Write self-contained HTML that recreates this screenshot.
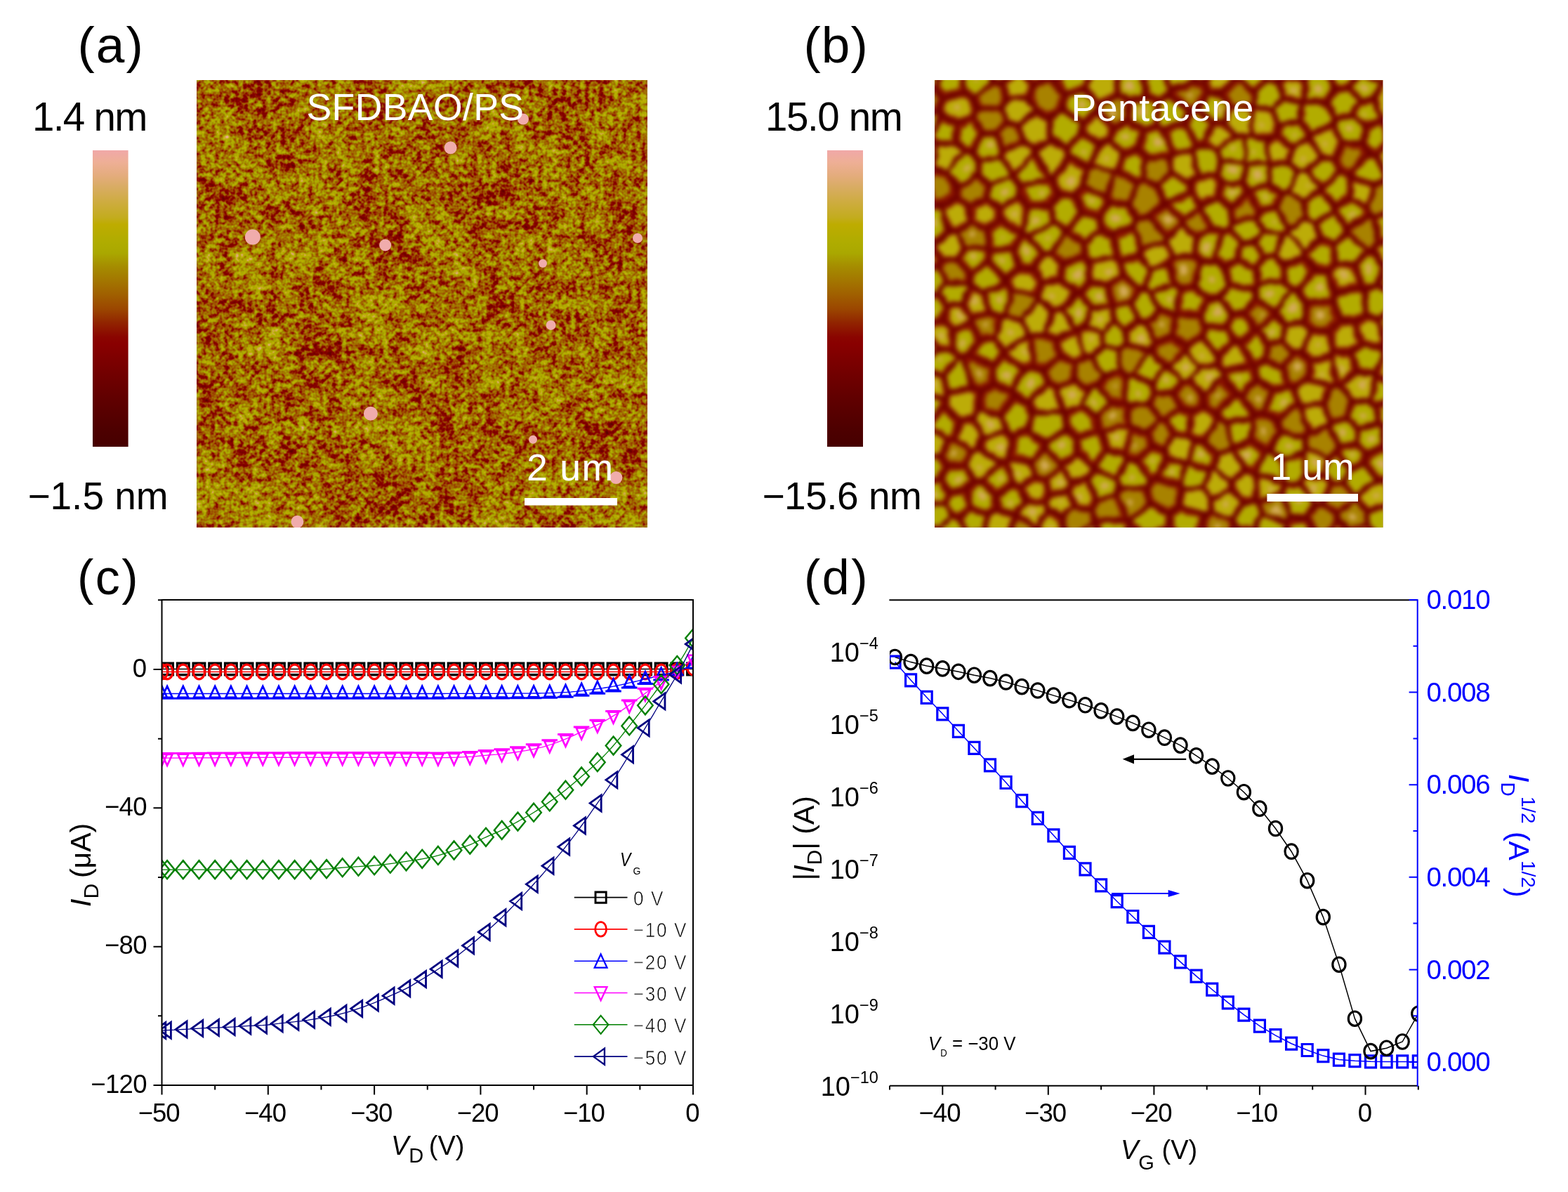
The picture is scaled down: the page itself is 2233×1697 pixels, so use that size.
<!DOCTYPE html><html><head><meta charset="utf-8"><title>Figure</title>
<style>html,body{margin:0;padding:0;background:#fff;overflow:hidden}svg{display:block}</style></head><body>
<svg width="2233" height="1697" viewBox="0 0 2233 1697" font-family="'Liberation Sans', Arial, Helvetica, sans-serif">
<defs>
<linearGradient id="cbar" x1="0" y1="0" x2="0" y2="1">
<stop offset="0.000" stop-color="rgb(240,168,168)"/>
<stop offset="0.040" stop-color="rgb(238,175,150)"/>
<stop offset="0.085" stop-color="rgb(228,172,125)"/>
<stop offset="0.130" stop-color="rgb(215,172,95)"/>
<stop offset="0.180" stop-color="rgb(205,172,60)"/>
<stop offset="0.227" stop-color="rgb(195,172,30)"/>
<stop offset="0.250" stop-color="rgb(190,172,0)"/>
<stop offset="0.310" stop-color="rgb(175,172,0)"/>
<stop offset="0.346" stop-color="rgb(170,168,0)"/>
<stop offset="0.393" stop-color="rgb(165,140,0)"/>
<stop offset="0.440" stop-color="rgb(163,118,0)"/>
<stop offset="0.488" stop-color="rgb(160,95,0)"/>
<stop offset="0.536" stop-color="rgb(155,70,0)"/>
<stop offset="0.583" stop-color="rgb(145,35,0)"/>
<stop offset="0.630" stop-color="rgb(138,5,0)"/>
<stop offset="0.654" stop-color="rgb(137,0,0)"/>
<stop offset="0.749" stop-color="rgb(115,0,0)"/>
<stop offset="0.844" stop-color="rgb(95,0,0)"/>
<stop offset="0.938" stop-color="rgb(78,0,0)"/>
<stop offset="1.000" stop-color="rgb(70,0,0)"/>
</linearGradient>
<filter id="fa" x="280" y="114" width="642" height="637" filterUnits="userSpaceOnUse" color-interpolation-filters="sRGB">
<feTurbulence type="fractalNoise" baseFrequency="0.15" numOctaves="2" seed="11" result="t1"/>
<feColorMatrix in="t1" type="matrix" values="1 0 0 0 0 1 0 0 0 0 1 0 0 0 0 0 0 0 0 1" result="n1"/>
<feTurbulence type="fractalNoise" baseFrequency="0.045" numOctaves="2" seed="23" result="t3"/>
<feColorMatrix in="t3" type="matrix" values="1 0 0 0 0 1 0 0 0 0 1 0 0 0 0 0 0 0 0 1" result="n3"/>
<feTurbulence type="fractalNoise" baseFrequency="0.012" numOctaves="3" seed="5" result="t2"/>
<feColorMatrix in="t2" type="matrix" values="1 0 0 0 0 1 0 0 0 0 1 0 0 0 0 0 0 0 0 1" result="n2"/>
<feComposite in="n1" in2="n3" operator="arithmetic" k1="0" k2="0.66" k3="0.38" k4="-0.02" result="n13"/>
<feComposite in="n13" in2="n2" operator="arithmetic" k1="0" k2="1" k3="0.24" k4="-0.09" result="n"/>
<feColorMatrix in="n" type="matrix" values="1 0 0 0 0 1 0 0 0 0 1 0 0 0 0 0 0 0 0 1" result="g"/>
<feComponentTransfer in="g"><feFuncR type="table" tableValues="0.275 0.287 0.300 0.316 0.335 0.353 0.371 0.392 0.413 0.434 0.456 0.479 0.502 0.526 0.539 0.550 0.565 0.584 0.606 0.617 0.628 0.634 0.640 0.644 0.651 0.661 0.674 0.689 0.714 0.739 0.761 0.783 0.804 0.824 0.845 0.874 0.901 0.924 0.936 0.941"/><feFuncG type="table" tableValues="0.000 0.000 0.000 0.000 0.000 0.000 0.000 0.000 0.000 0.000 0.000 0.000 0.000 0.000 0.011 0.056 0.120 0.192 0.267 0.322 0.374 0.422 0.470 0.517 0.569 0.629 0.664 0.675 0.675 0.675 0.675 0.675 0.675 0.675 0.675 0.675 0.677 0.683 0.676 0.659"/><feFuncB type="table" tableValues="0.000 0.000 0.000 0.000 0.000 0.000 0.000 0.000 0.000 0.000 0.000 0.000 0.000 0.000 0.000 0.000 0.000 0.000 0.000 0.000 0.000 0.000 0.000 0.000 0.000 0.000 0.000 0.000 0.000 0.000 0.098 0.172 0.237 0.307 0.377 0.444 0.508 0.564 0.614 0.659"/><feFuncA type="linear" slope="0" intercept="1"/></feComponentTransfer>
</filter>
<filter id="fb" x="1300" y="80" width="700" height="700" filterUnits="userSpaceOnUse" color-interpolation-filters="sRGB">
<feTurbulence type="fractalNoise" baseFrequency="0.06" numOctaves="2" seed="9" result="dn"/>
<feDisplacementMap in="SourceGraphic" in2="dn" scale="8" xChannelSelector="R" yChannelSelector="G" result="dd"/>
<feGaussianBlur in="dd" stdDeviation="3.2"/>
</filter>
<clipPath id="cpa"><rect x="280" y="114" width="642" height="637"/></clipPath>
<clipPath id="cpb"><rect x="1331" y="114" width="638.5" height="637"/></clipPath>
<clipPath id="cpc"><rect x="231" y="855" width="755" height="689"/></clipPath>
<clipPath id="cpd"><rect x="1267" y="855" width="751" height="690"/></clipPath>
</defs>
<rect width="2233" height="1697" fill="#fff"/>
<text x="110.5" y="88.8" font-size="73" text-anchor="start" fill="#000" letter-spacing="2">(a)</text>
<text x="1144.5" y="88.8" font-size="73" text-anchor="start" fill="#000" letter-spacing="1">(b)</text>
<text x="46" y="185.8" font-size="56.5" text-anchor="start" fill="#000" letter-spacing="-1.7">1.4 nm</text>
<text x="39.4" y="725" font-size="55" text-anchor="start" fill="#000">&#8722;1.5 nm</text>
<text x="1090" y="185.8" font-size="56.5" text-anchor="start" fill="#000" letter-spacing="-1.4">15.0 nm</text>
<text x="1085.5" y="725" font-size="55" text-anchor="start" fill="#000" letter-spacing="-0.5">&#8722;15.6 nm</text>
<rect x="132" y="214" width="50.6" height="422" fill="url(#cbar)"/>
<rect x="1178" y="214" width="51" height="422" fill="url(#cbar)"/>
<rect x="280" y="114" width="642" height="637" fill="#a05000" filter="url(#fa)"/>
<g clip-path="url(#cpa)" fill="rgb(240,172,172)">
<circle cx="745" cy="169.5" r="8"/>
<circle cx="641.6" cy="210.3" r="9"/>
<circle cx="359.8" cy="337.5" r="11"/>
<circle cx="548.7" cy="349.1" r="8.5"/>
<circle cx="908" cy="339" r="7"/>
<circle cx="773" cy="375" r="6"/>
<circle cx="784.6" cy="462.9" r="7"/>
<circle cx="527.9" cy="588.7" r="10"/>
<circle cx="759" cy="625.8" r="6"/>
<circle cx="877.4" cy="680.1" r="9"/>
<circle cx="423.4" cy="742.8" r="9"/>
</g>
<g clip-path="url(#cpb)">
<rect x="1331" y="114" width="638.5" height="637" fill="rgb(106,0,0)"/>
<g filter="url(#fb)">
<g fill="rgb(138,18,0)">
<polygon points="1422.3,658.5 1397.7,683.9 1388.2,682.9 1377.6,663.1 1383.8,645.0 1393.3,640.7"/>
<polygon points="1923.3,669.3 1916.5,686.4 1930.9,703.6 1959.1,683.7 1942.2,663.2"/>
<polygon points="1565.5,549.8 1574.2,535.2 1593.8,531.3 1602.8,535.9 1601.7,572.9 1581.2,571.1"/>
<polygon points="1308.4,402.5 1326.6,418.4 1335.0,417.9 1344.7,402.6 1336.1,380.5 1310.0,391.7"/>
<polygon points="1867.3,511.5 1855.2,499.8 1867.1,471.3 1891.6,474.7 1897.4,498.4 1894.0,503.5"/>
<polygon points="1261.5,59.1 1273.1,51.0 1291.9,52.1 1303.0,65.9 1300.9,86.0 1299.4,87.6 1268.8,89.6 1268.5,89.3"/>
<polygon points="1548.9,235.5 1526.0,223.3 1521.2,210.1 1541.3,191.2 1564.5,204.8 1550.2,235.0"/>
<polygon points="1640.5,499.3 1657.9,520.0 1666.0,520.8 1686.8,499.4 1687.1,493.3 1669.5,480.6 1645.6,489.8"/>
<polygon points="1573.9,491.0 1569.2,472.7 1585.8,461.2 1600.5,471.6 1601.5,487.6 1592.9,495.2"/>
<polygon points="1890.2,145.4 1860.5,141.8 1859.1,113.2 1870.1,102.3 1887.7,105.1 1898.8,127.0"/>
<polygon points="1462.3,294.4 1455.8,328.9 1424.8,312.0 1425.3,296.8 1450.0,281.5"/>
<polygon points="1834.3,331.8 1856.3,357.8 1856.0,364.2 1829.5,374.0 1817.9,362.7 1828.9,335.2"/>
<polygon points="1452.1,383.6 1435.4,399.0 1434.9,402.2 1441.3,412.5 1475.7,419.4 1481.4,403.9 1471.5,386.3"/>
<polygon points="1750.0,297.5 1752.4,317.0 1749.7,322.2 1741.0,325.4 1728.2,322.5 1711.1,297.1 1711.9,292.3 1734.6,285.5"/>
<polygon points="1841.8,410.9 1830.4,400.6 1830.4,377.8 1856.9,368.0 1870.1,385.0 1846.7,411.7"/>
<polygon points="1556.6,743.6 1556.9,742.1 1552.2,728.1 1532.6,723.8 1515.4,735.7 1517.7,758.5 1528.9,761.6"/>
<polygon points="1791.6,676.5 1827.7,689.3 1828.5,690.3 1824.9,699.7 1793.4,714.4 1789.0,711.8"/>
<polygon points="1438.5,801.1 1449.0,812.7 1469.6,807.5 1474.3,774.4 1448.4,776.8"/>
<polygon points="1897.8,349.6 1880.9,342.2 1860.6,358.8 1860.4,365.2 1873.5,382.2 1890.1,383.8 1900.4,373.0"/>
<polygon points="1837.4,326.9 1859.5,313.8 1871.7,318.1 1878.6,338.7 1858.3,355.4 1836.3,329.4"/>
<polygon points="1377.5,760.0 1401.0,761.1 1404.2,766.0 1403.0,785.5 1374.1,798.9 1363.7,776.1"/>
<polygon points="1949.2,647.2 1945.5,661.2 1962.4,681.6 1975.1,683.6 1985.0,669.5 1982.9,644.3 1971.5,636.8"/>
<polygon points="1781.9,190.3 1785.8,155.0 1788.0,153.2 1809.6,158.5 1819.5,176.7 1814.3,191.1 1805.1,196.2"/>
<polygon points="1937.9,784.1 1966.9,768.5 1971.7,769.5 1973.3,772.7 1969.6,799.6 1947.5,807.6 1942.9,805.1"/>
<polygon points="1560.7,740.4 1555.9,726.4 1562.5,714.6 1588.9,705.3 1603.2,738.3"/>
<polygon points="2000.7,311.1 1989.1,300.5 1992.1,282.2 2016.0,273.2 2030.5,285.2 2008.8,312.1"/>
<polygon points="1971.0,374.7 2002.5,375.0 2006.2,363.8 1985.4,343.8 1965.2,346.7 1957.6,357.1"/>
<polygon points="1528.1,71.9 1548.9,58.4 1571.5,84.5 1572.3,93.1 1553.7,102.1 1530.4,85.2"/>
<polygon points="1649.9,596.3 1632.6,613.3 1611.1,607.4 1608.5,604.1 1609.3,581.4 1636.1,574.9"/>
<polygon points="1835.5,323.4 1857.6,310.3 1854.6,287.7 1834.6,276.7 1828.2,278.6 1820.0,294.9"/>
<polygon points="1985.7,755.2 1976.0,768.2 1977.6,771.3 2016.4,789.6 2020.1,788.8 2020.5,788.3 2016.1,750.8"/>
<polygon points="1419.1,481.4 1427.2,453.4 1433.1,451.5 1453.2,458.8 1463.4,476.4 1430.6,496.5"/>
<polygon points="1691.2,659.1 1691.1,659.0 1700.9,630.3 1712.9,630.4 1731.7,647.8 1725.5,664.7 1722.4,666.5"/>
<polygon points="1535.2,623.8 1564.2,615.8 1566.3,617.1 1574.5,641.6 1557.7,662.4 1536.9,644.8"/>
<polygon points="1772.6,197.1 1758.8,195.2 1736.2,215.2 1741.5,226.6 1771.5,230.2"/>
<polygon points="1342.5,163.8 1363.0,173.5 1384.6,163.2 1387.7,154.2 1382.9,140.2 1374.2,134.0 1343.6,140.9 1339.3,157.1"/>
<polygon points="1340.5,167.4 1361.0,177.1 1360.0,202.5 1334.4,203.7 1327.6,196.2"/>
<polygon points="1881.1,719.9 1874.8,721.2 1862.6,735.3 1880.6,768.9 1903.9,741.3 1902.0,731.4"/>
<polygon points="1909.0,202.6 1897.8,179.2 1867.8,193.6 1866.9,197.0 1880.3,221.1 1899.8,224.9"/>
<polygon points="1350.2,243.8 1365.1,263.9 1391.4,247.1 1392.3,229.2 1382.9,219.0 1374.1,217.7"/>
<polygon points="1320.4,527.0 1343.8,534.0 1362.2,507.8 1354.8,500.2 1337.2,498.9 1319.7,513.5"/>
<polygon points="1770.6,669.7 1754.6,640.9 1735.5,648.9 1729.3,665.7 1753.1,683.6"/>
<polygon points="1506.8,485.0 1510.0,505.2 1532.4,512.7 1543.5,506.2 1534.9,472.9 1532.3,472.3"/>
<polygon points="1341.6,372.1 1339.2,378.9 1347.9,400.9 1378.7,401.5 1380.5,391.8 1362.6,370.4"/>
<polygon points="1363.3,203.0 1374.3,213.5 1383.1,214.7 1396.8,188.9 1385.9,167.2 1364.3,177.6"/>
<polygon points="1969.3,607.2 2005.7,598.2 2006.7,599.1 2008.4,629.9 1985.3,640.0 1973.9,632.5"/>
<polygon points="1285.1,535.5 1308.2,538.7 1310.7,557.4 1292.6,573.7 1275.1,558.0"/>
<polygon points="1657.5,100.6 1628.8,105.1 1633.3,135.7 1649.1,142.3 1663.5,132.9 1664.7,129.6"/>
<polygon points="1964.9,406.6 1985.8,416.3 1996.0,410.0 2005.2,385.7 2003.1,378.5 1971.6,378.2"/>
<polygon points="1871.0,718.7 1858.8,732.8 1839.0,735.1 1828.7,701.2 1832.3,691.7 1849.8,689.7"/>
<polygon points="1667.7,749.2 1667.7,733.1 1679.4,723.0 1714.7,733.3 1707.5,760.5 1703.4,763.5 1674.4,760.3"/>
<polygon points="1861.0,536.9 1842.8,549.5 1837.7,547.2 1828.4,522.5 1841.8,503.7 1852.0,503.0 1864.1,514.8"/>
<polygon points="1804.4,778.2 1826.5,770.4 1843.1,786.4 1829.6,818.0 1821.3,822.4 1811.7,814.9"/>
<polygon points="1547.3,239.4 1524.4,227.2 1500.4,255.7 1509.0,272.8 1530.1,274.4 1542.4,264.7"/>
<polygon points="1756.1,485.2 1744.4,467.6 1718.1,467.9 1713.9,479.6 1735.4,505.0"/>
<polygon points="1829.4,463.2 1823.6,483.4 1809.0,487.9 1791.4,470.7 1815.6,451.0"/>
<polygon points="1659.4,287.4 1659.4,287.4 1693.7,272.3 1694.1,263.3 1666.8,247.4 1649.9,264.0"/>
<polygon points="1685.5,696.4 1681.4,719.7 1716.6,730.1 1721.4,726.4 1723.9,712.8 1713.0,696.3"/>
<polygon points="1381.8,456.8 1382.6,455.0 1370.3,434.0 1350.0,437.4 1346.0,455.6 1358.9,467.0"/>
<polygon points="1647.3,792.5 1632.4,783.7 1628.2,761.7 1664.0,751.8 1670.7,763.0 1662.6,784.8"/>
<polygon points="1661.5,289.7 1695.8,274.6 1707.6,290.9 1706.7,295.6 1685.4,314.1"/>
<polygon points="1862.7,432.7 1896.3,428.9 1905.2,454.8 1891.7,470.6 1867.3,467.2 1859.0,458.2"/>
<polygon points="1541.3,303.6 1521.1,327.9 1543.7,344.9 1567.2,326.9 1563.6,310.4"/>
<polygon points="1495.4,701.9 1519.6,697.8 1524.8,686.6 1509.8,667.7 1489.0,683.1"/>
<polygon points="1515.5,67.7 1488.2,73.3 1497.5,110.0 1501.7,111.3 1526.2,85.6 1523.9,72.3"/>
<polygon points="1621.9,262.4 1628.6,259.9 1646.0,265.2 1655.5,288.7 1636.4,306.3 1620.7,307.4 1609.9,291.1"/>
<polygon points="1957.4,141.5 1970.2,167.8 1972.4,168.5 1991.1,162.2 1997.5,137.3 1993.7,127.7 1978.7,117.3 1971.3,120.3"/>
<polygon points="1908.2,243.3 1881.9,266.2 1862.9,243.7 1880.3,224.9 1899.7,228.7"/>
<polygon points="1947.7,643.4 1970.0,632.9 1965.4,607.6 1961.6,604.1 1937.3,612.4 1932.8,630.0"/>
<polygon points="1937.7,103.5 1931.8,83.5 1953.5,71.1 1978.6,95.4 1976.6,112.7 1969.2,115.7"/>
<polygon points="1441.5,250.4 1441.5,250.2 1424.3,225.2 1396.5,229.9 1395.6,247.9 1408.3,260.5"/>
<polygon points="1403.4,89.6 1407.5,82.1 1429.2,73.2 1446.5,85.8 1447.2,98.1 1425.2,116.6 1415.2,113.9"/>
<polygon points="1731.1,247.3 1707.4,249.1 1700.6,215.7 1707.1,209.4 1714.5,208.0 1732.4,216.4 1737.8,227.8"/>
<polygon points="1466.0,291.4 1494.8,290.8 1504.5,274.6 1495.9,257.5 1494.8,257.0 1454.3,263.9 1453.7,278.6"/>
<polygon points="1784.6,413.9 1750.4,408.6 1739.9,422.5 1756.0,444.7 1772.2,443.5 1786.0,423.6"/>
<polygon points="1579.1,407.5 1586.5,433.9 1609.7,428.7 1620.5,413.1 1598.0,392.8"/>
<polygon points="1319.8,745.8 1324.5,720.9 1344.3,718.6 1353.6,734.8 1338.1,750.8"/>
<polygon points="1670.7,558.9 1680.9,542.8 1665.5,525.0 1657.4,524.3 1643.2,547.4 1645.9,557.7"/>
<polygon points="1573.9,782.9 1570.1,780.8 1541.9,791.3 1534.4,807.8 1534.6,808.4 1555.8,822.1 1573.9,816.2"/>
<polygon points="1466.2,336.2 1487.1,358.4 1495.9,357.5 1514.8,329.6 1501.1,318.5"/>
<polygon points="1309.2,387.8 1335.2,376.7 1337.6,369.9 1328.2,349.7 1311.5,344.0 1311.3,344.0 1296.0,371.7"/>
<polygon points="1495.6,200.8 1476.7,212.9 1476.2,217.4 1496.5,252.1 1497.6,252.6 1521.6,224.1 1516.7,210.9"/>
<polygon points="1406.7,443.1 1400.2,417.5 1383.5,409.4 1372.8,432.0 1385.1,453.0"/>
<polygon points="1309.2,752.6 1294.9,748.3 1276.1,766.5 1279.8,780.6 1294.6,788.9 1308.8,778.8"/>
<polygon points="1583.1,336.5 1589.0,365.7 1551.9,370.9 1546.2,363.7 1545.4,347.9 1568.8,329.9"/>
<polygon points="1681.0,408.6 1699.8,405.1 1708.0,373.8 1699.6,367.0 1673.1,366.8 1667.9,375.6 1673.2,403.1"/>
<polygon points="1747.0,772.1 1712.2,760.7 1719.4,733.6 1724.3,729.9 1752.9,742.0 1756.4,751.4"/>
<polygon points="1913.9,689.0 1928.4,706.1 1928.3,709.9 1904.5,728.5 1883.6,716.9 1896.8,690.0"/>
<polygon points="1559.6,669.1 1588.8,684.3 1592.5,695.0 1588.9,701.9 1562.5,711.1 1551.9,681.8"/>
<polygon points="1791.0,539.0 1811.9,553.8 1833.9,548.1 1824.6,523.3 1800.8,515.9 1788.7,521.9"/>
<polygon points="1855.9,109.9 1831.9,106.5 1828.6,79.2 1834.9,72.6 1856.8,71.1 1866.9,99.1"/>
<polygon points="1503.7,114.0 1518.3,132.3 1543.7,126.1 1551.5,105.1 1528.2,88.3"/>
<polygon points="1891.6,652.9 1903.7,647.1 1920.0,668.1 1913.2,685.2 1896.1,686.2 1887.5,676.6"/>
<polygon points="1655.0,185.1 1667.8,217.5 1664.7,221.8 1632.6,221.3 1624.1,211.8 1631.2,187.9 1647.9,181.3"/>
<polygon points="1922.8,499.9 1901.1,497.0 1895.2,473.3 1908.7,457.5 1927.8,459.6 1937.0,488.8"/>
<polygon points="1347.8,559.6 1342.9,537.5 1319.4,530.4 1311.8,538.3 1314.2,556.9 1343.6,566.3"/>
<polygon points="1593.4,54.8 1576.0,84.2 1576.8,92.8 1592.5,101.0 1612.1,93.6 1616.4,74.0 1605.5,57.1"/>
<polygon points="2019.1,354.2 2019.0,325.6 2009.0,316.2 2000.8,315.3 1988.0,341.4 2008.8,361.3"/>
<polygon points="1733.2,507.3 1711.7,481.9 1691.7,493.6 1691.4,499.7 1707.6,520.5 1732.0,518.5"/>
<polygon points="1901.0,292.0 1920.3,280.5 1922.6,254.3 1919.3,249.1 1910.1,245.7 1883.8,268.6 1883.8,269.0"/>
<polygon points="1707.2,157.3 1696.1,161.4 1689.3,174.6 1705.9,204.9 1713.3,203.5 1724.8,176.8"/>
<polygon points="1780.9,594.5 1784.5,589.7 1767.5,565.3 1759.6,564.0 1734.4,588.8 1736.7,594.0 1745.5,599.8"/>
<polygon points="1904.8,786.9 1906.7,813.8 1913.5,818.3 1939.1,806.3 1934.1,785.2 1923.1,779.5"/>
<polygon points="1612.8,430.5 1623.6,454.5 1631.5,456.8 1650.0,441.8 1637.3,416.9 1630.5,413.6 1623.6,414.9"/>
<polygon points="2009.4,206.2 2009.4,179.9 1992.7,166.9 1974.0,173.2 1978.8,203.3 2007.3,207.7"/>
<polygon points="1764.4,93.9 1764.6,93.7 1792.0,90.4 1803.1,114.1 1786.3,129.6 1764.0,108.7"/>
<polygon points="1530.9,623.9 1532.5,644.9 1510.4,660.3 1490.0,635.5 1490.0,631.1 1518.0,615.5"/>
<polygon points="1839.2,231.6 1848.2,241.7 1859.8,242.1 1877.1,223.3 1863.7,199.2 1843.0,211.8"/>
<polygon points="1987.3,711.0 2016.5,715.5 2021.2,720.5 2023.2,737.1 2016.4,746.4 1986.0,750.7 1982.5,718.7"/>
<polygon points="1997.5,414.2 2023.5,426.5 2013.1,460.9 2011.7,460.7 1987.3,439.7 1987.4,420.4"/>
<polygon points="1442.1,355.2 1410.2,358.2 1408.9,370.2 1432.6,396.1 1449.4,380.7"/>
<polygon points="1318.5,682.6 1304.2,670.8 1304.4,666.4 1317.0,649.7 1337.9,650.2 1346.6,664.5 1337.3,680.9"/>
<polygon points="1656.3,96.9 1627.7,101.4 1616.3,94.4 1620.6,74.8 1649.4,65.9 1658.6,92.9"/>
<polygon points="1794.9,297.9 1780.4,273.4 1780.5,272.7 1806.6,262.9 1824.4,277.0 1816.2,293.3"/>
<polygon points="1927.2,165.1 1945.5,178.2 1967.0,169.5 1954.1,143.3 1938.5,144.5"/>
<polygon points="1581.2,289.3 1568.0,309.3 1571.6,325.8 1585.8,332.4 1611.9,319.3 1616.8,310.2 1605.9,293.9"/>
<polygon points="1701.0,625.5 1694.4,619.4 1698.9,587.4 1714.0,581.0 1729.7,590.6 1732.1,595.8 1713.0,625.7"/>
<polygon points="1420.2,707.1 1443.3,692.4 1452.1,695.5 1459.4,714.0 1447.2,731.2 1444.9,731.9 1420.8,722.5"/>
<polygon points="1365.5,505.4 1370.5,506.5 1377.9,504.1 1392.9,484.2 1382.5,460.7 1359.6,470.9 1358.1,497.8"/>
<polygon points="1322.0,610.2 1309.2,622.2 1282.9,618.1 1277.0,610.3 1293.9,583.5 1322.6,598.4"/>
<polygon points="1789.7,404.0 1785.2,410.5 1750.9,405.2 1746.2,381.0 1761.8,372.9 1787.1,383.0"/>
<polygon points="1582.4,199.2 1598.7,216.6 1619.8,210.9 1626.9,187.1 1606.2,174.5 1587.3,183.7"/>
<polygon points="1764.9,90.2 1767.7,56.9 1773.9,51.6 1792.4,58.0 1799.1,78.6 1792.3,86.9"/>
<polygon points="1715.7,802.9 1735.8,800.5 1747.7,782.5 1745.9,775.7 1711.1,764.3 1707.0,767.3 1708.4,796.2"/>
<polygon points="1841.0,415.6 1817.4,443.8 1818.0,447.8 1831.8,460.0 1854.7,456.9 1858.5,431.3 1845.9,416.4"/>
<polygon points="1678.9,412.8 1672.5,445.5 1672.1,445.8 1653.5,441.3 1640.8,416.4 1671.1,407.3"/>
<polygon points="1976.5,246.3 1999.3,237.7 2006.2,211.2 1977.7,206.8 1961.8,220.7"/>
<polygon points="1938.3,141.1 1953.9,139.9 1967.8,118.6 1936.3,106.4 1924.5,125.2"/>
<polygon points="1949.2,569.5 1956.3,536.0 1955.5,534.2 1934.5,531.5 1911.9,548.7 1928.6,569.4"/>
<polygon points="1671.0,449.3 1668.4,476.9 1644.6,486.1 1633.9,459.9 1652.5,444.8"/>
<polygon points="1800.6,773.6 1788.3,755.1 1798.5,733.9 1829.8,745.0 1825.0,766.4 1802.9,774.2"/>
<polygon points="1681.2,690.3 1647.9,679.8 1663.2,653.3 1687.4,660.8 1687.4,660.9"/>
<polygon points="1514.7,154.4 1519.5,136.0 1544.9,129.8 1561.8,147.9 1560.3,158.1 1541.5,172.6"/>
<polygon points="1679.6,693.5 1646.4,683.1 1640.4,685.4 1635.6,694.3 1639.9,714.8 1664.7,728.6 1676.5,718.5 1680.6,695.2"/>
<polygon points="1947.2,413.7 1945.8,446.6 1962.9,452.2 1983.4,439.0 1983.5,419.7 1962.5,410.0"/>
<polygon points="2009.2,515.0 2012.6,510.6 2013.7,466.9 2012.6,466.1 2011.1,465.8 1975.0,488.6 1972.4,495.6 1974.1,500.6"/>
<polygon points="1659.1,346.0 1627.9,354.8 1623.8,363.1 1640.4,380.3 1664.0,373.4 1669.2,364.6"/>
<polygon points="1902.5,125.1 1891.4,103.2 1913.4,79.4 1927.5,84.1 1933.4,104.1 1921.6,122.9"/>
<polygon points="1788.1,311.8 1756.4,319.0 1753.7,324.3 1769.2,343.5 1785.4,343.5 1795.7,328.1"/>
<polygon points="1882.6,574.0 1895.2,550.8 1862.8,540.5 1844.6,553.1 1851.0,573.4 1851.5,573.9"/>
<polygon points="1412.6,545.4 1412.4,522.0 1380.0,508.3 1372.6,510.7 1385.9,550.9 1394.9,554.8"/>
<polygon points="1388.7,687.5 1379.2,698.4 1383.0,721.8 1406.7,730.4 1416.6,721.9 1416.0,706.5 1398.1,688.4"/>
<polygon points="1495.7,115.1 1474.2,121.4 1467.8,138.9 1475.9,157.2 1493.9,165.1 1509.8,153.2 1514.6,134.8 1499.9,116.5"/>
<polygon points="1516.3,612.2 1514.2,588.6 1513.4,587.9 1472.6,589.7 1467.2,612.2 1488.3,627.9"/>
<polygon points="1972.3,259.4 1988.1,281.5 1985.2,299.8 1957.0,305.4 1953.1,303.2 1950.6,297.0 1959.5,266.2"/>
<polygon points="1463.2,338.0 1484.0,360.2 1472.2,382.0 1452.8,379.4 1445.5,353.8 1458.9,336.9"/>
<polygon points="1425.8,449.4 1410.1,442.9 1403.6,417.4 1431.7,405.1 1438.0,415.3 1431.6,447.5"/>
<polygon points="1861.4,614.7 1849.4,577.8 1848.9,577.4 1820.4,599.0 1825.6,614.0 1856.6,621.6"/>
<polygon points="1751.1,326.8 1766.7,346.0 1759.7,369.0 1744.1,377.0 1731.2,369.8 1742.4,330.0"/>
<polygon points="1589.9,105.0 1591.0,133.8 1564.8,144.8 1547.9,126.6 1555.7,105.7 1574.2,96.7"/>
<polygon points="1600.0,390.2 1599.5,373.4 1620.9,365.6 1637.5,382.8 1629.3,409.2 1622.5,410.5"/>
<polygon points="1928.9,629.2 1907.8,634.5 1896.0,607.2 1898.2,603.5 1915.4,597.4 1933.4,611.6"/>
<polygon points="1535.7,413.3 1534.7,413.4 1511.3,397.4 1515.3,376.0 1543.2,367.6 1548.9,374.8 1549.1,399.0"/>
<polygon points="1901.8,301.7 1919.6,322.7 1948.8,304.6 1946.3,298.3 1922.1,284.0 1902.8,295.5"/>
<polygon points="1788.6,149.2 1789.1,132.6 1805.9,117.1 1819.4,118.1 1825.3,140.4 1810.1,154.6"/>
<polygon points="1898.7,169.5 1896.5,175.3 1866.6,189.8 1852.6,170.6 1857.0,148.6 1860.2,146.0 1889.9,149.5"/>
<polygon points="1433.9,658.5 1444.3,688.2 1453.1,691.3 1472.3,676.7 1467.8,661.5 1437.6,654.7"/>
<polygon points="1516.5,584.2 1507.3,553.0 1529.8,543.2 1548.0,554.9 1539.3,576.3 1517.3,584.9"/>
<polygon points="1334.6,155.7 1338.9,139.6 1331.0,128.2 1307.3,123.8 1297.5,133.0 1299.3,159.0"/>
<polygon points="1368.8,596.2 1347.8,578.4 1347.8,569.0 1352.0,562.3 1383.7,555.1 1392.7,559.1 1392.7,583.5 1384.7,593.0"/>
<polygon points="1877.5,771.5 1859.5,737.9 1839.7,740.2 1834.4,745.4 1829.6,766.8 1846.2,782.8 1864.3,782.2 1877.5,771.7"/>
<polygon points="1382.7,318.1 1365.1,331.9 1374.7,350.8 1404.5,352.5 1403.5,328.9"/>
<polygon points="1731.8,586.8 1716.0,577.2 1715.8,563.6 1739.8,538.5 1756.9,562.1"/>
<polygon points="1381.8,505.0 1396.8,485.1 1416.4,484.4 1427.9,499.5 1427.5,504.1 1414.1,518.7"/>
<polygon points="1903.7,375.7 1893.3,386.5 1902.8,415.4 1938.5,407.9 1928.4,377.8"/>
<polygon points="1360.4,205.8 1371.4,216.2 1347.5,242.3 1330.5,238.7 1334.8,206.9"/>
<polygon points="1587.4,242.3 1589.1,241.5 1596.2,219.5 1579.9,202.1 1568.2,205.6 1553.9,235.8"/>
<polygon points="1436.0,761.9 1442.8,735.2 1418.7,725.8 1408.8,734.3 1404.3,758.3 1407.5,763.2"/>
<polygon points="1855.7,646.1 1828.2,655.9 1831.0,686.9 1831.8,687.9 1849.3,685.9 1857.1,677.4"/>
<polygon points="1548.5,683.2 1559.2,712.5 1552.5,724.3 1533.0,720.1 1522.9,699.5 1528.1,688.3"/>
<polygon points="1736.1,419.7 1721.0,423.1 1703.9,406.3 1712.1,375.0 1729.0,374.3 1741.9,381.5 1746.6,405.8"/>
<polygon points="1534.9,648.1 1555.6,665.8 1555.7,666.8 1548.0,679.5 1527.5,684.6 1512.5,665.7 1512.7,663.6"/>
<polygon points="1918.5,333.5 1945.3,357.9 1929.1,374.2 1904.3,372.2 1901.7,348.8"/>
<polygon points="1345.3,94.1 1334.5,125.5 1342.4,136.8 1373.1,129.9 1369.4,99.3 1353.8,88.7"/>
<polygon points="1296.1,229.1 1284.0,244.6 1289.4,262.0 1314.9,262.2 1324.4,241.9"/>
<polygon points="1439.4,554.4 1456.3,526.9 1429.6,507.2 1416.2,521.9 1416.5,545.3"/>
<polygon points="1448.7,278.5 1449.3,263.8 1442.8,253.3 1409.6,263.4 1409.0,282.5 1423.9,293.8"/>
<polygon points="1787.7,587.9 1797.3,586.2 1810.2,557.2 1789.2,542.4 1770.8,563.5"/>
<polygon points="1313.4,440.3 1322.9,459.7 1342.6,454.4 1346.6,436.2 1335.5,421.6 1327.0,422.1"/>
<polygon points="1864.8,614.1 1852.8,577.3 1883.9,577.4 1894.6,601.6 1892.5,605.3"/>
<polygon points="1923.9,163.7 1935.2,143.2 1921.4,127.2 1902.3,129.4 1893.7,147.8 1902.6,167.8"/>
<polygon points="1332.7,786.6 1337.3,810.5 1359.1,814.9 1368.5,808.0 1370.8,801.1 1360.3,778.3 1347.2,775.0"/>
<polygon points="1792.2,299.9 1777.7,275.4 1753.9,296.7 1756.3,316.2 1788.0,308.9"/>
<polygon points="1938.4,205.7 1912.6,204.7 1903.3,227.0 1911.7,241.5 1921.0,244.9 1948.1,219.0"/>
<polygon points="1985.2,340.0 1964.9,342.9 1958.2,308.8 1986.3,303.2 1997.9,313.9"/>
<polygon points="1861.8,638.7 1860.5,624.6 1865.2,617.7 1892.9,609.0 1904.7,636.3 1901.7,643.3 1889.6,649.1"/>
<polygon points="1646.1,177.0 1629.4,183.6 1608.7,171.0 1608.2,146.5 1631.2,139.3 1647.0,145.9"/>
<polygon points="1933.3,706.0 1961.5,686.2 1974.2,688.1 1982.7,708.7 1977.9,716.4 1948.0,726.0 1933.3,709.8"/>
<polygon points="1577.0,778.5 1573.1,776.4 1561.4,745.1 1561.7,743.6 1604.2,741.4 1606.5,742.9 1608.3,749.7 1587.6,776.4"/>
<polygon points="1380.3,315.2 1362.7,329.0 1353.1,327.8 1340.7,295.4 1362.4,284.0 1377.3,294.8"/>
<polygon points="1577.6,783.1 1577.5,816.4 1591.6,823.4 1604.6,820.2 1608.0,796.0 1588.2,781.1"/>
<polygon points="1780.4,194.3 1803.6,200.2 1804.1,230.6 1775.2,231.3 1774.5,230.3 1775.6,197.2"/>
<polygon points="1870.8,97.4 1860.6,69.5 1867.7,59.6 1892.6,53.6 1900.7,57.8 1910.3,76.5 1888.3,100.2"/>
<polygon points="1697.7,628.8 1691.1,622.7 1673.4,622.4 1659.4,639.5 1663.7,650.1 1687.9,657.5"/>
<polygon points="1324.1,717.7 1343.9,715.4 1350.3,701.0 1338.1,684.5 1319.3,686.2 1316.5,710.2"/>
<polygon points="1592.6,242.6 1599.8,220.6 1621.0,215.0 1629.5,224.6 1626.9,255.2 1620.3,257.7"/>
<polygon points="1635.8,571.1 1609.0,577.6 1605.1,573.7 1606.3,536.7 1611.9,535.4 1639.2,548.9 1642.0,559.2"/>
<polygon points="1291.5,171.1 1276.8,176.0 1275.8,204.5 1292.9,215.5 1311.8,195.7"/>
<polygon points="1575.7,408.2 1552.2,402.0 1538.7,416.4 1555.1,437.1 1582.4,435.5 1583.1,434.6"/>
<polygon points="1442.6,617.9 1462.5,611.4 1467.9,588.9 1462.6,575.7 1443.8,565.7 1427.1,594.1 1434.2,612.3"/>
<polygon points="1722.6,129.1 1738.0,131.0 1759.9,109.3 1760.3,94.6 1731.6,87.4 1716.2,118.8"/>
<polygon points="1662.5,748.7 1662.5,732.6 1637.7,718.7 1611.5,741.4 1613.3,748.2 1626.7,758.5"/>
<polygon points="1738.8,529.9 1738.8,535.5 1714.7,560.5 1697.1,541.4 1708.6,523.7 1733.0,521.7"/>
<polygon points="1456.9,204.1 1472.0,212.4 1471.5,217.0 1444.8,247.7 1427.5,222.8 1431.1,214.5"/>
<polygon points="1987.2,643.6 2010.3,633.5 2020.6,638.6 2031.8,666.0 2025.5,670.9 1989.3,668.8"/>
<polygon points="1815.1,365.5 1826.7,376.8 1826.7,399.6 1793.6,402.9 1791.0,381.9 1801.9,367.4"/>
<polygon points="1477.4,773.9 1472.7,807.1 1486.0,815.1 1506.6,800.0 1495.6,774.0 1480.7,771.2"/>
<polygon points="1861.6,310.5 1858.6,287.8 1881.0,272.2 1898.3,295.1 1897.3,301.2 1873.8,314.7"/>
<polygon points="1440.8,562.9 1424.1,591.3 1397.5,582.7 1397.5,558.3 1415.2,548.9 1438.1,558.0"/>
<polygon points="1299.8,91.6 1269.2,93.5 1267.0,122.8 1294.4,130.2 1304.2,121.0"/>
<polygon points="1284.0,417.7 1292.5,436.0 1310.6,438.7 1324.2,420.6 1306.0,404.6"/>
<polygon points="1768.4,715.4 1753.9,739.1 1725.3,727.0 1727.7,713.3 1752.2,699.8"/>
<polygon points="1761.2,90.9 1761.4,90.7 1764.2,57.4 1732.9,51.9 1728.5,77.5 1732.5,83.7"/>
<polygon points="1769.9,487.9 1787.3,473.1 1789.0,473.2 1806.5,490.4 1798.9,512.1 1786.8,518.1 1785.4,517.4"/>
<polygon points="1798.8,330.0 1788.5,345.4 1801.5,363.9 1814.7,362.0 1825.8,334.5"/>
<polygon points="1289.4,265.5 1314.9,265.6 1323.7,291.6 1320.6,293.9 1286.4,295.6 1277.3,283.7"/>
<polygon points="1787.5,670.3 1801.9,642.1 1781.3,629.3 1757.4,639.5 1757.4,639.6 1773.4,668.4"/>
<polygon points="1517.7,330.6 1498.8,358.5 1514.1,371.9 1542.0,363.5 1541.2,347.7 1518.6,330.7"/>
<polygon points="1613.6,97.7 1625.0,104.6 1629.4,135.2 1606.4,142.5 1595.0,133.9 1593.9,105.1"/>
<polygon points="1492.2,170.0 1474.2,162.1 1451.7,178.6 1459.2,200.7 1474.4,209.1 1493.3,196.9"/>
<polygon points="1904.1,545.2 1897.2,506.4 1900.6,501.3 1922.3,504.1 1931.6,528.9 1909.0,546.1"/>
<polygon points="1796.8,775.0 1784.5,756.5 1759.8,753.7 1750.4,774.4 1752.2,781.2 1772.5,789.7"/>
<polygon points="2011.7,529.9 2032.1,549.3 2032.0,552.8 2005.2,575.1 1991.9,564.3 1991.0,549.4"/>
<polygon points="1425.2,656.0 1396.3,638.2 1402.5,624.5 1431.6,616.6 1440.0,622.1 1434.8,651.3 1431.0,655.1"/>
<polygon points="1371.4,352.2 1362.1,366.8 1341.1,368.5 1331.7,348.4 1352.2,332.1 1361.8,333.2"/>
<polygon points="1449.6,101.0 1469.9,120.0 1463.6,137.5 1435.8,140.0 1427.7,119.5"/>
<polygon points="1750.9,152.7 1737.3,135.2 1721.9,133.3 1709.7,154.7 1727.4,174.2 1742.7,171.5"/>
<polygon points="1343.3,90.5 1305.8,86.5 1307.9,66.3 1334.1,55.7 1351.8,77.3 1351.7,85.2"/>
<polygon points="1678.8,581.0 1670.4,562.4 1645.6,561.2 1639.4,573.1 1653.2,594.4 1659.2,595.5"/>
<polygon points="1804.7,234.1 1807.1,236.3 1805.6,259.8 1779.5,269.7 1772.8,259.6 1775.8,234.8"/>
<polygon points="1670.8,620.4 1656.8,637.6 1642.5,632.9 1635.4,615.4 1652.7,598.4 1658.7,599.4"/>
<polygon points="1503.0,485.6 1506.2,505.8 1487.0,524.8 1474.6,519.7 1469.7,479.9 1488.5,477.1"/>
<polygon points="1386.1,216.3 1395.5,226.5 1423.3,221.8 1426.8,213.5 1417.7,191.8 1399.8,190.5"/>
<polygon points="1455.1,455.1 1476.4,424.8 1475.8,422.6 1441.3,415.7 1435.0,447.9"/>
<polygon points="1575.6,278.0 1546.1,264.4 1550.9,239.2 1552.2,238.6 1585.7,245.2"/>
<polygon points="1978.2,686.6 1986.7,707.1 2015.9,711.7 2024.3,674.6 1988.1,672.5"/>
<polygon points="1530.9,805.9 1509.9,799.3 1499.0,773.2 1516.0,762.6 1527.2,765.7 1538.4,789.5"/>
<polygon points="1857.4,639.2 1856.1,625.1 1825.1,617.6 1810.0,640.4 1827.8,652.2 1855.3,642.4"/>
<polygon points="1838.0,413.3 1826.6,403.0 1793.6,406.4 1789.0,412.9 1790.4,422.7 1814.4,441.6"/>
<polygon points="1916.4,330.4 1917.1,325.3 1899.3,304.2 1875.8,317.7 1882.7,338.4 1899.6,345.8"/>
<polygon points="1367.3,737.4 1381.9,725.2 1405.5,733.9 1401.0,757.9 1377.4,756.8"/>
<polygon points="1481.6,767.5 1496.5,770.2 1513.5,759.6 1511.2,736.8 1492.7,728.3 1478.4,752.9"/>
<polygon points="1550.3,551.2 1561.9,547.9 1570.6,533.3 1554.1,511.3 1545.8,509.9 1534.7,516.4 1532.1,539.6"/>
<polygon points="1660.2,652.2 1655.8,641.6 1641.6,636.9 1620.4,654.6 1638.9,681.0 1644.9,678.7"/>
<polygon points="1389.1,164.9 1392.1,156.0 1425.4,157.0 1431.7,172.4 1417.8,187.8 1400.0,186.6"/>
<polygon points="1778.4,190.6 1782.4,155.2 1754.3,155.0 1746.1,173.8 1759.8,191.5 1773.6,193.4"/>
<polygon points="1724.6,670.2 1727.7,668.3 1751.5,686.2 1750.9,696.7 1726.5,710.2 1715.6,693.6"/>
<polygon points="1566.3,148.7 1564.8,158.9 1585.6,179.9 1604.5,170.7 1604.0,146.2 1592.6,137.6"/>
<polygon points="1314.4,647.1 1301.7,663.8 1280.2,643.2 1282.5,621.4 1308.8,625.5"/>
<polygon points="1996.1,123.6 2027.0,104.3 2025.7,96.0 2000.2,80.7 1983.0,95.9 1981.0,113.2"/>
<polygon points="1475.3,384.2 1485.1,401.8 1507.3,396.2 1511.3,374.9 1495.9,361.5 1487.1,362.4"/>
<polygon points="1849.9,413.5 1873.3,386.7 1889.9,388.3 1899.4,417.1 1896.1,424.6 1862.5,428.4"/>
<polygon points="1594.9,498.5 1603.5,491.0 1634.1,500.8 1610.5,531.0 1604.9,532.3 1595.8,527.7"/>
<polygon points="1385.2,684.9 1374.6,665.1 1350.5,666.0 1341.3,682.5 1353.5,699.0 1375.7,695.9"/>
<polygon points="1445.5,560.7 1464.3,570.7 1491.8,545.7 1484.8,529.4 1472.4,524.3 1459.8,528.3 1442.8,555.7"/>
<polygon points="1439.9,763.0 1446.7,736.3 1449.0,735.6 1474.7,753.4 1477.9,767.9 1474.6,770.6 1448.6,773.0"/>
<polygon points="1581.0,575.5 1601.5,577.3 1605.4,581.2 1604.5,603.9 1569.2,613.0 1567.1,611.7 1565.3,593.6"/>
<polygon points="1948.8,730.0 1947.7,744.3 1967.7,764.5 1972.5,765.5 1982.2,752.5 1978.6,720.4"/>
<polygon points="1366.2,599.4 1345.3,581.6 1327.0,598.3 1326.4,610.1 1349.1,624.9 1358.4,622.0"/>
<polygon points="1939.5,411.9 1903.9,419.4 1900.6,426.9 1909.5,452.8 1928.6,454.9 1941.7,446.8 1943.2,413.9"/>
<polygon points="1809.2,260.3 1827.0,274.5 1833.4,272.6 1845.4,244.6 1836.4,234.5 1810.7,236.8"/>
<polygon points="1347.4,627.5 1338.3,646.7 1317.4,646.2 1311.9,624.7 1324.6,612.7"/>
<polygon points="1578.8,279.4 1581.4,285.0 1606.2,289.6 1618.2,260.9 1590.5,245.8 1588.9,246.7"/>
<polygon points="1621.2,312.0 1616.3,321.2 1626.8,351.4 1658.0,342.6 1658.2,340.2 1636.9,310.9"/>
<polygon points="1578.2,640.6 1602.4,645.4 1608.0,610.2 1605.3,606.9 1570.0,616.0"/>
<polygon points="1596.4,693.6 1631.2,691.8 1635.9,682.9 1617.3,656.5 1607.6,654.3 1592.7,683.0"/>
<polygon points="1512.9,584.5 1472.0,586.3 1466.7,573.1 1494.2,548.1 1503.7,553.3"/>
<polygon points="1337.2,495.1 1318.6,472.3 1323.7,463.3 1343.4,458.1 1356.3,469.5 1354.8,496.4"/>
<polygon points="1940.8,488.1 1931.5,458.9 1944.6,450.9 1961.8,456.4 1970.5,487.0 1967.9,494.0"/>
<polygon points="1662.1,91.2 1652.9,64.3 1657.1,53.9 1686.0,54.9 1692.1,76.1 1686.1,86.1"/>
<polygon points="1465.3,295.8 1494.1,295.2 1499.2,316.2 1464.3,333.9 1460.0,332.8 1458.8,330.4"/>
<polygon points="1445.9,250.7 1445.9,250.5 1472.6,219.7 1493.0,254.4 1452.5,261.3"/>
<polygon points="1292.2,439.8 1310.3,442.5 1319.8,461.9 1314.7,470.9 1293.2,479.1 1289.2,476.8 1281.0,460.7"/>
<polygon points="1351.1,558.1 1346.2,536.0 1364.5,509.7 1369.5,510.8 1382.9,551.0"/>
<polygon points="1800.8,586.5 1813.7,557.4 1835.6,551.7 1840.8,554.0 1847.1,574.4 1818.7,595.9"/>
<polygon points="1948.4,360.7 1954.5,359.6 1967.9,377.2 1961.1,405.5 1945.8,409.2 1942.2,407.1 1932.1,377.0"/>
<polygon points="1955.4,68.1 1980.5,92.3 1997.8,77.1 1999.7,60.0 1970.3,47.5 1960.3,52.9"/>
<polygon points="1316.9,511.4 1297.0,498.7 1294.3,482.2 1315.9,474.0 1334.4,496.8"/>
<polygon points="1702.9,363.4 1711.3,370.2 1728.2,369.5 1739.4,329.7 1726.6,326.7 1705.9,339.2"/>
<polygon points="1278.4,371.8 1292.5,370.3 1307.8,342.6 1280.3,329.9 1274.5,332.5 1265.4,350.6"/>
<polygon points="1783.7,625.7 1804.3,638.5 1806.2,638.0 1821.3,615.2 1816.1,600.1 1798.2,590.7 1788.7,592.4 1785.1,597.2"/>
<polygon points="1572.9,494.2 1556.9,509.5 1573.3,531.5 1592.9,527.6 1592.0,498.4"/>
<polygon points="1692.2,159.7 1665.2,136.7 1650.8,146.0 1649.9,177.2 1657.1,180.9 1685.4,172.8"/>
<polygon points="1313.0,709.2 1291.4,713.8 1280.2,688.8 1280.6,687.4 1301.6,673.5 1315.8,685.3"/>
<polygon points="1897.3,599.1 1914.5,593.1 1925.2,571.6 1908.5,550.9 1903.5,550.0 1899.2,551.8 1886.6,574.9"/>
<polygon points="1660.0,98.6 1667.3,127.7 1700.0,114.2 1686.4,89.5 1662.3,94.6"/>
<polygon points="1577.0,404.4 1553.5,398.3 1553.3,374.1 1590.3,368.9 1595.5,373.0 1595.9,389.8"/>
<polygon points="1516.5,439.9 1534.9,418.8 1535.9,418.6 1552.2,439.4 1546.2,463.1 1535.9,468.1 1533.3,467.6"/>
<polygon points="1973.6,485.9 2009.7,463.1 1985.3,442.2 1964.8,455.3"/>
<polygon points="1818.6,192.7 1841.8,208.3 1862.5,195.7 1863.4,192.3 1849.4,173.2 1823.8,178.2"/>
<polygon points="1647.7,261.2 1664.6,244.7 1664.9,225.6 1632.8,225.2 1630.2,255.9"/>
<polygon points="1551.3,555.2 1562.8,551.8 1578.5,573.1 1562.8,591.2 1542.6,576.6"/>
<polygon points="1329.3,345.1 1312.6,339.4 1323.3,297.4 1326.5,295.1 1337.4,296.3 1349.8,328.7"/>
<polygon points="2008.9,527.3 1988.2,546.7 1960.6,533.9 1959.8,532.1 1972.7,504.5 2007.7,518.8"/>
<polygon points="1674.8,449.5 1672.2,477.1 1689.8,489.9 1709.8,478.1 1714.0,466.4 1707.7,451.6 1675.2,449.3"/>
<polygon points="1316.7,745.5 1321.4,720.6 1313.8,713.0 1292.2,717.6 1287.2,727.9 1296.1,744.5 1310.3,748.8"/>
<polygon points="1392.1,636.5 1382.6,640.8 1362.0,623.5 1369.9,600.8 1385.7,597.6 1398.4,622.7"/>
<polygon points="1496.5,169.6 1497.6,196.6 1518.7,206.7 1538.8,187.8 1539.2,175.9 1512.3,157.7"/>
<polygon points="1994.6,163.8 2001.0,138.9 2034.5,147.0 2029.6,168.5 2011.3,176.9"/>
<polygon points="1373.0,99.6 1399.9,91.6 1411.6,116.0 1385.3,136.4 1376.7,130.2"/>
<polygon points="1682.4,579.7 1674.0,561.1 1684.2,545.0 1694.3,544.3 1711.9,563.5 1712.2,577.1 1697.1,583.6"/>
<polygon points="1413.9,118.3 1424.0,120.9 1432.1,141.4 1425.7,153.7 1392.5,152.6 1387.7,138.6"/>
<polygon points="1495.3,704.8 1519.5,700.8 1529.6,721.3 1512.3,733.2 1493.8,724.7 1490.1,715.8"/>
<polygon points="1356.3,85.1 1356.4,77.3 1377.8,55.1 1384.6,54.8 1402.8,80.3 1398.8,87.8 1371.9,95.8"/>
<polygon points="1946.8,181.8 1942.1,202.8 1951.7,216.2 1959.2,217.8 1975.2,203.9 1970.4,173.8 1968.2,173.1"/>
<polygon points="1682.6,800.8 1704.5,796.0 1703.2,767.1 1674.2,763.9 1666.2,785.7"/>
<polygon points="1438.9,651.1 1469.1,657.9 1485.3,635.5 1485.2,631.2 1464.1,615.5 1444.2,621.9"/>
<polygon points="1951.0,221.1 1958.5,222.7 1973.2,248.3 1970.9,255.1 1958.0,261.8 1927.2,252.1 1923.9,246.9"/>
<polygon points="1538.2,301.6 1518.0,325.9 1517.1,325.8 1503.4,314.7 1498.3,293.7 1508.0,277.5 1529.2,279.1"/>
<polygon points="1423.3,315.6 1407.7,329.2 1408.8,352.7 1410.2,354.8 1442.1,351.8 1455.5,334.9 1454.3,332.5"/>
<polygon points="1930.0,712.7 1944.8,728.9 1943.7,743.1 1924.3,752.3 1908.1,741.2 1906.2,731.3"/>
<polygon points="1419.5,798.7 1406.8,786.3 1408.0,766.7 1436.5,765.5 1445.3,775.5 1435.5,799.9"/>
<polygon points="1682.1,412.9 1700.8,409.3 1718.0,426.1 1708.2,447.9 1675.7,445.5"/>
<polygon points="1318.7,748.8 1337.1,753.8 1344.4,771.8 1329.9,783.5 1312.0,778.4 1312.4,752.1"/>
<polygon points="1754.6,151.2 1741.0,133.7 1762.9,112.0 1785.3,132.9 1784.8,149.6 1782.6,151.4"/>
<polygon points="1771.7,716.7 1757.2,740.4 1760.6,749.7 1785.3,752.5 1795.6,731.3 1790.3,717.9 1785.9,715.3"/>
<polygon points="1730.8,251.6 1707.2,253.3 1698.7,262.9 1698.3,272.0 1710.1,288.3 1732.8,281.5 1737.0,260.4"/>
<polygon points="1697.1,216.8 1671.6,220.7 1668.5,225.0 1668.2,244.0 1695.5,259.8 1704.0,250.2"/>
<polygon points="1956.5,530.2 1935.5,527.6 1926.1,502.8 1940.4,491.8 1967.5,497.6 1969.3,502.6"/>
<polygon points="1767.4,484.9 1784.8,470.2 1772.2,447.5 1756.0,448.8 1747.5,466.2 1759.2,483.8"/>
<polygon points="1766.3,489.1 1781.8,518.6 1742.0,527.2 1736.2,518.9 1737.4,507.8 1758.1,488.0"/>
<polygon points="1560.4,666.0 1589.6,681.3 1604.5,652.6 1601.4,649.0 1577.2,644.2 1560.3,665.0"/>
<polygon points="1493.8,110.6 1472.2,116.9 1451.9,97.9 1451.2,85.6 1476.8,69.8 1484.4,73.8"/>
<polygon points="1975.2,256.5 1991.0,278.6 2014.9,269.6 2014.5,252.6 2000.4,241.0 1977.6,249.7"/>
<polygon points="1822.8,175.1 1848.4,170.1 1852.9,148.0 1828.0,142.7 1812.8,157.0"/>
<polygon points="1964.5,600.8 1960.9,580.3 1989.0,567.7 2002.3,578.5 2004.7,595.2 1968.3,604.2"/>
<polygon points="1379.6,291.3 1364.7,280.5 1366.0,267.5 1392.4,250.7 1405.0,263.4 1404.5,282.5"/>
<polygon points="1380.4,643.2 1374.2,661.4 1350.1,662.3 1341.5,648.1 1350.5,628.8 1359.8,625.9"/>
<polygon points="1425.3,660.2 1400.6,685.6 1418.5,703.7 1441.5,689.0 1431.1,659.2"/>
<polygon points="1718.3,131.4 1706.2,152.9 1695.1,156.9 1668.2,134.0 1669.4,130.7 1702.1,117.2 1712.0,121.1"/>
<polygon points="1415.5,480.7 1395.9,481.4 1385.5,457.9 1386.3,456.1 1408.0,446.2 1423.7,452.7"/>
<polygon points="1505.0,481.9 1530.5,469.3 1513.7,441.6 1500.9,443.0 1490.5,473.4"/>
<polygon points="1662.6,341.7 1684.1,321.7 1702.0,338.7 1699.1,363.0 1672.5,362.7 1662.4,344.2"/>
<polygon points="1631.1,461.6 1641.7,487.8 1636.5,497.3 1635.9,497.5 1605.3,487.7 1604.3,471.7 1623.1,459.2"/>
<polygon points="1329.5,243.0 1328.1,243.7 1318.6,263.9 1327.3,289.9 1338.3,291.2 1360.0,279.8 1361.4,266.7 1346.5,246.7"/>
<polygon points="1282.2,327.0 1286.4,299.4 1320.5,297.7 1309.8,339.7 1309.7,339.8"/>
<polygon points="1711.5,449.7 1721.4,427.9 1736.4,424.5 1752.6,446.7 1744.1,464.1 1717.8,464.5"/>
<polygon points="1882.4,772.0 1905.8,744.4 1922.0,755.6 1921.4,776.4 1903.0,783.8 1882.4,772.2"/>
<polygon points="1512.9,437.5 1531.3,416.3 1507.9,400.2 1485.8,405.8 1480.1,421.3 1480.7,423.6 1500.1,438.9"/>
<polygon points="1807.0,200.5 1816.2,195.4 1839.4,211.0 1835.6,230.8 1809.9,233.1 1807.5,230.9"/>
<polygon points="1528.1,539.7 1530.7,516.6 1508.3,509.1 1489.2,528.0 1496.2,544.3 1505.7,549.5"/>
<polygon points="1449.0,175.8 1471.5,159.2 1463.4,140.9 1435.6,143.4 1429.2,155.7 1435.5,171.1"/>
<polygon points="1575.1,281.3 1577.7,286.9 1564.5,306.8 1542.2,300.0 1533.2,277.5 1545.5,267.8"/>
<polygon points="1421.2,297.0 1406.3,285.8 1381.4,294.6 1384.4,314.9 1405.2,325.8 1420.8,312.2"/>
<polygon points="1455.6,693.9 1474.8,679.2 1485.9,684.1 1492.3,702.9 1487.1,713.9 1462.9,712.4"/>
<polygon points="1341.8,93.2 1304.3,89.1 1302.8,90.7 1307.2,120.2 1330.9,124.6"/>
<polygon points="1713.4,117.0 1703.4,113.1 1689.8,88.4 1695.7,78.4 1724.8,79.3 1728.7,85.5"/>
<polygon points="1901.5,546.0 1894.7,507.3 1868.0,515.3 1864.9,537.5 1897.3,547.8"/>
<polygon points="1487.3,473.1 1468.4,475.9 1467.3,475.3 1457.0,457.7 1478.3,427.4 1497.7,442.7"/>
<polygon points="1328.7,786.9 1333.3,810.8 1317.5,820.5 1297.9,803.3 1296.6,791.9 1310.8,781.8"/>
<polygon points="1324.3,595.3 1295.6,580.5 1295.1,576.1 1313.1,559.8 1342.5,569.2 1342.6,578.6"/>
<polygon points="1855.5,460.9 1863.8,470.0 1851.9,498.4 1841.6,499.1 1826.7,484.2 1832.5,464.0"/>
<polygon points="1637.7,501.3 1655.1,522.0 1640.8,545.1 1613.4,531.7 1637.0,501.5"/>
<polygon points="1787.2,674.5 1773.1,672.5 1755.6,686.5 1755.0,696.9 1771.2,712.5 1785.5,711.1 1788.1,675.8"/>
<polygon points="1836.0,736.5 1825.7,702.6 1794.2,717.3 1799.5,730.7 1830.7,741.8"/>
<polygon points="1855.5,113.7 1831.5,110.3 1823.0,117.4 1828.8,139.7 1853.7,145.0 1856.9,142.3"/>
<polygon points="1772.2,234.3 1769.2,259.0 1740.9,258.1 1734.7,249.2 1741.4,229.7 1771.4,233.3"/>
<polygon points="1780.2,626.0 1781.7,597.5 1746.3,602.9 1756.4,636.3"/>
<polygon points="1945.0,646.0 1941.4,659.9 1922.4,665.9 1906.1,645.0 1909.0,637.9 1930.1,632.6"/>
<polygon points="1430.1,398.8 1429.6,402.0 1401.6,414.3 1384.8,406.2 1383.2,402.7 1385.0,393.1 1406.3,372.9"/>
<polygon points="1936.2,609.1 1918.2,594.9 1928.9,573.4 1949.5,573.5 1956.9,580.4 1960.5,600.8"/>
<polygon points="1924.6,167.4 1942.9,180.5 1938.2,201.6 1912.4,200.6 1901.1,177.2 1903.3,171.4"/>
<polygon points="1533.6,620.5 1562.6,612.5 1560.8,594.3 1540.6,579.8 1518.6,588.4 1520.8,612.1"/>
<polygon points="1921.0,331.0 1921.7,325.9 1950.9,307.7 1954.8,309.9 1961.5,343.9 1953.9,354.4 1947.8,355.4"/>
<polygon points="1337.8,165.9 1324.9,194.7 1314.6,193.8 1294.3,169.2 1299.2,162.4 1334.6,159.2"/>
<polygon points="1884.7,679.1 1893.3,688.8 1880.1,715.7 1873.8,717.1 1852.5,688.1 1860.3,679.5"/>
<polygon points="1799.1,777.3 1774.8,792.0 1779.6,814.1 1808.7,814.6 1801.4,777.9"/>
<polygon points="1613.3,323.4 1623.8,353.6 1619.7,361.9 1598.3,369.7 1593.1,365.6 1587.3,336.4"/>
<polygon points="1590.4,778.1 1611.1,751.4 1624.4,761.7 1628.6,783.8 1610.2,793.0"/>
<polygon points="1715.8,627.8 1734.8,597.9 1743.6,603.8 1753.7,637.2 1753.7,637.2 1734.5,645.2"/>
<polygon points="1609.7,432.0 1620.4,456.0 1601.6,468.5 1586.9,458.1 1585.8,438.1 1586.5,437.2"/>
<polygon points="1683.6,691.5 1689.9,662.2 1721.1,669.6 1712.2,693.1 1684.6,693.2"/>
<polygon points="1606.9,737.3 1592.7,704.3 1596.3,697.4 1631.0,695.6 1635.3,716.1 1609.1,738.7"/>
<polygon points="1796.2,301.7 1817.5,297.1 1833.0,325.6 1832.0,328.1 1826.6,331.5 1799.6,327.0 1792.0,310.7"/>
<polygon points="1687.1,176.6 1703.6,206.9 1697.1,213.2 1671.6,217.1 1658.8,184.7"/>
<polygon points="1543.4,188.0 1566.6,201.6 1578.3,198.1 1583.2,182.7 1562.5,161.6 1543.8,176.1"/>
<polygon points="1278.9,376.3 1292.9,374.7 1306.1,390.9 1304.5,401.7 1282.5,414.7 1278.2,413.2 1271.6,385.9"/>
<polygon points="1379.0,404.6 1380.6,408.0 1369.9,430.6 1349.6,434.0 1338.4,419.4 1348.1,404.0"/>
<polygon points="1340.2,752.9 1355.8,736.9 1364.4,738.7 1374.4,758.1 1360.7,774.2 1347.6,770.8"/>
<polygon points="1768.4,560.6 1786.8,539.5 1784.6,522.4 1783.2,521.6 1743.4,530.2 1743.3,535.8 1760.4,559.4"/>
<polygon points="1404.9,355.4 1406.3,357.5 1405.1,369.6 1383.7,389.8 1365.8,368.4 1375.1,353.7"/>
<polygon points="1686.2,319.0 1686.4,316.6 1707.8,298.2 1724.9,323.6 1704.2,336.0"/>
<polygon points="1471.2,519.9 1466.3,480.2 1465.1,479.6 1432.2,499.7 1431.8,504.3 1458.6,523.9"/>
<polygon points="1639.7,309.0 1661.0,338.3 1682.4,318.2 1682.6,315.8 1658.7,291.4 1658.7,291.4"/>
<polygon points="1820.1,114.4 1806.5,113.4 1795.4,89.6 1802.2,81.3 1825.3,80.0 1828.6,107.2"/>
<polygon points="1610.6,611.4 1605.0,646.6 1608.1,650.1 1617.9,652.4 1639.1,634.7 1632.0,617.2"/>
<polygon points="1860.6,641.3 1888.4,651.8 1884.3,675.4 1859.9,675.9 1858.5,644.6"/>
<polygon points="1569.6,777.6 1557.8,746.3 1530.2,764.4 1541.4,788.1"/>
<polygon points="1583.9,458.7 1582.7,438.7 1555.4,440.4 1549.4,464.0 1567.3,470.2"/>
<polygon points="1487.8,638.3 1471.7,660.7 1476.1,675.9 1487.2,680.7 1508.0,665.4 1508.2,663.2"/>
<polygon points="1856.8,284.6 1836.7,273.6 1848.7,245.7 1860.3,246.1 1879.3,268.5 1879.2,268.9"/>
<polygon points="1681.1,583.3 1661.4,597.8 1673.6,618.8 1691.3,619.2 1695.8,587.2"/>
<polygon points="1356.3,733.2 1347.0,717.0 1353.4,702.6 1375.7,699.5 1379.5,722.8 1365.0,735.0"/>
<polygon points="1669.5,404.3 1664.2,376.8 1640.6,383.7 1632.4,410.1 1639.2,413.4"/>
<polygon points="1776.3,272.2 1776.2,272.9 1752.4,294.2 1737.0,282.2 1741.3,261.1 1769.6,262.1"/>
<polygon points="1959.6,577.6 1987.7,565.0 1986.9,550.0 1959.3,537.2 1952.2,570.6"/>
<polygon points="1790.6,671.6 1805.0,643.4 1806.9,643.0 1824.7,654.8 1827.6,685.8 1791.5,673.0"/>
<polygon points="1316.5,527.9 1308.8,535.7 1285.8,532.4 1281.1,522.1 1295.9,501.6 1315.7,514.4"/>
<polygon points="1705.2,522.7 1689.1,501.9 1668.3,523.3 1683.6,541.1 1693.7,540.4"/>
<polygon points="1925.6,755.4 1945.0,746.2 1965.0,766.4 1936.0,781.9 1925.0,776.2"/>
<polygon points="1743.1,175.5 1727.8,178.1 1716.2,204.8 1734.1,213.2 1756.8,193.2"/>
<polygon points="1976.2,773.6 2015.1,791.9 1989.2,818.0 1972.6,800.5"/>
<polygon points="1455.6,201.2 1448.1,179.1 1434.5,174.4 1420.6,189.9 1429.8,211.6"/>
<polygon points="1462.6,715.5 1450.4,732.7 1476.2,750.5 1490.4,725.8 1486.8,716.9"/>
<polygon points="1956.7,264.8 1947.8,295.6 1923.6,281.4 1925.9,255.2"/>
<polygon points="1570.5,491.6 1565.9,473.3 1548.0,467.2 1537.6,472.2 1546.2,505.5 1554.5,506.9"/>
<polygon points="1813.0,445.0 1789.0,426.1 1775.2,445.9 1787.8,468.5 1789.5,468.6 1813.7,448.9"/>
<polygon points="1430.1,613.0 1423.0,594.8 1396.4,586.3 1388.3,595.8 1401.0,620.9"/>
<polygon points="1824.2,486.5 1839.1,501.4 1825.8,520.2 1802.0,512.8 1809.6,491.0"/>
<polygon points="1324.8,199.1 1331.6,206.5 1327.3,238.3 1325.9,238.9 1297.6,226.1 1295.6,218.1 1314.5,198.2"/>
<polygon points="1799.1,365.3 1786.0,346.9 1769.9,346.9 1762.9,369.8 1788.2,379.9"/>
</g>
<polygon points="1418.0,659.1 1397.1,680.6 1389.1,679.8 1380.0,663.0 1385.3,647.6 1393.4,643.9" fill="rgb(188,172,8)"/>
<polygon points="1924.5,670.7 1918.5,685.8 1931.3,701.0 1956.2,683.4 1941.3,665.3" fill="rgb(178,172,0)"/>
<polygon points="1571.6,549.7 1577.8,539.3 1591.7,536.5 1598.1,539.8 1597.3,566.1 1582.7,564.8" fill="rgb(168,130,0)"/>
<polygon points="1311.2,402.5 1326.6,415.9 1333.7,415.5 1341.9,402.5 1334.6,383.9 1312.6,393.4" fill="rgb(178,172,0)"/>
<polygon points="1869.7,507.8 1860.1,498.4 1869.5,475.8 1889.0,478.5 1893.6,497.4 1890.9,501.4" fill="rgb(188,172,8)"/>
<polygon points="1267.6,62.8 1275.9,56.9 1289.6,57.7 1297.6,67.7 1296.1,82.3 1295.0,83.5 1272.8,84.9 1272.6,84.7" fill="rgb(188,172,8)"/>
<polygon points="1547.4,231.5 1529.5,221.9 1525.7,211.5 1541.5,196.7 1559.6,207.4 1548.4,231.0" fill="rgb(178,172,0)"/>
<polygon points="1647.6,499.7 1659.9,514.3 1665.6,514.8 1680.3,499.7 1680.5,495.4 1668.1,486.4 1651.2,492.9" fill="rgb(168,130,0)"/>
<polygon points="1575.5,489.6 1571.4,473.6 1586.0,463.5 1598.9,472.6 1599.8,486.7 1592.3,493.3" fill="rgb(178,172,0)"/>
<polygon points="1887.9,141.1 1863.7,138.2 1862.6,114.9 1871.5,106.1 1885.8,108.3 1894.9,126.2" fill="rgb(178,172,0)"/>
<polygon points="1457.3,296.6 1452.5,321.8 1429.9,309.5 1430.2,298.4 1448.3,287.2" fill="rgb(188,172,8)"/>
<polygon points="1834.7,334.9 1853.7,357.3 1853.4,362.8 1830.6,371.3 1820.5,361.6 1830.0,337.8" fill="rgb(188,172,8)"/>
<polygon points="1453.3,388.8 1441.5,399.6 1441.2,401.9 1445.7,409.0 1469.9,413.9 1473.8,403.0 1466.9,390.7" fill="rgb(188,172,8)"/>
<polygon points="1747.7,299.0 1749.7,315.5 1747.4,319.9 1740.0,322.7 1729.2,320.2 1714.7,298.7 1715.4,294.7 1734.6,288.9" fill="rgb(178,172,0)"/>
<polygon points="1842.9,406.0 1834.5,398.4 1834.5,381.6 1854.0,374.4 1863.8,386.9 1846.5,406.6" fill="rgb(178,172,0)"/>
<polygon points="1554.1,743.4 1554.5,742.1 1550.3,729.8 1533.2,726.1 1518.1,736.5 1520.2,756.4 1530.0,759.1" fill="rgb(168,130,0)"/>
<polygon points="1794.9,680.3 1824.3,690.7 1824.9,691.5 1822.0,699.2 1796.4,711.2 1792.8,709.1" fill="rgb(188,172,8)"/>
<polygon points="1442.9,799.5 1450.7,808.2 1466.2,804.3 1469.8,779.4 1450.2,781.2" fill="rgb(178,172,0)"/>
<polygon points="1893.0,353.9 1880.8,348.5 1866.2,360.5 1866.0,365.2 1875.5,377.4 1887.4,378.5 1894.9,370.7" fill="rgb(178,172,0)"/>
<polygon points="1839.6,327.3 1859.2,315.7 1870.0,319.5 1876.0,337.8 1858.1,352.5 1838.7,329.5" fill="rgb(188,172,8)"/>
<polygon points="1379.8,763.5 1397.8,764.3 1400.2,768.0 1399.3,783.0 1377.2,793.2 1369.2,775.8" fill="rgb(168,130,0)"/>
<polygon points="1954.6,651.2 1952.0,661.0 1963.8,675.5 1972.8,676.8 1979.8,666.9 1978.3,649.1 1970.3,643.8" fill="rgb(178,172,0)"/>
<polygon points="1785.5,187.3 1788.7,158.7 1790.4,157.3 1807.8,161.6 1815.9,176.2 1811.7,187.9 1804.2,192.0" fill="rgb(188,172,8)"/>
<polygon points="1940.6,784.4 1965.9,770.8 1970.0,771.7 1971.4,774.5 1968.2,798.0 1948.9,804.9 1944.9,802.8" fill="rgb(178,172,0)"/>
<polygon points="1563.3,737.4 1559.4,726.1 1564.8,716.6 1586.1,709.1 1597.6,735.7" fill="rgb(168,130,0)"/>
<polygon points="2001.5,308.8 1991.5,299.6 1994.0,283.8 2014.7,276.1 2027.2,286.4 2008.5,309.6" fill="rgb(188,172,8)"/>
<polygon points="1972.7,372.2 1998.9,372.5 2002.0,363.2 1984.7,346.6 1967.9,349.0 1961.6,357.6" fill="rgb(188,172,8)"/>
<polygon points="1531.9,73.7 1549.2,62.4 1568.0,84.2 1568.6,91.3 1553.2,98.8 1533.8,84.7" fill="rgb(178,172,0)"/>
<polygon points="1646.1,596.3 1631.4,610.8 1613.1,605.8 1610.9,603.0 1611.6,583.6 1634.4,578.1" fill="rgb(168,130,0)"/>
<polygon points="1835.8,320.2 1855.4,308.6 1852.8,288.5 1835.0,278.8 1829.3,280.5 1822.1,294.9" fill="rgb(168,130,0)"/>
<polygon points="1990.1,760.1 1983.1,769.5 1984.2,771.8 2012.4,785.1 2015.1,784.6 2015.4,784.2 2012.2,756.9" fill="rgb(178,172,0)"/>
<polygon points="1421.6,479.8 1428.7,455.6 1433.7,454.0 1451.1,460.3 1459.9,475.5 1431.6,492.8" fill="rgb(188,172,8)"/>
<polygon points="1696.6,656.9 1696.6,656.8 1703.7,636.1 1712.3,636.2 1725.9,648.7 1721.4,660.9 1719.2,662.3" fill="rgb(178,172,0)"/>
<polygon points="1541.3,626.9 1561.7,621.2 1563.2,622.1 1569.0,639.5 1557.1,654.1 1542.5,641.7" fill="rgb(178,172,0)"/>
<polygon points="1770.2,199.4 1758.4,197.8 1739.1,214.9 1743.7,224.6 1769.3,227.7" fill="rgb(178,172,0)"/>
<polygon points="1347.2,161.6 1363.4,169.2 1380.4,161.1 1382.8,154.0 1379.0,143.0 1372.2,138.1 1348.1,143.5 1344.7,156.3" fill="rgb(188,172,8)"/>
<polygon points="1341.6,173.1 1356.8,180.3 1356.0,199.1 1337.1,199.9 1332.1,194.4" fill="rgb(178,172,0)"/>
<polygon points="1881.8,723.5 1876.8,724.5 1867.3,735.5 1881.3,761.8 1899.6,740.2 1898.1,732.5" fill="rgb(168,130,0)"/>
<polygon points="1904.5,202.7 1895.5,184.0 1871.7,195.6 1871.0,198.2 1881.7,217.4 1897.1,220.5" fill="rgb(188,172,8)"/>
<polygon points="1353.8,242.8 1366.6,260.1 1389.3,245.7 1390.0,230.3 1382.0,221.5 1374.3,220.4" fill="rgb(178,172,0)"/>
<polygon points="1324.6,524.1 1342.9,529.6 1357.3,509.1 1351.5,503.1 1337.8,502.1 1324.0,513.5" fill="rgb(178,172,0)"/>
<polygon points="1767.6,668.6 1753.8,643.8 1737.3,650.7 1732.0,665.2 1752.5,680.6" fill="rgb(188,172,8)"/>
<polygon points="1512.1,486.9 1514.4,501.8 1530.9,507.3 1539.0,502.5 1532.7,478.0 1530.8,477.7" fill="rgb(188,172,8)"/>
<polygon points="1345.5,375.3 1343.7,380.5 1350.3,397.5 1374.1,397.9 1375.4,390.5 1361.7,374.0" fill="rgb(168,130,0)"/>
<polygon points="1367.7,200.4 1375.4,207.7 1381.6,208.6 1391.2,190.5 1383.6,175.3 1368.4,182.5" fill="rgb(178,172,0)"/>
<polygon points="1972.3,608.6 2003.8,600.9 2004.6,601.6 2006.1,628.3 1986.2,637.0 1976.3,630.6" fill="rgb(168,130,0)"/>
<polygon points="1287.2,539.4 1305.0,541.9 1307.0,556.3 1293.0,568.9 1279.4,556.8" fill="rgb(178,172,0)"/>
<polygon points="1655.4,106.7 1634.1,110.0 1637.5,132.8 1649.2,137.7 1659.9,130.7 1660.8,128.3" fill="rgb(178,172,0)"/>
<polygon points="1967.5,405.3 1986.1,413.9 1995.0,408.4 2003.2,386.8 2001.3,380.5 1973.5,380.3" fill="rgb(168,130,0)"/>
<polygon points="1867.8,717.8 1857.2,730.0 1840.0,732.0 1831.0,702.6 1834.1,694.4 1849.4,692.6" fill="rgb(178,172,0)"/>
<polygon points="1672.8,748.4 1672.8,736.4 1681.6,728.9 1707.8,736.6 1702.4,756.8 1699.4,759.0 1677.8,756.6" fill="rgb(178,172,0)"/>
<polygon points="1857.5,534.1 1843.8,543.6 1839.9,541.8 1833.0,523.2 1843.0,509.1 1850.8,508.5 1859.9,517.4" fill="rgb(168,130,0)"/>
<polygon points="1808.3,782.5 1825.7,776.4 1838.8,788.9 1828.2,813.8 1821.6,817.3 1814.1,811.4" fill="rgb(178,172,0)"/>
<polygon points="1542.8,242.8 1524.7,233.1 1505.6,255.7 1512.4,269.3 1529.2,270.5 1539.0,262.8" fill="rgb(188,172,8)"/>
<polygon points="1750.1,484.1 1741.5,471.2 1722.2,471.4 1719.2,480.0 1734.9,498.7" fill="rgb(178,172,0)"/>
<polygon points="1826.4,464.8 1821.7,481.1 1809.9,484.7 1795.7,470.8 1815.2,454.9" fill="rgb(178,172,0)"/>
<polygon points="1661.7,283.8 1661.7,283.9 1688.9,271.9 1689.2,264.7 1667.6,252.2 1654.2,265.3" fill="rgb(178,172,0)"/>
<polygon points="1688.6,698.9 1685.1,718.8 1715.2,727.7 1719.3,724.6 1721.4,712.9 1712.1,698.8" fill="rgb(188,172,8)"/>
<polygon points="1377.0,455.1 1377.6,453.8 1368.8,438.8 1354.2,441.3 1351.3,454.3 1360.6,462.5" fill="rgb(188,172,8)"/>
<polygon points="1647.9,789.0 1635.6,781.8 1632.2,763.6 1661.7,755.5 1667.2,764.7 1660.6,782.7" fill="rgb(178,172,0)"/>
<polygon points="1670.3,290.6 1694.5,280.0 1702.8,291.5 1702.2,294.9 1687.1,307.9" fill="rgb(178,172,0)"/>
<polygon points="1867.8,438.3 1891.7,435.6 1898.0,454.0 1888.4,465.2 1871.1,462.8 1865.2,456.4" fill="rgb(168,130,0)"/>
<polygon points="1542.7,307.9 1527.1,326.7 1544.5,339.9 1562.7,326.0 1559.9,313.2" fill="rgb(178,172,0)"/>
<polygon points="1498.4,698.4 1516.7,695.3 1520.6,686.8 1509.3,672.5 1493.6,684.1" fill="rgb(188,172,8)"/>
<polygon points="1514.4,70.8 1491.5,75.4 1499.3,106.2 1502.8,107.4 1523.4,85.8 1521.5,74.6" fill="rgb(178,172,0)"/>
<polygon points="1623.1,265.1 1628.9,263.0 1644.0,267.6 1652.3,287.9 1635.7,303.2 1622.1,304.2 1612.7,290.0" fill="rgb(168,130,0)"/>
<polygon points="1961.1,141.8 1971.7,163.5 1973.5,164.1 1989.0,158.9 1994.3,138.3 1991.2,130.3 1978.7,121.6 1972.6,124.1" fill="rgb(188,172,8)"/>
<polygon points="1903.3,242.8 1883.0,260.6 1868.2,243.2 1881.7,228.6 1896.8,231.6" fill="rgb(178,172,0)"/>
<polygon points="1948.5,639.6 1967.0,631.0 1963.2,610.0 1960.0,607.2 1939.9,614.0 1936.2,628.6" fill="rgb(178,172,0)"/>
<polygon points="1941.5,102.3 1936.7,86.0 1954.3,76.0 1974.7,95.7 1973.1,109.7 1967.0,112.2" fill="rgb(178,172,0)"/>
<polygon points="1438.5,249.6 1438.5,249.4 1423.5,227.6 1399.3,231.7 1398.5,247.4 1409.5,258.4" fill="rgb(178,172,0)"/>
<polygon points="1406.1,90.1 1409.6,83.6 1428.6,75.8 1443.8,86.8 1444.4,97.6 1425.2,113.8 1416.4,111.5" fill="rgb(178,172,0)"/>
<polygon points="1729.1,243.9 1709.1,245.3 1703.4,217.1 1708.9,211.8 1715.2,210.6 1730.3,217.7 1734.8,227.3" fill="rgb(178,172,0)"/>
<polygon points="1470.3,286.1 1490.6,285.7 1497.4,274.3 1491.4,262.2 1490.6,261.9 1462.1,266.7 1461.6,277.1" fill="rgb(178,172,0)"/>
<polygon points="1781.4,415.9 1752.7,411.4 1743.9,423.1 1757.4,441.7 1771.0,440.6 1782.5,424.1" fill="rgb(178,172,0)"/>
<polygon points="1583.6,409.3 1589.3,429.5 1607.2,425.6 1615.5,413.6 1598.2,398.0" fill="rgb(168,130,0)"/>
<polygon points="1321.8,744.3 1325.9,722.6 1343.3,720.5 1351.4,734.7 1337.8,748.7" fill="rgb(178,172,0)"/>
<polygon points="1668.6,555.5 1676.6,542.8 1664.5,528.7 1658.1,528.1 1646.8,546.4 1649.0,554.5" fill="rgb(178,172,0)"/>
<polygon points="1571.2,785.6 1567.9,783.8 1543.8,792.8 1537.4,806.9 1537.6,807.4 1555.7,819.1 1571.1,814.1" fill="rgb(178,172,0)"/>
<polygon points="1469.6,336.7 1487.8,356.0 1495.5,355.2 1512.0,330.9 1500.1,321.3" fill="rgb(178,172,0)"/>
<polygon points="1311.9,380.7 1330.3,372.8 1332.0,368.0 1325.3,353.7 1313.5,349.7 1313.4,349.7 1302.6,369.2" fill="rgb(188,172,8)"/>
<polygon points="1495.9,205.1 1480.4,215.0 1480.0,218.7 1496.6,247.0 1497.5,247.5 1517.1,224.1 1513.2,213.4" fill="rgb(188,172,8)"/>
<polygon points="1401.8,439.6 1397.2,421.4 1385.3,415.7 1377.7,431.7 1386.4,446.6" fill="rgb(188,172,8)"/>
<polygon points="1305.3,756.8 1294.6,753.7 1280.6,767.2 1283.4,777.7 1294.4,783.9 1305.0,776.4" fill="rgb(188,172,8)"/>
<polygon points="1579.2,339.7 1583.9,363.0 1554.4,367.2 1549.8,361.4 1549.2,348.8 1567.9,334.4" fill="rgb(178,172,0)"/>
<polygon points="1682.1,403.8 1696.9,401.0 1703.4,376.3 1696.8,370.9 1675.8,370.7 1671.7,377.7 1675.9,399.4" fill="rgb(168,130,0)"/>
<polygon points="1743.9,765.7 1718.4,757.4 1723.7,737.5 1727.2,734.8 1748.2,743.7 1750.8,750.5" fill="rgb(168,130,0)"/>
<polygon points="1913.0,692.4 1924.7,706.2 1924.6,709.3 1905.4,724.2 1888.6,715.0 1899.3,693.2" fill="rgb(168,130,0)"/>
<polygon points="1561.5,671.9 1586.9,685.1 1590.1,694.4 1587.0,700.4 1564.0,708.4 1554.7,682.9" fill="rgb(178,172,0)"/>
<polygon points="1795.4,537.7 1811.0,548.6 1827.3,544.4 1820.5,526.0 1802.8,520.4 1793.8,524.9" fill="rgb(178,172,0)"/>
<polygon points="1854.4,106.8 1834.0,103.9 1831.2,80.8 1836.6,75.2 1855.1,73.9 1863.7,97.6" fill="rgb(178,172,0)"/>
<polygon points="1511.1,113.8 1521.5,126.8 1539.5,122.3 1545.0,107.5 1528.5,95.5" fill="rgb(178,172,0)"/>
<polygon points="1893.3,655.6 1903.4,650.7 1917.1,668.3 1911.4,682.6 1897.1,683.5 1889.8,675.4" fill="rgb(178,172,0)"/>
<polygon points="1652.7,189.9 1662.2,214.0 1659.9,217.1 1636.1,216.8 1629.8,209.7 1635.0,192.0 1647.4,187.1" fill="rgb(178,172,0)"/>
<polygon points="1920.9,494.6 1904.8,492.5 1900.5,474.9 1910.4,463.1 1924.6,464.7 1931.4,486.4" fill="rgb(188,172,8)"/>
<polygon points="1343.9,557.1 1340.0,539.9 1321.7,534.3 1315.8,540.5 1317.7,555.0 1340.6,562.3" fill="rgb(188,172,8)"/>
<polygon points="1594.1,61.4 1581.3,83.0 1581.9,89.3 1593.4,95.4 1607.9,89.9 1611.0,75.5 1603.0,63.1" fill="rgb(178,172,0)"/>
<polygon points="2017.6,351.8 2017.5,326.9 2008.8,318.7 2001.7,317.9 1990.5,340.7 2008.7,358.1" fill="rgb(188,172,8)"/>
<polygon points="1729.5,506.7 1711.6,485.5 1695.0,495.3 1694.7,500.4 1708.2,517.7 1728.5,516.0" fill="rgb(188,172,8)"/>
<polygon points="1902.1,285.9 1917.0,277.1 1918.8,256.9 1916.2,252.9 1909.1,250.2 1888.9,267.9 1888.8,268.3" fill="rgb(178,172,0)"/>
<polygon points="1706.9,163.0 1698.6,166.0 1693.5,175.9 1705.9,198.6 1711.5,197.5 1720.1,177.5" fill="rgb(178,172,0)"/>
<polygon points="1775.6,592.2 1778.3,588.6 1765.4,570.0 1759.3,569.1 1740.1,587.9 1741.9,591.9 1748.6,596.3" fill="rgb(178,172,0)"/>
<polygon points="1908.6,789.7 1910.0,810.0 1915.1,813.4 1934.4,804.3 1930.7,788.5 1922.4,784.1" fill="rgb(178,172,0)"/>
<polygon points="1615.4,430.8 1624.5,451.1 1631.3,453.1 1647.0,440.4 1636.1,419.3 1630.4,416.5 1624.6,417.6" fill="rgb(178,172,0)"/>
<polygon points="2005.9,202.1 2005.9,182.3 1993.4,172.5 1979.3,177.2 1982.9,199.9 2004.3,203.2" fill="rgb(178,172,0)"/>
<polygon points="1767.7,96.4 1767.9,96.3 1789.1,93.7 1797.7,112.0 1784.7,124.0 1767.4,107.8" fill="rgb(178,172,0)"/>
<polygon points="1526.7,626.4 1528.0,642.8 1510.7,654.8 1494.8,635.4 1494.8,632.0 1516.7,619.8" fill="rgb(178,172,0)"/>
<polygon points="1841.4,230.7 1849.2,239.5 1859.1,239.8 1874.2,223.5 1862.6,202.6 1844.6,213.6" fill="rgb(188,172,8)"/>
<polygon points="1992.0,715.7 2013.3,719.0 2016.8,722.7 2018.2,734.8 2013.2,741.5 1991.1,744.7 1988.5,721.3" fill="rgb(178,172,0)"/>
<polygon points="1999.0,419.8 2018.5,429.1 2010.7,455.0 2009.6,454.8 1991.3,439.1 1991.4,424.5" fill="rgb(178,172,0)"/>
<polygon points="1439.0,359.1 1414.5,361.4 1413.5,370.6 1431.7,390.5 1444.5,378.7" fill="rgb(178,172,0)"/>
<polygon points="1319.7,679.0 1308.6,669.8 1308.7,666.4 1318.5,653.4 1334.7,653.8 1341.5,664.9 1334.3,677.7" fill="rgb(178,172,0)"/>
<polygon points="1653.0,95.2 1629.6,98.9 1620.3,93.2 1623.8,77.1 1647.4,69.9 1654.9,92.0" fill="rgb(178,172,0)"/>
<polygon points="1796.5,292.7 1786.1,275.2 1786.2,274.7 1804.8,267.6 1817.6,277.7 1811.7,289.4" fill="rgb(178,172,0)"/>
<polygon points="1932.7,163.7 1945.8,173.1 1961.2,166.9 1952.0,148.0 1940.8,148.9" fill="rgb(178,172,0)"/>
<polygon points="1583.1,293.5 1572.5,309.7 1575.3,323.1 1586.9,328.4 1608.1,317.9 1612.0,310.5 1603.2,297.2" fill="rgb(178,172,0)"/>
<polygon points="1703.6,620.3 1698.6,615.7 1702.0,591.3 1713.5,586.4 1725.5,593.7 1727.3,597.7 1712.7,620.4" fill="rgb(188,172,8)"/>
<polygon points="1425.0,708.6 1442.8,697.2 1449.6,699.6 1455.2,713.9 1445.8,727.2 1444.1,727.8 1425.5,720.5" fill="rgb(178,172,0)"/>
<polygon points="1367.2,501.5 1371.0,502.3 1376.5,500.5 1387.8,485.6 1380.0,468.0 1362.8,475.7 1361.7,495.9" fill="rgb(178,172,0)"/>
<polygon points="1316.9,609.5 1307.3,618.5 1287.3,615.4 1282.9,609.5 1295.7,589.3 1317.4,600.5" fill="rgb(178,172,0)"/>
<polygon points="1785.0,401.3 1781.6,406.3 1755.5,402.3 1751.9,383.8 1763.8,377.7 1783.0,385.3" fill="rgb(178,172,0)"/>
<polygon points="1587.9,198.2 1599.9,211.0 1615.6,206.9 1620.8,189.2 1605.5,179.9 1591.5,186.7" fill="rgb(178,172,0)"/>
<polygon points="1766.9,87.8 1769.3,58.5 1774.8,53.8 1791.1,59.5 1797.0,77.6 1791.0,84.9" fill="rgb(188,172,8)"/>
<polygon points="1717.8,798.4 1733.1,796.6 1742.2,782.9 1740.8,777.7 1714.3,769.0 1711.2,771.3 1712.2,793.3" fill="rgb(178,172,0)"/>
<polygon points="1840.6,418.5 1820.0,443.2 1820.6,446.6 1832.6,457.3 1852.6,454.6 1855.9,432.3 1844.9,419.2" fill="rgb(178,172,0)"/>
<polygon points="1677.0,415.0 1671.4,443.1 1671.1,443.3 1655.1,439.5 1644.1,418.1 1670.2,410.2" fill="rgb(178,172,0)"/>
<polygon points="1977.7,242.9 1996.9,235.6 2002.8,213.3 1978.8,209.6 1965.3,221.3" fill="rgb(188,172,8)"/>
<polygon points="1939.3,138.6 1952.2,137.5 1963.7,119.9 1937.7,109.8 1927.9,125.4" fill="rgb(178,172,0)"/>
<polygon points="1948.1,567.1 1954.4,537.3 1953.7,535.8 1935.0,533.4 1915.0,548.7 1929.8,567.0" fill="rgb(188,172,8)"/>
<polygon points="1667.7,452.0 1665.7,474.2 1646.4,481.7 1637.8,460.5 1652.8,448.4" fill="rgb(168,130,0)"/>
<polygon points="1801.4,771.7 1790.6,755.5 1799.6,736.9 1827.1,746.6 1822.9,765.4 1803.4,772.2" fill="rgb(178,172,0)"/>
<polygon points="1679.0,684.2 1655.1,676.8 1666.1,657.8 1683.4,663.1 1683.5,663.2" fill="rgb(178,172,0)"/>
<polygon points="1519.3,153.6 1523.2,138.5 1544.1,133.3 1558.0,148.3 1556.7,156.7 1541.3,168.6" fill="rgb(178,172,0)"/>
<polygon points="1675.1,695.2 1648.8,686.9 1644.0,688.8 1640.2,695.8 1643.6,712.1 1663.3,723.0 1672.6,715.0 1675.9,696.5" fill="rgb(168,130,0)"/>
<polygon points="1949.8,416.1 1948.5,444.2 1963.1,448.9 1980.6,437.7 1980.6,421.3 1962.8,413.0" fill="rgb(178,172,0)"/>
<polygon points="2005.7,507.1 2008.1,504.0 2008.9,473.4 2008.1,472.8 2007.0,472.7 1981.8,488.6 1980.0,493.5 1981.2,497.0" fill="rgb(168,130,0)"/>
<polygon points="1656.6,349.8 1632.1,356.7 1628.8,363.2 1641.9,376.7 1660.5,371.3 1664.6,364.4" fill="rgb(188,172,8)"/>
<polygon points="1905.2,120.4 1896.4,103.2 1913.7,84.5 1924.8,88.2 1929.4,103.9 1920.2,118.6" fill="rgb(178,172,0)"/>
<polygon points="1786.5,313.8 1758.6,320.2 1756.2,324.8 1769.9,341.7 1784.1,341.7 1793.2,328.1" fill="rgb(178,172,0)"/>
<polygon points="1879.2,571.6 1889.5,552.7 1863.1,544.3 1848.3,554.5 1853.5,571.1 1854.0,571.5" fill="rgb(188,172,8)"/>
<polygon points="1406.8,541.4 1406.6,525.0 1383.9,515.3 1378.7,517.0 1388.0,545.2 1394.4,548.0" fill="rgb(168,130,0)"/>
<polygon points="1391.0,692.3 1383.8,700.7 1386.7,718.4 1404.7,725.0 1412.2,718.6 1411.8,706.8 1398.2,693.1" fill="rgb(178,172,0)"/>
<polygon points="1494.8,120.3 1478.1,125.2 1473.2,138.7 1479.5,152.8 1493.4,158.9 1505.6,149.7 1509.3,135.5 1498.0,121.3" fill="rgb(168,130,0)"/>
<polygon points="1513.5,611.0 1511.6,590.5 1511.0,589.9 1475.7,591.5 1471.0,611.0 1489.3,624.6" fill="rgb(178,172,0)"/>
<polygon points="1971.7,262.7 1985.6,282.2 1983.0,298.4 1958.1,303.3 1954.7,301.4 1952.5,295.9 1960.3,268.6" fill="rgb(168,130,0)"/>
<polygon points="1463.1,342.8 1479.0,359.8 1470.0,376.5 1455.1,374.4 1449.6,354.9 1459.8,341.9" fill="rgb(178,172,0)"/>
<polygon points="1425.3,445.4 1412.8,440.2 1407.6,419.9 1430.0,410.1 1435.1,418.2 1430.0,443.9" fill="rgb(178,172,0)"/>
<polygon points="1858.3,612.2 1848.4,581.9 1848.0,581.5 1824.5,599.3 1828.8,611.7 1854.3,617.9" fill="rgb(168,130,0)"/>
<polygon points="1750.7,332.9 1762.6,347.6 1757.3,365.3 1745.3,371.5 1735.4,365.9 1744.0,335.3" fill="rgb(178,172,0)"/>
<polygon points="1586.7,107.3 1587.6,131.3 1565.7,140.5 1551.7,125.3 1558.2,107.9 1573.6,100.4" fill="rgb(188,172,8)"/>
<polygon points="1604.0,389.8 1603.7,376.8 1620.3,370.6 1633.3,384.0 1626.9,404.7 1621.5,405.7" fill="rgb(178,172,0)"/>
<polygon points="1926.1,626.5 1908.8,630.8 1899.1,608.4 1900.9,605.4 1915.0,600.4 1929.8,612.0" fill="rgb(178,172,0)"/>
<polygon points="1535.3,408.3 1534.5,408.4 1516.5,396.0 1519.6,379.6 1541.1,373.1 1545.5,378.7 1545.7,397.3" fill="rgb(178,172,0)"/>
<polygon points="1907.4,301.5 1920.6,317.2 1942.4,303.7 1940.5,299.1 1922.5,288.4 1908.1,297.0" fill="rgb(178,172,0)"/>
<polygon points="1790.6,147.7 1791.0,132.9 1805.9,119.2 1818.0,120.1 1823.2,139.8 1809.7,152.5" fill="rgb(178,172,0)"/>
<polygon points="1894.2,168.5 1892.5,173.2 1868.0,185.1 1856.6,169.4 1860.2,151.4 1862.8,149.3 1887.0,152.2" fill="rgb(178,172,0)"/>
<polygon points="1437.6,661.3 1445.9,684.7 1452.8,687.2 1467.9,675.6 1464.4,663.7 1440.5,658.3" fill="rgb(188,172,8)"/>
<polygon points="1518.1,581.2 1510.4,555.1 1529.2,546.9 1544.4,556.7 1537.2,574.6 1518.7,581.8" fill="rgb(188,172,8)"/>
<polygon points="1330.4,151.7 1333.6,139.6 1327.7,131.2 1310.1,127.9 1302.8,134.8 1304.1,154.1" fill="rgb(168,130,0)"/>
<polygon points="1369.3,591.9 1352.5,577.7 1352.4,570.1 1355.8,564.7 1381.3,559.0 1388.5,562.1 1388.5,581.7 1382.0,589.4" fill="rgb(188,172,8)"/>
<polygon points="1871.5,769.2 1858.0,744.0 1843.2,745.7 1839.2,749.7 1835.6,765.7 1848.1,777.6 1861.6,777.2 1871.5,769.3" fill="rgb(178,172,0)"/>
<polygon points="1383.2,320.7 1368.1,332.5 1376.4,348.7 1401.8,350.2 1400.9,330.0" fill="rgb(168,130,0)"/>
<polygon points="1731.9,580.5 1720.8,573.8 1720.6,564.2 1737.5,546.6 1749.5,563.2" fill="rgb(168,130,0)"/>
<polygon points="1390.4,503.4 1400.9,489.4 1414.7,488.9 1422.8,499.5 1422.5,502.7 1413.1,513.0" fill="rgb(178,172,0)"/>
<polygon points="1906.5,380.6 1899.1,388.3 1905.9,408.8 1931.2,403.5 1924.1,382.1" fill="rgb(188,172,8)"/>
<polygon points="1359.0,207.8 1368.6,216.9 1347.7,239.9 1332.8,236.7 1336.5,208.8" fill="rgb(188,172,8)"/>
<polygon points="1585.9,239.3 1587.3,238.6 1593.3,220.3 1579.8,205.9 1570.0,208.8 1558.2,233.8" fill="rgb(188,172,8)"/>
<polygon points="1433.4,759.4 1439.1,737.0 1418.8,729.1 1410.6,736.2 1406.7,756.4 1409.4,760.5" fill="rgb(188,172,8)"/>
<polygon points="1853.6,650.3 1830.3,658.6 1832.7,684.9 1833.4,685.7 1848.3,684.0 1854.9,676.8" fill="rgb(178,172,0)"/>
<polygon points="1546.7,688.3 1554.8,710.6 1549.7,719.6 1534.8,716.4 1527.2,700.8 1531.1,692.2" fill="rgb(188,172,8)"/>
<polygon points="1735.0,417.1 1721.8,420.1 1706.6,405.3 1713.9,377.7 1728.8,377.1 1740.2,383.5 1744.3,404.8" fill="rgb(178,172,0)"/>
<polygon points="1535.0,651.9 1551.8,666.2 1551.8,667.0 1545.6,677.3 1529.0,681.4 1516.8,666.1 1517.0,664.4" fill="rgb(188,172,8)"/>
<polygon points="1918.7,336.8 1941.8,357.8 1927.8,371.9 1906.5,370.1 1904.2,350.0" fill="rgb(178,172,0)"/>
<polygon points="1347.4,98.9 1339.4,122.1 1345.2,130.4 1367.8,125.3 1365.1,102.8 1353.6,94.9" fill="rgb(178,172,0)"/>
<polygon points="1297.1,232.2 1287.0,245.1 1291.4,259.7 1312.7,259.8 1320.7,242.9" fill="rgb(188,172,8)"/>
<polygon points="1437.5,548.6 1450.2,527.9 1430.1,513.2 1420.0,524.2 1420.2,541.8" fill="rgb(178,172,0)"/>
<polygon points="1446.1,277.7 1446.7,265.0 1441.1,256.0 1412.5,264.7 1412.1,281.1 1424.9,290.8" fill="rgb(178,172,0)"/>
<polygon points="1788.3,584.6 1796.3,583.2 1807.1,558.9 1789.5,546.5 1774.1,564.2" fill="rgb(168,130,0)"/>
<polygon points="1318.8,439.9 1325.4,453.5 1339.3,449.8 1342.1,437.1 1334.2,426.8 1328.3,427.2" fill="rgb(178,172,0)"/>
<polygon points="1867.2,610.5 1857.5,580.6 1882.7,580.8 1891.4,600.4 1889.7,603.4" fill="rgb(188,172,8)"/>
<polygon points="1922.1,160.8 1931.4,143.7 1920.0,130.5 1904.2,132.4 1897.1,147.5 1904.4,164.1" fill="rgb(178,172,0)"/>
<polygon points="1335.4,787.9 1339.4,808.7 1358.4,812.6 1366.7,806.5 1368.6,800.5 1359.5,780.6 1348.1,777.7" fill="rgb(168,130,0)"/>
<polygon points="1786.8,299.8 1776.5,282.4 1759.6,297.5 1761.3,311.3 1783.8,306.1" fill="rgb(168,130,0)"/>
<polygon points="1933.8,210.9 1915.5,210.3 1908.9,226.1 1914.9,236.4 1921.4,238.8 1940.6,220.4" fill="rgb(168,130,0)"/>
<polygon points="1983.6,335.6 1968.1,337.8 1963.1,311.9 1984.5,307.7 1993.3,315.8" fill="rgb(178,172,0)"/>
<polygon points="1864.5,637.7 1863.4,625.5 1867.5,619.5 1891.5,611.9 1901.7,635.6 1899.2,641.7 1888.7,646.7" fill="rgb(168,130,0)"/>
<polygon points="1642.4,173.6 1629.2,178.8 1612.8,168.8 1612.4,149.4 1630.6,143.7 1643.2,148.9" fill="rgb(178,172,0)"/>
<polygon points="1937.6,706.0 1961.0,689.5 1971.6,691.1 1978.6,708.2 1974.6,714.6 1949.8,722.6 1937.6,709.2" fill="rgb(188,172,8)"/>
<polygon points="1578.9,773.1 1576.0,771.6 1567.1,747.9 1567.4,746.8 1599.5,745.2 1601.2,746.3 1602.6,751.4 1587.0,771.6" fill="rgb(178,172,0)"/>
<polygon points="1375.9,313.3 1362.7,323.7 1355.5,322.8 1346.2,298.5 1362.5,289.9 1373.7,298.0" fill="rgb(188,172,8)"/>
<polygon points="1580.1,786.9 1580.1,814.0 1591.5,819.6 1602.1,817.1 1604.9,797.4 1588.8,785.3" fill="rgb(178,172,0)"/>
<polygon points="1781.0,196.9 1801.3,202.0 1801.7,228.4 1776.6,229.0 1775.9,228.2 1776.9,199.4" fill="rgb(178,172,0)"/>
<polygon points="1874.1,91.6 1866.4,70.4 1871.8,63.0 1890.6,58.4 1896.7,61.6 1904.1,75.8 1887.4,93.8" fill="rgb(178,172,0)"/>
<polygon points="1695.4,629.8 1689.6,624.5 1674.1,624.1 1661.7,639.2 1665.6,648.5 1686.8,655.0" fill="rgb(188,172,8)"/>
<polygon points="1326.1,713.8 1340.9,712.1 1345.6,701.4 1336.6,689.1 1322.6,690.4 1320.5,708.2" fill="rgb(178,172,0)"/>
<polygon points="1598.4,240.9 1603.7,224.6 1619.4,220.4 1625.8,227.5 1623.9,250.3 1618.9,252.1" fill="rgb(178,172,0)"/>
<polygon points="1633.6,569.0 1610.8,574.6 1607.5,571.3 1608.5,539.8 1613.3,538.7 1636.6,550.1 1638.9,558.9" fill="rgb(178,172,0)"/>
<polygon points="1291.3,173.7 1278.4,178.0 1277.5,203.0 1292.5,212.7 1309.1,195.3" fill="rgb(168,130,0)"/>
<polygon points="1572.9,411.7 1555.3,407.1 1545.2,417.9 1557.4,433.4 1577.9,432.2 1578.4,431.5" fill="rgb(178,172,0)"/>
<polygon points="1443.8,613.3 1459.7,608.1 1464.0,590.2 1459.7,579.7 1444.8,571.7 1431.5,594.3 1437.1,608.8" fill="rgb(178,172,0)"/>
<polygon points="1726.1,125.1 1738.0,126.6 1754.9,109.9 1755.2,98.5 1733.1,92.9 1721.2,117.1" fill="rgb(188,172,8)"/>
<polygon points="1658.3,747.5 1658.3,733.9 1637.4,722.2 1615.2,741.4 1616.8,747.1 1628.1,755.9" fill="rgb(178,172,0)"/>
<polygon points="1736.7,530.6 1736.7,535.5 1715.6,557.4 1700.2,540.6 1710.3,525.2 1731.6,523.4" fill="rgb(188,172,8)"/>
<polygon points="1455.7,206.9 1468.1,213.8 1467.7,217.5 1445.9,242.6 1431.8,222.2 1434.7,215.4" fill="rgb(188,172,8)"/>
<polygon points="1992.0,645.6 2010.4,637.6 2018.6,641.6 2027.5,663.5 2022.5,667.4 1993.7,665.7" fill="rgb(178,172,0)"/>
<polygon points="1813.9,369.0 1823.1,377.9 1823.1,396.1 1796.8,398.7 1794.7,382.0 1803.4,370.5" fill="rgb(178,172,0)"/>
<polygon points="1480.0,778.6 1476.7,802.2 1486.2,807.9 1500.8,797.2 1492.9,778.7 1482.4,776.7" fill="rgb(178,172,0)"/>
<polygon points="1864.7,308.0 1862.2,289.5 1880.6,276.6 1894.7,295.4 1893.9,300.5 1874.7,311.5" fill="rgb(178,172,0)"/>
<polygon points="1435.1,564.0 1422.7,585.0 1403.1,578.6 1403.1,560.6 1416.2,553.6 1433.1,560.3" fill="rgb(168,130,0)"/>
<polygon points="1296.1,97.3 1274.2,98.8 1272.7,119.7 1292.3,125.0 1299.3,118.4" fill="rgb(188,172,8)"/>
<polygon points="1289.5,419.3 1295.6,432.5 1308.6,434.5 1318.4,421.4 1305.3,409.9" fill="rgb(178,172,0)"/>
<polygon points="1765.2,715.9 1752.8,736.3 1728.1,725.9 1730.2,714.1 1751.3,702.5" fill="rgb(188,172,8)"/>
<polygon points="1758.5,88.0 1758.6,87.8 1760.9,60.8 1735.6,56.3 1732.0,77.1 1735.2,82.1" fill="rgb(168,130,0)"/>
<polygon points="1775.6,490.3 1787.8,479.9 1789.0,480.0 1801.3,492.1 1795.9,507.3 1787.5,511.5 1786.5,511.0" fill="rgb(178,172,0)"/>
<polygon points="1800.0,332.9 1791.5,345.7 1802.3,361.0 1813.2,359.4 1822.3,336.7" fill="rgb(178,172,0)"/>
<polygon points="1291.7,268.6 1312.5,268.7 1319.7,290.0 1317.2,291.9 1289.3,293.2 1281.8,283.5" fill="rgb(178,172,0)"/>
<polygon points="1784.3,663.8 1794.5,643.8 1779.9,634.8 1763.0,642.0 1762.9,642.1 1774.3,662.5" fill="rgb(178,172,0)"/>
<polygon points="1518.5,334.5 1503.3,357.0 1515.7,367.8 1538.1,361.0 1537.4,348.2 1519.2,334.5" fill="rgb(168,130,0)"/>
<polygon points="1613.1,101.4 1622.5,107.2 1626.2,132.6 1607.1,138.6 1597.6,131.5 1596.7,107.6" fill="rgb(178,172,0)"/>
<polygon points="1489.6,172.3 1474.2,165.5 1454.9,179.7 1461.4,198.6 1474.3,205.8 1490.5,195.4" fill="rgb(188,172,8)"/>
<polygon points="1906.1,538.3 1901.3,511.0 1903.6,507.4 1918.9,509.4 1925.5,526.9 1909.6,538.9" fill="rgb(188,172,8)"/>
<polygon points="1791.9,774.4 1781.8,759.2 1761.5,756.9 1753.8,774.0 1755.2,779.5 1771.9,786.5" fill="rgb(178,172,0)"/>
<polygon points="2011.4,536.9 2025.8,550.5 2025.7,553.0 2006.8,568.7 1997.4,561.1 1996.8,550.6" fill="rgb(178,172,0)"/>
<polygon points="1424.8,652.2 1401.9,638.1 1406.8,627.2 1429.8,621.0 1436.5,625.4 1432.3,648.5 1429.4,651.4" fill="rgb(188,172,8)"/>
<polygon points="1368.3,351.8 1360.6,364.0 1343.2,365.4 1335.4,348.7 1352.4,335.2 1360.4,336.1" fill="rgb(188,172,8)"/>
<polygon points="1449.6,106.7 1464.7,120.9 1460.0,134.0 1439.2,135.9 1433.1,120.6" fill="rgb(188,172,8)"/>
<polygon points="1747.8,152.9 1736.4,138.1 1723.5,136.5 1713.2,154.5 1728.1,170.9 1740.9,168.7" fill="rgb(178,172,0)"/>
<polygon points="1340.8,87.5 1311.8,84.3 1313.4,68.7 1333.7,60.5 1347.4,77.2 1347.3,83.3" fill="rgb(168,130,0)"/>
<polygon points="1674.9,580.4 1668.0,565.3 1647.9,564.3 1642.8,574.0 1654.0,591.3 1658.9,592.2" fill="rgb(168,130,0)"/>
<polygon points="1802.7,236.2 1804.8,238.1 1803.5,258.3 1781.1,266.7 1775.4,258.1 1777.9,236.8" fill="rgb(178,172,0)"/>
<polygon points="1666.5,619.7 1655.8,632.8 1645.0,629.2 1639.5,615.9 1652.7,602.9 1657.3,603.7" fill="rgb(168,130,0)"/>
<polygon points="1499.4,488.8 1501.8,504.1 1487.3,518.5 1477.9,514.6 1474.1,484.5 1488.4,482.3" fill="rgb(168,130,0)"/>
<polygon points="1390.1,215.2 1397.8,223.6 1420.6,219.7 1423.5,212.9 1416.0,195.0 1401.3,194.0" fill="rgb(178,172,0)"/>
<polygon points="1455.3,452.5 1473.9,425.8 1473.5,423.9 1443.2,417.8 1437.6,446.1" fill="rgb(168,130,0)"/>
<polygon points="1574.0,274.9 1548.1,263.0 1552.3,240.9 1553.4,240.4 1582.8,246.2" fill="rgb(168,130,0)"/>
<polygon points="1982.0,687.3 1988.9,704.0 2012.6,707.7 2019.5,677.6 1990.1,675.8" fill="rgb(168,130,0)"/>
<polygon points="1529.6,803.0 1511.3,797.2 1501.7,774.4 1516.5,765.2 1526.4,767.9 1536.1,788.6" fill="rgb(178,172,0)"/>
<polygon points="1855.1,638.8 1854.0,626.5 1826.8,619.8 1813.5,639.9 1829.1,650.3 1853.3,641.7" fill="rgb(178,172,0)"/>
<polygon points="1834.4,413.8 1824.4,404.7 1795.4,407.6 1791.5,413.4 1792.6,421.9 1813.7,438.5" fill="rgb(178,172,0)"/>
<polygon points="1913.5,329.9 1914.0,325.6 1899.2,307.9 1879.5,319.2 1885.3,336.5 1899.4,342.7" fill="rgb(178,172,0)"/>
<polygon points="1371.4,738.4 1382.9,728.8 1401.6,735.6 1398.0,754.6 1379.3,753.7" fill="rgb(178,172,0)"/>
<polygon points="1485.1,763.8 1496.3,765.9 1509.1,757.9 1507.4,740.7 1493.4,734.3 1482.7,752.8" fill="rgb(188,172,8)"/>
<polygon points="1550.3,548.1 1560.1,545.2 1567.5,532.8 1553.5,514.1 1546.4,512.9 1537.0,518.5 1534.8,538.2" fill="rgb(168,130,0)"/>
<polygon points="1655.5,653.7 1652.4,646.1 1642.2,642.8 1627.0,655.4 1640.3,674.3 1644.6,672.6" fill="rgb(178,172,0)"/>
<polygon points="1392.7,166.0 1395.2,158.6 1422.5,159.5 1427.7,172.1 1416.3,184.8 1401.6,183.8" fill="rgb(168,130,0)"/>
<polygon points="1776.9,189.0 1780.5,157.6 1755.6,157.5 1748.3,174.1 1760.5,189.8 1772.7,191.5" fill="rgb(188,172,8)"/>
<polygon points="1725.9,673.0 1728.6,671.5 1748.5,686.4 1748.0,695.2 1727.5,706.5 1718.4,692.7" fill="rgb(188,172,8)"/>
<polygon points="1569.2,149.8 1567.9,158.6 1585.7,176.6 1601.9,168.7 1601.5,147.7 1591.7,140.4" fill="rgb(168,130,0)"/>
<polygon points="1311.2,645.8 1300.9,659.3 1283.5,642.6 1285.3,624.9 1306.7,628.3" fill="rgb(168,130,0)"/>
<polygon points="1997.0,120.4 2023.3,104.0 2022.2,97.0 2000.5,84.0 1985.9,96.8 1984.2,111.6" fill="rgb(168,130,0)"/>
<polygon points="1479.8,383.2 1487.2,396.4 1503.9,392.2 1506.9,376.2 1495.4,366.1 1488.7,366.8" fill="rgb(188,172,8)"/>
<polygon points="1855.7,412.7 1874.4,391.3 1887.6,392.6 1895.2,415.6 1892.6,421.7 1865.7,424.7" fill="rgb(178,172,0)"/>
<polygon points="1596.5,500.5 1604.0,493.9 1630.6,502.5 1610.1,528.8 1605.2,529.9 1597.3,525.9" fill="rgb(168,130,0)"/>
<polygon points="1380.6,684.3 1372.2,668.8 1353.3,669.5 1346.0,682.4 1355.6,695.4 1373.1,692.9" fill="rgb(178,172,0)"/>
<polygon points="1449.2,557.8 1464.6,566.0 1487.1,545.6 1481.4,532.2 1471.2,528.1 1460.9,531.3 1447.0,553.8" fill="rgb(178,172,0)"/>
<polygon points="1443.1,762.0 1448.8,739.9 1450.7,739.3 1472.0,754.0 1474.6,766.1 1471.9,768.3 1450.4,770.3" fill="rgb(168,130,0)"/>
<polygon points="1581.9,579.6 1597.7,581.0 1600.7,584.0 1600.1,601.6 1572.7,608.7 1571.1,607.7 1569.7,593.6" fill="rgb(168,130,0)"/>
<polygon points="1950.9,731.9 1949.9,744.5 1967.5,762.3 1971.7,763.2 1980.2,751.7 1977.1,723.5" fill="rgb(178,172,0)"/>
<polygon points="1360.1,601.3 1345.3,588.8 1332.5,600.6 1332.0,608.9 1348.0,619.3 1354.5,617.3" fill="rgb(178,172,0)"/>
<polygon points="1936.3,416.0 1907.9,422.0 1905.3,428.0 1912.4,448.7 1927.7,450.3 1938.1,443.9 1939.3,417.6" fill="rgb(178,172,0)"/>
<polygon points="1811.6,259.4 1827.0,271.7 1832.6,270.1 1843.0,245.9 1835.2,237.1 1812.9,239.1" fill="rgb(178,172,0)"/>
<polygon points="1345.0,628.0 1337.0,644.9 1318.7,644.4 1313.8,625.5 1325.0,615.0" fill="rgb(188,172,8)"/>
<polygon points="1581.7,277.3 1583.8,281.7 1603.9,285.5 1613.6,262.2 1591.2,250.0 1589.8,250.7" fill="rgb(168,130,0)"/>
<polygon points="1623.1,314.2 1618.8,322.2 1628.0,348.7 1655.3,341.0 1655.5,338.9 1636.8,313.3" fill="rgb(168,130,0)"/>
<polygon points="1581.6,636.7 1600.2,640.5 1604.5,613.3 1602.4,610.8 1575.2,617.8" fill="rgb(188,172,8)"/>
<polygon points="1598.7,691.4 1628.9,689.9 1633.0,682.2 1616.8,659.2 1608.4,657.3 1595.5,682.2" fill="rgb(178,172,0)"/>
<polygon points="1508.3,581.4 1475.6,582.9 1471.3,572.3 1493.3,552.3 1500.9,556.4" fill="rgb(188,172,8)"/>
<polygon points="1337.7,489.8 1324.2,473.3 1327.9,466.8 1342.2,463.0 1351.5,471.2 1350.4,490.8" fill="rgb(188,172,8)"/>
<polygon points="1944.3,483.5 1937.8,462.9 1947.0,457.3 1959.1,461.2 1965.3,482.7 1963.5,487.7" fill="rgb(188,172,8)"/>
<polygon points="1663.3,89.0 1655.1,65.0 1658.9,55.9 1684.5,56.7 1689.9,75.6 1684.6,84.4" fill="rgb(178,172,0)"/>
<polygon points="1466.6,299.3 1490.8,298.7 1495.1,316.4 1465.7,331.3 1462.1,330.3 1461.1,328.3" fill="rgb(178,172,0)"/>
<polygon points="1449.2,250.0 1449.2,249.8 1470.5,225.4 1486.6,253.0 1454.4,258.4" fill="rgb(178,172,0)"/>
<polygon points="1293.1,442.5 1309.0,444.9 1317.3,461.9 1312.9,469.8 1294.0,477.0 1290.5,475.0 1283.4,460.9" fill="rgb(178,172,0)"/>
<polygon points="1352.9,554.3 1348.7,535.6 1364.3,513.3 1368.5,514.2 1379.8,548.3" fill="rgb(178,172,0)"/>
<polygon points="1807.0,582.5 1816.7,560.5 1833.3,556.1 1837.2,557.9 1842.0,573.3 1820.5,589.6" fill="rgb(178,172,0)"/>
<polygon points="1948.7,365.3 1953.7,364.4 1964.6,378.7 1959.1,401.7 1946.7,404.7 1943.7,403.0 1935.5,378.6" fill="rgb(178,172,0)"/>
<polygon points="1959.0,67.8 1980.0,88.1 1994.4,75.4 1996.0,61.1 1971.4,50.5 1963.0,55.1" fill="rgb(178,172,0)"/>
<polygon points="1315.9,508.1 1299.6,497.6 1297.5,484.1 1315.2,477.3 1330.4,496.0" fill="rgb(178,172,0)"/>
<polygon points="1706.3,360.5 1712.9,365.9 1726.3,365.3 1735.1,333.9 1725.0,331.6 1708.6,341.4" fill="rgb(178,172,0)"/>
<polygon points="1279.5,366.8 1290.3,365.6 1302.2,344.2 1280.9,334.4 1276.4,336.4 1269.4,350.4" fill="rgb(178,172,0)"/>
<polygon points="1787.3,622.7 1803.4,632.7 1804.9,632.4 1816.7,614.5 1812.7,602.8 1798.7,595.4 1791.2,596.7 1788.5,600.4" fill="rgb(168,130,0)"/>
<polygon points="1573.5,496.3 1559.3,509.8 1573.8,529.3 1591.1,525.8 1590.3,500.0" fill="rgb(178,172,0)"/>
<polygon points="1687.6,160.1 1665.5,141.3 1653.7,148.9 1653.0,174.5 1658.8,177.6 1682.0,170.9" fill="rgb(178,172,0)"/>
<polygon points="1309.1,705.3 1292.8,708.8 1284.3,689.8 1284.6,688.8 1300.5,678.2 1311.3,687.1" fill="rgb(168,130,0)"/>
<polygon points="1898.4,594.9 1913.2,589.8 1922.3,571.4 1908.0,553.7 1903.7,552.9 1900.1,554.4 1889.3,574.3" fill="rgb(168,130,0)"/>
<polygon points="1662.6,99.7 1668.6,123.8 1695.8,112.6 1684.5,92.1 1664.5,96.4" fill="rgb(178,172,0)"/>
<polygon points="1577.1,400.8 1557.9,395.8 1557.7,376.1 1588.0,371.8 1592.2,375.2 1592.5,388.9" fill="rgb(188,172,8)"/>
<polygon points="1520.7,441.0 1535.2,424.2 1536.0,424.1 1549.0,440.6 1544.2,459.4 1536.0,463.4 1534.0,462.9" fill="rgb(178,172,0)"/>
<polygon points="1975.3,481.7 2005.1,462.9 1985.0,445.5 1968.0,456.4" fill="rgb(168,130,0)"/>
<polygon points="1824.4,192.1 1842.1,204.1 1858.0,194.4 1858.7,191.8 1848.0,177.2 1828.4,181.0" fill="rgb(178,172,0)"/>
<polygon points="1647.7,258.5 1662.2,244.4 1662.5,228.0 1635.0,227.7 1632.8,254.0" fill="rgb(168,130,0)"/>
<polygon points="1552.3,556.9 1562.5,553.9 1576.3,572.7 1562.4,588.6 1544.6,575.8" fill="rgb(178,172,0)"/>
<polygon points="1329.4,340.5 1315.4,335.7 1324.4,300.5 1327.0,298.6 1336.2,299.6 1346.6,326.8" fill="rgb(178,172,0)"/>
<polygon points="2001.7,527.3 1986.8,541.3 1966.9,532.0 1966.3,530.7 1975.5,510.8 2000.8,521.2" fill="rgb(188,172,8)"/>
<polygon points="1678.6,453.2 1676.6,474.7 1690.3,484.6 1705.8,475.4 1709.1,466.3 1704.2,454.8 1678.9,453.0" fill="rgb(168,130,0)"/>
<polygon points="1314.4,742.5 1318.1,722.7 1312.1,716.7 1294.9,720.4 1290.9,728.5 1298.0,741.7 1309.3,745.1" fill="rgb(178,172,0)"/>
<polygon points="1389.7,632.7 1382.4,636.0 1366.7,622.7 1372.7,605.3 1384.8,602.9 1394.5,622.2" fill="rgb(188,172,8)"/>
<polygon points="1499.2,171.3 1500.1,194.7 1518.5,203.5 1536.0,187.1 1536.3,176.7 1513.0,160.9" fill="rgb(178,172,0)"/>
<polygon points="2000.3,162.4 2004.8,144.7 2028.7,150.5 2025.2,165.7 2012.1,171.7" fill="rgb(178,172,0)"/>
<polygon points="1375.2,101.6 1398.4,94.8 1408.6,115.8 1385.9,133.4 1378.4,128.1" fill="rgb(178,172,0)"/>
<polygon points="1685.8,575.3 1679.9,562.3 1687.0,551.0 1694.1,550.5 1706.5,563.9 1706.7,573.5 1696.1,578.0" fill="rgb(168,130,0)"/>
<polygon points="1413.6,122.5 1421.5,124.6 1427.8,140.6 1422.8,150.2 1396.9,149.3 1393.1,138.4" fill="rgb(168,130,0)"/>
<polygon points="1497.4,707.1 1517.1,703.7 1525.3,720.4 1511.3,730.1 1496.2,723.2 1493.2,716.0" fill="rgb(188,172,8)"/>
<polygon points="1360.8,83.4 1360.8,77.2 1377.9,59.5 1383.4,59.3 1397.8,79.6 1394.6,85.5 1373.2,91.9" fill="rgb(188,172,8)"/>
<polygon points="1950.2,185.6 1946.7,200.9 1953.7,210.6 1959.2,211.7 1970.8,201.6 1967.3,179.8 1965.7,179.3" fill="rgb(178,172,0)"/>
<polygon points="1683.2,797.4 1701.0,793.5 1699.9,770.1 1676.5,767.5 1670.0,785.2" fill="rgb(178,172,0)"/>
<polygon points="1446.3,646.6 1467.8,651.4 1479.2,635.5 1479.2,632.4 1464.2,621.3 1450.1,625.8" fill="rgb(178,172,0)"/>
<polygon points="1951.2,226.0 1957.1,227.3 1968.6,247.3 1966.7,252.7 1956.7,257.9 1932.5,250.4 1929.9,246.3" fill="rgb(178,172,0)"/>
<polygon points="1533.9,301.8 1517.6,321.4 1516.9,321.4 1505.8,312.4 1501.7,295.4 1509.6,282.4 1526.6,283.6" fill="rgb(178,172,0)"/>
<polygon points="1424.9,322.4 1413.9,332.0 1414.6,348.7 1415.6,350.2 1438.3,348.0 1447.8,336.1 1446.9,334.3" fill="rgb(178,172,0)"/>
<polygon points="1929.6,715.3 1942.6,729.6 1941.7,742.2 1924.5,750.3 1910.2,740.4 1908.5,731.7" fill="rgb(168,130,0)"/>
<polygon points="1420.2,796.5 1409.3,785.7 1410.3,768.8 1435.0,767.6 1442.7,776.4 1434.1,797.5" fill="rgb(178,172,0)"/>
<polygon points="1686.6,417.5 1699.7,415.0 1711.7,426.8 1704.8,442.0 1682.1,440.4" fill="rgb(178,172,0)"/>
<polygon points="1320.6,753.2 1334.0,756.8 1339.3,769.9 1328.8,778.4 1315.7,774.7 1316.0,755.6" fill="rgb(168,130,0)"/>
<polygon points="1758.2,147.9 1748.1,134.9 1764.3,118.8 1781.0,134.3 1780.6,146.7 1779.0,148.0" fill="rgb(168,130,0)"/>
<polygon points="1772.5,718.7 1759.9,739.3 1762.9,747.4 1784.4,749.8 1793.3,731.4 1788.7,719.7 1784.9,717.5" fill="rgb(178,172,0)"/>
<polygon points="1727.0,255.7 1709.6,257.0 1703.4,264.1 1703.1,270.7 1711.7,282.7 1728.4,277.7 1731.6,262.2" fill="rgb(188,172,8)"/>
<polygon points="1694.9,220.1 1673.7,223.4 1671.1,226.9 1670.9,242.7 1693.5,255.8 1700.6,247.8" fill="rgb(188,172,8)"/>
<polygon points="1955.1,526.2 1938.0,524.1 1930.4,503.9 1942.0,494.9 1964.1,499.7 1965.5,503.8" fill="rgb(178,172,0)"/>
<polygon points="1766.5,479.6 1778.8,469.2 1769.9,453.3 1758.5,454.2 1752.6,466.4 1760.7,478.8" fill="rgb(178,172,0)"/>
<polygon points="1763.0,494.1 1774.4,515.9 1745.1,522.3 1740.8,516.1 1741.7,507.9 1756.9,493.3" fill="rgb(188,172,8)"/>
<polygon points="1564.5,664.8 1588.2,677.2 1600.2,653.9 1597.7,651.0 1578.1,647.1 1564.5,664.0" fill="rgb(178,172,0)"/>
<polygon points="1489.0,106.6 1472.1,111.6 1456.2,96.7 1455.6,87.1 1475.7,74.7 1481.7,77.9" fill="rgb(188,172,8)"/>
<polygon points="1978.6,256.7 1991.8,275.2 2011.8,267.7 2011.4,253.4 1999.6,243.8 1980.5,251.0" fill="rgb(178,172,0)"/>
<polygon points="1824.1,172.9 1846.4,168.6 1850.3,149.4 1828.6,144.8 1815.4,157.2" fill="rgb(178,172,0)"/>
<polygon points="1968.3,597.8 1965.5,582.0 1987.3,572.2 1997.6,580.6 1999.5,593.5 1971.3,600.5" fill="rgb(178,172,0)"/>
<polygon points="1380.8,287.4 1369.0,278.8 1370.1,268.5 1390.9,255.3 1400.9,265.3 1400.5,280.5" fill="rgb(168,130,0)"/>
<polygon points="1374.6,643.7 1370.1,656.8 1352.7,657.5 1346.4,647.2 1353.0,633.3 1359.7,631.2" fill="rgb(168,130,0)"/>
<polygon points="1424.8,665.5 1406.8,683.9 1419.8,697.1 1436.6,686.4 1429.0,664.8" fill="rgb(178,172,0)"/>
<polygon points="1711.6,132.4 1703.1,147.5 1695.3,150.3 1676.5,134.2 1677.3,131.9 1700.2,122.5 1707.2,125.2" fill="rgb(168,130,0)"/>
<polygon points="1412.3,476.2 1397.6,476.7 1389.8,459.1 1390.4,457.7 1406.6,450.3 1418.4,455.1" fill="rgb(168,130,0)"/>
<polygon points="1505.6,477.9 1526.0,467.8 1512.6,445.6 1502.4,446.8 1494.0,471.1" fill="rgb(188,172,8)"/>
<polygon points="1664.8,342.2 1683.6,324.6 1699.3,339.5 1696.8,360.8 1673.5,360.6 1664.6,344.3" fill="rgb(188,172,8)"/>
<polygon points="1630.1,464.7 1639.0,486.6 1634.7,494.5 1634.2,494.7 1608.6,486.5 1607.8,473.1 1623.5,462.7" fill="rgb(188,172,8)"/>
<polygon points="1332.2,249.7 1331.2,250.2 1324.5,264.4 1330.7,282.7 1338.4,283.6 1353.7,275.6 1354.7,266.4 1344.2,252.3" fill="rgb(168,130,0)"/>
<polygon points="1284.7,326.2 1288.4,302.1 1318.1,300.7 1308.7,337.3 1308.6,337.3" fill="rgb(178,172,0)"/>
<polygon points="1714.8,449.1 1722.9,431.0 1735.5,428.2 1748.9,446.7 1741.8,461.1 1720.0,461.4" fill="rgb(178,172,0)"/>
<polygon points="1887.3,770.9 1905.1,749.8 1917.4,758.4 1917.0,774.3 1903.0,779.9 1887.2,771.0" fill="rgb(168,130,0)"/>
<polygon points="1510.5,434.4 1525.6,417.1 1506.4,403.9 1488.3,408.5 1483.7,421.2 1484.1,423.0 1500.0,435.6" fill="rgb(188,172,8)"/>
<polygon points="1809.9,204.3 1816.9,200.4 1834.7,212.4 1831.8,227.6 1812.1,229.3 1810.3,227.6" fill="rgb(188,172,8)"/>
<polygon points="1524.2,537.9 1526.3,519.7 1508.6,513.7 1493.5,528.7 1499.0,541.6 1506.5,545.6" fill="rgb(168,130,0)"/>
<polygon points="1448.8,173.7 1468.7,159.0 1461.5,142.8 1436.9,145.1 1431.3,155.9 1436.9,169.5" fill="rgb(188,172,8)"/>
<polygon points="1569.8,282.8 1571.7,286.8 1562.2,301.2 1546.2,296.3 1539.7,280.1 1548.6,273.1" fill="rgb(178,172,0)"/>
<polygon points="1416.0,299.3 1405.4,291.4 1387.7,297.6 1389.8,312.1 1404.6,319.8 1415.7,310.2" fill="rgb(188,172,8)"/>
<polygon points="1461.7,695.0 1475.3,684.7 1483.1,688.1 1487.6,701.4 1484.0,709.2 1466.9,708.1" fill="rgb(188,172,8)"/>
<polygon points="1338.3,94.7 1306.2,91.2 1304.9,92.6 1308.7,117.8 1329.0,121.6" fill="rgb(178,172,0)"/>
<polygon points="1712.5,111.8 1704.7,108.7 1694.1,89.5 1698.7,81.8 1721.3,82.5 1724.4,87.3" fill="rgb(178,172,0)"/>
<polygon points="1897.3,542.1 1892.3,513.3 1872.4,519.3 1870.1,535.7 1894.2,543.4" fill="rgb(188,172,8)"/>
<polygon points="1485.9,471.3 1469.4,473.8 1468.3,473.2 1459.4,457.8 1478.0,431.3 1495.0,444.7" fill="rgb(188,172,8)"/>
<polygon points="1326.8,788.6 1330.7,809.2 1317.0,817.6 1300.1,802.8 1299.0,792.8 1311.3,784.2" fill="rgb(168,130,0)"/>
<polygon points="1323.2,591.5 1300.3,579.7 1299.9,576.2 1314.3,563.2 1337.8,570.7 1337.8,578.2" fill="rgb(178,172,0)"/>
<polygon points="1853.7,464.1 1860.6,471.6 1850.8,495.1 1842.3,495.7 1830.0,483.4 1834.7,466.7" fill="rgb(188,172,8)"/>
<polygon points="1637.5,504.5 1652.0,521.7 1640.1,541.0 1617.4,529.8 1637.0,504.7" fill="rgb(178,172,0)"/>
<polygon points="1784.1,678.0 1773.3,676.5 1759.7,687.3 1759.3,695.3 1771.8,707.4 1782.8,706.3 1784.8,679.0" fill="rgb(188,172,8)"/>
<polygon points="1833.7,735.2 1824.7,705.5 1797.1,718.4 1801.7,730.1 1829.0,739.8" fill="rgb(168,130,0)"/>
<polygon points="1851.8,117.5 1834.1,114.9 1827.8,120.2 1832.1,136.6 1850.5,140.5 1852.9,138.6" fill="rgb(188,172,8)"/>
<polygon points="1769.6,235.7 1767.0,256.8 1743.0,256.0 1737.7,248.4 1743.4,231.8 1768.9,234.9" fill="rgb(178,172,0)"/>
<polygon points="1777.6,624.1 1778.7,601.0 1750.1,605.3 1758.2,632.3" fill="rgb(178,172,0)"/>
<polygon points="1939.7,646.5 1937.1,656.6 1923.3,661.0 1911.5,645.8 1913.6,640.7 1928.9,636.8" fill="rgb(178,172,0)"/>
<polygon points="1425.0,398.7 1424.7,401.4 1401.8,411.4 1388.2,404.7 1386.9,402.0 1388.3,394.1 1405.7,377.7" fill="rgb(178,172,0)"/>
<polygon points="1937.2,605.6 1922.2,593.9 1931.0,576.0 1948.2,576.1 1954.3,581.8 1957.3,598.8" fill="rgb(178,172,0)"/>
<polygon points="1924.1,169.2 1940.3,180.8 1936.1,199.4 1913.3,198.6 1903.4,177.9 1905.3,172.8" fill="rgb(178,172,0)"/>
<polygon points="1535.4,614.8 1555.7,609.2 1554.4,596.4 1540.3,586.2 1524.8,592.2 1526.3,608.9" fill="rgb(178,172,0)"/>
<polygon points="1924.8,331.3 1925.3,326.9 1949.9,311.7 1953.2,313.5 1958.8,342.1 1952.4,350.9 1947.3,351.8" fill="rgb(168,130,0)"/>
<polygon points="1333.9,167.5 1323.5,190.8 1315.2,190.1 1298.7,170.2 1302.7,164.7 1331.3,162.0" fill="rgb(178,172,0)"/>
<polygon points="1882.6,682.2 1889.5,689.9 1878.9,711.6 1873.9,712.6 1856.8,689.4 1863.0,682.5" fill="rgb(188,172,8)"/>
<polygon points="1797.3,782.5 1780.0,792.9 1783.4,808.7 1804.1,809.0 1798.9,782.9" fill="rgb(178,172,0)"/>
<polygon points="1611.4,330.5 1619.3,353.1 1616.2,359.3 1600.2,365.2 1596.4,362.1 1592.0,340.3" fill="rgb(178,172,0)"/>
<polygon points="1594.2,777.3 1611.4,755.2 1622.5,763.8 1625.9,782.1 1610.6,789.7" fill="rgb(188,172,8)"/>
<polygon points="1718.6,627.4 1735.4,601.2 1743.1,606.4 1752.0,635.7 1751.9,635.7 1735.1,642.7" fill="rgb(168,130,0)"/>
<polygon points="1607.5,435.3 1616.0,454.5 1601.0,464.4 1589.3,456.1 1588.3,440.1 1588.9,439.4" fill="rgb(178,172,0)"/>
<polygon points="1685.6,690.3 1691.1,664.9 1718.1,671.3 1710.3,691.6 1686.4,691.7" fill="rgb(178,172,0)"/>
<polygon points="1607.7,733.9 1595.6,705.9 1598.6,700.0 1628.1,698.5 1631.7,715.9 1609.6,735.1" fill="rgb(168,130,0)"/>
<polygon points="1799.0,304.2 1816.9,300.3 1830.0,324.3 1829.1,326.4 1824.5,329.3 1801.9,325.5 1795.5,311.8" fill="rgb(178,172,0)"/>
<polygon points="1686.1,183.1 1698.0,204.8 1693.3,209.4 1674.9,212.2 1665.7,188.9" fill="rgb(178,172,0)"/>
<polygon points="1548.3,187.2 1565.7,197.4 1574.5,194.7 1578.2,183.2 1562.6,167.4 1548.6,178.3" fill="rgb(188,172,8)"/>
<polygon points="1281.2,380.8 1291.6,379.7 1301.4,391.7 1300.2,399.7 1283.8,409.3 1280.7,408.2 1275.8,388.0" fill="rgb(168,130,0)"/>
<polygon points="1376.4,406.3 1377.8,409.2 1368.6,428.6 1351.2,431.5 1341.7,419.0 1350.0,405.8" fill="rgb(178,172,0)"/>
<polygon points="1342.7,753.2 1356.0,739.6 1363.3,741.1 1371.9,757.7 1360.2,771.4 1349.0,768.6" fill="rgb(178,172,0)"/>
<polygon points="1768.0,554.2 1781.1,539.2 1779.5,527.1 1778.5,526.6 1750.3,532.7 1750.3,536.6 1762.4,553.3" fill="rgb(178,172,0)"/>
<polygon points="1401.2,358.0 1402.3,359.6 1401.3,368.6 1385.3,383.8 1371.9,367.7 1378.9,356.7" fill="rgb(178,172,0)"/>
<polygon points="1690.5,318.9 1690.7,317.2 1706.2,303.8 1718.6,322.3 1703.5,331.3" fill="rgb(168,130,0)"/>
<polygon points="1466.4,514.7 1462.9,486.1 1462.0,485.7 1438.4,500.1 1438.1,503.4 1457.4,517.5" fill="rgb(188,172,8)"/>
<polygon points="1646.6,309.5 1661.8,330.4 1677.1,316.1 1677.3,314.4 1660.2,296.9 1660.2,296.9" fill="rgb(168,130,0)"/>
<polygon points="1818.8,111.3 1807.7,110.5 1798.6,91.1 1804.2,84.3 1823.1,83.2 1825.7,105.5" fill="rgb(178,172,0)"/>
<polygon points="1612.9,618.2 1608.9,643.4 1611.2,645.9 1618.1,647.5 1633.3,634.9 1628.2,622.4" fill="rgb(168,130,0)"/>
<polygon points="1862.0,643.8 1885.7,652.7 1882.2,672.8 1861.5,673.2 1860.3,646.5" fill="rgb(188,172,8)"/>
<polygon points="1566.7,776.4 1556.7,749.5 1533.0,765.0 1542.6,785.4" fill="rgb(178,172,0)"/>
<polygon points="1581.9,458.2 1580.9,440.6 1556.9,442.1 1551.6,462.9 1567.3,468.2" fill="rgb(188,172,8)"/>
<polygon points="1488.1,642.5 1474.6,661.3 1478.4,673.9 1487.6,678.0 1505.0,665.2 1505.2,663.4" fill="rgb(168,130,0)"/>
<polygon points="1857.2,282.3 1839.4,272.6 1850.0,247.8 1860.2,248.1 1877.1,268.0 1877.1,268.4" fill="rgb(188,172,8)"/>
<polygon points="1681.0,588.1 1666.5,598.7 1675.5,614.2 1688.5,614.5 1691.8,590.9" fill="rgb(178,172,0)"/>
<polygon points="1358.2,729.0 1351.5,717.4 1356.1,707.1 1372.0,704.8 1374.7,721.5 1364.3,730.2" fill="rgb(178,172,0)"/>
<polygon points="1665.7,403.0 1661.4,380.7 1642.2,386.3 1635.5,407.8 1641.1,410.4" fill="rgb(178,172,0)"/>
<polygon points="1771.2,272.8 1771.1,273.3 1754.3,288.3 1743.4,279.8 1746.4,264.9 1766.4,265.6" fill="rgb(178,172,0)"/>
<polygon points="1962.4,572.5 1982.3,563.5 1981.7,552.9 1962.1,543.8 1957.1,567.6" fill="rgb(178,172,0)"/>
<polygon points="1793.1,670.2 1805.4,646.2 1807.0,645.8 1822.2,655.9 1824.7,682.3 1793.9,671.4" fill="rgb(178,172,0)"/>
<polygon points="1313.3,526.8 1307.2,533.0 1288.7,530.4 1285.0,522.1 1296.8,505.8 1312.7,516.0" fill="rgb(178,172,0)"/>
<polygon points="1703.2,523.1 1689.0,504.7 1670.6,523.6 1684.1,539.4 1693.0,538.7" fill="rgb(188,172,8)"/>
<polygon points="1929.1,757.8 1943.6,750.9 1958.6,766.1 1936.9,777.7 1928.6,773.4" fill="rgb(168,130,0)"/>
<polygon points="1741.2,179.8 1729.7,181.8 1721.1,201.8 1734.5,208.2 1751.5,193.1" fill="rgb(188,172,8)"/>
<polygon points="1978.4,777.7 2010.2,792.6 1989.0,813.9 1975.4,799.7" fill="rgb(178,172,0)"/>
<polygon points="1451.5,198.9 1445.7,181.9 1435.3,178.3 1424.6,190.2 1431.6,206.9" fill="rgb(168,130,0)"/>
<polygon points="1464.9,718.2 1455.2,731.8 1475.6,745.8 1486.8,726.4 1483.9,719.3" fill="rgb(188,172,8)"/>
<polygon points="1952.5,267.0 1945.6,290.7 1927.0,279.7 1928.8,259.6" fill="rgb(188,172,8)"/>
<polygon points="1567.6,490.6 1563.7,475.6 1549.0,470.6 1540.5,474.7 1547.5,502.1 1554.4,503.2" fill="rgb(188,172,8)"/>
<polygon points="1807.5,446.7 1790.7,433.4 1781.1,447.3 1789.9,463.1 1791.1,463.2 1808.0,449.4" fill="rgb(168,130,0)"/>
<polygon points="1427.2,611.6 1421.0,595.8 1397.9,588.3 1390.8,596.6 1401.9,618.5" fill="rgb(188,172,8)"/>
<polygon points="1823.3,490.0 1835.0,501.6 1824.5,516.3 1805.9,510.5 1811.9,493.5" fill="rgb(168,130,0)"/>
<polygon points="1323.7,201.5 1329.7,208.0 1325.9,235.6 1324.7,236.2 1300.1,225.0 1298.4,218.0 1314.8,200.8" fill="rgb(188,172,8)"/>
<polygon points="1794.5,364.4 1784.8,350.7 1772.8,350.6 1767.5,367.8 1786.4,375.3" fill="rgb(178,172,0)"/>
<polygon points="1400.1,664.3 1395.2,669.3 1393.3,669.1 1391.2,665.2 1392.5,661.6 1394.3,660.8" fill="rgb(212,170,90)"/>
<polygon points="1585.6,550.3 1586.9,548.1 1589.8,547.5 1591.1,548.2 1591.0,553.7 1587.9,553.5" fill="rgb(212,170,90)"/>
<polygon points="1318.4,404.4 1323.8,409.1 1326.3,409.0 1329.2,404.4 1326.7,397.8 1318.9,401.1" fill="rgb(212,170,90)"/>
<polygon points="1875.3,495.4 1873.3,493.5 1875.3,488.9 1879.3,489.4 1880.2,493.3 1879.7,494.1" fill="rgb(212,170,90)"/>
<polygon points="1281.6,70.3 1283.5,69.0 1286.5,69.1 1288.2,71.3 1287.9,74.6 1287.7,74.8 1282.8,75.1 1282.7,75.1" fill="rgb(212,170,90)"/>
<polygon points="1544.5,222.2 1540.2,219.9 1539.2,217.4 1543.1,213.8 1547.5,216.4 1544.7,222.1" fill="rgb(212,170,90)"/>
<polygon points="1879.8,132.7 1870.0,131.5 1869.6,122.1 1873.2,118.5 1879.0,119.5 1882.7,126.7" fill="rgb(212,170,90)"/>
<polygon points="1449.0,302.2 1447.5,310.2 1440.4,306.3 1440.5,302.8 1446.2,299.3" fill="rgb(212,170,90)"/>
<polygon points="1806.3,691.1 1815.6,694.3 1815.8,694.6 1814.8,697.0 1806.7,700.8 1805.6,700.1" fill="rgb(212,170,90)"/>
<polygon points="1451.3,798.8 1454.6,802.4 1460.9,800.8 1462.4,790.5 1454.4,791.3" fill="rgb(212,170,90)"/>
<polygon points="1386.9,772.9 1394.4,773.2 1395.4,774.7 1395.0,780.9 1385.9,785.1 1382.6,777.9" fill="rgb(212,170,90)"/>
<polygon points="1962.2,656.0 1961.1,660.2 1966.2,666.5 1970.1,667.1 1973.1,662.8 1972.5,655.0 1969.0,652.8" fill="rgb(212,170,90)"/>
<polygon points="1794.8,180.1 1795.4,174.0 1795.8,173.7 1799.5,174.7 1801.3,177.8 1800.4,180.3 1798.8,181.2" fill="rgb(212,170,90)"/>
<polygon points="1978.0,368.1 1989.1,368.2 1990.4,364.2 1983.1,357.2 1976.0,358.2 1973.3,361.9" fill="rgb(212,170,90)"/>
<polygon points="1545.0,78.4 1549.1,75.8 1553.4,80.8 1553.5,82.5 1550.0,84.2 1545.5,80.9" fill="rgb(212,170,90)"/>
<polygon points="1434.4,475.2 1436.3,468.6 1437.7,468.2 1442.4,469.9 1444.7,474.0 1437.1,478.7" fill="rgb(212,170,90)"/>
<polygon points="1704.6,650.9 1704.6,650.8 1707.3,642.8 1710.7,642.8 1715.9,647.7 1714.2,652.4 1713.3,653.0" fill="rgb(212,170,90)"/>
<polygon points="1759.4,207.9 1756.4,207.5 1751.5,211.9 1752.7,214.3 1759.2,215.1" fill="rgb(212,170,90)"/>
<polygon points="1359.9,154.4 1363.2,156.0 1366.7,154.3 1367.2,152.9 1366.4,150.6 1365.0,149.6 1360.1,150.7 1359.4,153.4" fill="rgb(212,170,90)"/>
<polygon points="1890.4,203.7 1888.4,199.6 1883.1,202.1 1882.9,202.7 1885.3,207.0 1888.8,207.7" fill="rgb(212,170,90)"/>
<polygon points="1370.0,240.5 1373.8,245.7 1380.7,241.4 1380.9,236.7 1378.5,234.1 1376.2,233.7" fill="rgb(212,170,90)"/>
<polygon points="1335.5,514.4 1339.6,515.6 1342.8,511.0 1341.5,509.7 1338.4,509.5 1335.4,512.0" fill="rgb(212,170,90)"/>
<polygon points="1856.1,712.8 1852.6,716.7 1847.1,717.4 1844.2,707.9 1845.2,705.2 1850.1,704.6" fill="rgb(212,170,90)"/>
<polygon points="1851.9,526.8 1846.0,530.9 1844.3,530.1 1841.3,522.1 1845.6,516.0 1849.0,515.8 1852.9,519.6" fill="rgb(212,170,90)"/>
<polygon points="1819.7,791.4 1826.8,788.9 1832.1,794.0 1827.8,804.1 1825.1,805.5 1822.1,803.1" fill="rgb(212,170,90)"/>
<polygon points="1531.4,253.7 1524.9,250.2 1518.1,258.3 1520.5,263.2 1526.5,263.6 1530.0,260.8" fill="rgb(212,170,90)"/>
<polygon points="1815.8,471.6 1813.9,478.1 1809.3,479.5 1803.7,474.0 1811.4,467.7" fill="rgb(212,170,90)"/>
<polygon points="1372.4,451.6 1372.6,451.0 1368.9,444.7 1362.8,445.7 1361.6,451.2 1365.5,454.7" fill="rgb(212,170,90)"/>
<polygon points="1647.9,777.7 1643.5,775.2 1642.3,768.7 1652.7,765.9 1654.6,769.1 1652.3,775.5" fill="rgb(212,170,90)"/>
<polygon points="1875.2,443.7 1885.6,442.6 1888.4,450.6 1884.2,455.5 1876.6,454.5 1874.0,451.7" fill="rgb(212,170,90)"/>
<polygon points="1506.6,690.4 1514.1,689.2 1515.7,685.7 1511.0,679.9 1504.6,684.6" fill="rgb(212,170,90)"/>
<polygon points="1512.1,81.4 1505.6,82.7 1507.8,91.5 1508.8,91.8 1514.7,85.6 1514.2,82.5" fill="rgb(212,170,90)"/>
<polygon points="1974.5,139.4 1978.8,148.4 1979.6,148.6 1986.0,146.5 1988.2,138.0 1986.9,134.7 1981.7,131.1 1979.2,132.2" fill="rgb(212,170,90)"/>
<polygon points="1951.9,630.3 1957.8,627.6 1956.6,620.8 1955.6,619.9 1949.1,622.1 1948.0,626.8" fill="rgb(212,170,90)"/>
<polygon points="1416.5,94.2 1417.6,92.2 1423.6,89.7 1428.4,93.2 1428.6,96.6 1422.5,101.7 1419.7,101.0" fill="rgb(212,170,90)"/>
<polygon points="1480.3,278.7 1486.3,278.6 1488.4,275.1 1486.6,271.5 1486.3,271.4 1477.8,272.9 1477.6,276.0" fill="rgb(212,170,90)"/>
<polygon points="1594.1,412.6 1596.5,421.1 1604.0,419.4 1607.5,414.4 1600.2,407.9" fill="rgb(212,170,90)"/>
<polygon points="1663.0,545.4 1665.5,541.5 1661.7,537.2 1659.8,537.0 1656.3,542.6 1657.0,545.1" fill="rgb(212,170,90)"/>
<polygon points="1487.1,338.0 1491.2,342.3 1492.9,342.2 1496.6,336.7 1493.9,334.6" fill="rgb(212,170,90)"/>
<polygon points="1314.5,369.8 1322.3,366.4 1323.1,364.3 1320.2,358.2 1315.2,356.5 1315.1,356.5 1310.5,364.9" fill="rgb(212,170,90)"/>
<polygon points="1392.2,431.8 1390.2,424.0 1385.0,421.5 1381.7,428.4 1385.5,434.9" fill="rgb(212,170,90)"/>
<polygon points="1294.8,767.0 1291.3,765.9 1286.6,770.5 1287.5,774.0 1291.2,776.0 1294.7,773.5" fill="rgb(212,170,90)"/>
<polygon points="1683.0,391.8 1689.2,390.7 1692.0,380.3 1689.2,378.1 1680.4,378.0 1678.7,380.9 1680.4,390.0" fill="rgb(212,170,90)"/>
<polygon points="1736.0,753.0 1730.2,751.1 1731.4,746.6 1732.2,746.0 1737.0,748.0 1737.5,749.6" fill="rgb(212,170,90)"/>
<polygon points="1569.6,687.4 1577.2,691.4 1578.1,694.1 1577.2,695.9 1570.3,698.4 1567.5,690.7" fill="rgb(212,170,90)"/>
<polygon points="1651.2,196.9 1655.2,207.0 1654.2,208.3 1644.3,208.2 1641.6,205.2 1643.8,197.8 1649.0,195.8" fill="rgb(212,170,90)"/>
<polygon points="1333.9,551.4 1332.5,545.1 1325.9,543.1 1323.7,545.4 1324.4,550.7 1332.8,553.3" fill="rgb(212,170,90)"/>
<polygon points="1597.3,73.0 1592.4,81.3 1592.6,83.7 1597.0,86.0 1602.5,84.0 1603.8,78.4 1600.7,73.6" fill="rgb(212,170,90)"/>
<polygon points="2008.1,342.2 2008.1,334.5 2005.4,331.9 2003.2,331.7 1999.7,338.7 2005.3,344.2" fill="rgb(212,170,90)"/>
<polygon points="1715.4,506.5 1711.4,501.8 1707.7,504.0 1707.7,505.1 1710.7,509.0 1715.2,508.6" fill="rgb(212,170,90)"/>
<polygon points="1915.8,793.9 1916.3,800.6 1918.0,801.8 1924.5,798.7 1923.2,793.4 1920.4,792.0" fill="rgb(212,170,90)"/>
<polygon points="1516.7,630.1 1517.2,635.8 1511.2,640.0 1505.6,633.2 1505.6,632.0 1513.2,627.7" fill="rgb(212,170,90)"/>
<polygon points="1853.1,227.2 1854.9,229.2 1857.1,229.2 1860.5,225.6 1857.9,220.9 1853.8,223.3" fill="rgb(212,170,90)"/>
<polygon points="1429.9,366.7 1423.5,367.3 1423.3,369.7 1428.0,374.9 1431.4,371.8" fill="rgb(212,170,90)"/>
<polygon points="1645.5,88.2 1638.1,89.4 1635.1,87.6 1636.2,82.5 1643.7,80.2 1646.1,87.2" fill="rgb(212,170,90)"/>
<polygon points="1801.2,283.5 1797.6,277.5 1797.6,277.3 1804.0,274.9 1808.4,278.4 1806.4,282.4" fill="rgb(212,170,90)"/>
<polygon points="1941.3,163.4 1943.9,165.4 1947.1,164.1 1945.2,160.3 1942.9,160.4" fill="rgb(212,170,90)"/>
<polygon points="1587.1,302.6 1583.1,308.7 1584.2,313.7 1588.6,315.7 1596.5,311.8 1598.0,309.0 1594.7,304.0" fill="rgb(212,170,90)"/>
<polygon points="1435.1,714.4 1440.5,711.0 1442.5,711.8 1444.2,716.1 1441.4,720.1 1440.8,720.2 1435.2,718.0" fill="rgb(212,170,90)"/>
<polygon points="1369.2,495.0 1370.5,495.3 1372.4,494.7 1376.2,489.5 1373.6,483.5 1367.7,486.1 1367.3,493.1" fill="rgb(212,170,90)"/>
<polygon points="1305.4,608.9 1301.8,612.3 1294.2,611.1 1292.5,608.9 1297.4,601.3 1305.6,605.5" fill="rgb(212,170,90)"/>
<polygon points="1597.8,194.8 1601.5,198.8 1606.3,197.5 1607.9,192.1 1603.2,189.2 1598.9,191.3" fill="rgb(212,170,90)"/>
<polygon points="1775.5,73.1 1776.1,66.2 1777.4,65.1 1781.2,66.4 1782.6,70.7 1781.2,72.4" fill="rgb(212,170,90)"/>
<polygon points="1840.9,428.7 1831.7,439.7 1832.0,441.2 1837.3,446.0 1846.3,444.8 1847.7,434.8 1842.8,429.0" fill="rgb(212,170,90)"/>
<polygon points="1670.5,422.2 1668.8,430.9 1668.7,431.0 1663.7,429.8 1660.3,423.1 1668.4,420.7" fill="rgb(212,170,90)"/>
<polygon points="1980.0,234.5 1988.2,231.4 1990.7,221.9 1980.5,220.3 1974.7,225.3" fill="rgb(212,170,90)"/>
<polygon points="1940.4,130.0 1945.1,129.7 1949.2,123.3 1939.8,119.7 1936.3,125.3" fill="rgb(212,170,90)"/>
<polygon points="1944.8,552.5 1947.1,541.3 1946.9,540.7 1939.8,539.8 1932.3,545.6 1937.9,552.5" fill="rgb(212,170,90)"/>
<polygon points="1657.0,457.9 1656.5,463.4 1651.7,465.3 1649.5,460.0 1653.3,457.0" fill="rgb(212,170,90)"/>
<polygon points="1672.9,677.7 1663.4,674.8 1667.8,667.2 1674.7,669.3 1674.7,669.4" fill="rgb(212,170,90)"/>
<polygon points="1536.0,149.8 1537.1,145.5 1543.0,144.0 1547.0,148.3 1546.6,150.7 1542.3,154.0" fill="rgb(212,170,90)"/>
<polygon points="1913.2,109.7 1911.1,105.5 1915.2,101.0 1917.9,101.9 1919.0,105.7 1916.8,109.2" fill="rgb(212,170,90)"/>
<polygon points="1398.4,535.2 1398.3,530.7 1392.1,528.1 1390.7,528.5 1393.2,536.3 1395.0,537.0" fill="rgb(212,170,90)"/>
<polygon points="1394.3,698.6 1391.1,702.2 1392.4,710.0 1400.2,712.9 1403.5,710.1 1403.3,704.9 1397.4,698.9" fill="rgb(212,170,90)"/>
<polygon points="1460.6,351.0 1466.5,357.2 1463.1,363.4 1457.6,362.7 1455.6,355.4 1459.4,350.6" fill="rgb(212,170,90)"/>
<polygon points="1424.8,434.5 1419.9,432.4 1417.8,424.4 1426.6,420.6 1428.6,423.8 1426.6,433.9" fill="rgb(212,170,90)"/>
<polygon points="1915.8,619.8 1910.1,621.3 1906.9,613.9 1907.5,612.9 1912.1,611.3 1917.0,615.1" fill="rgb(212,170,90)"/>
<polygon points="1536.6,398.8 1536.3,398.8 1528.4,393.4 1529.7,386.1 1539.2,383.3 1541.1,385.7 1541.2,393.9" fill="rgb(212,170,90)"/>
<polygon points="1920.3,303.5 1924.7,308.7 1931.8,304.2 1931.2,302.7 1925.3,299.2 1920.6,302.0" fill="rgb(212,170,90)"/>
<polygon points="1445.9,669.9 1448.5,677.3 1450.6,678.1 1455.4,674.4 1454.3,670.7 1446.8,669.0" fill="rgb(212,170,90)"/>
<polygon points="1523.5,570.3 1520.5,560.2 1527.8,557.1 1533.7,560.9 1530.9,567.8 1523.7,570.6" fill="rgb(212,170,90)"/>
<polygon points="1323.0,145.0 1324.3,140.0 1321.9,136.5 1314.6,135.1 1311.6,138.0 1312.1,146.0" fill="rgb(212,170,90)"/>
<polygon points="1857.8,766.7 1854.9,761.2 1851.7,761.6 1850.8,762.4 1850.0,765.9 1852.7,768.5 1855.7,768.4 1857.8,766.7" fill="rgb(212,170,90)"/>
<polygon points="1384.0,329.1 1379.7,332.5 1382.1,337.2 1389.4,337.6 1389.2,331.8" fill="rgb(212,170,90)"/>
<polygon points="1733.9,567.4 1731.2,565.7 1731.1,563.3 1735.4,558.8 1738.4,563.0" fill="rgb(212,170,90)"/>
<polygon points="1909.7,385.1 1906.5,388.4 1909.4,397.3 1920.3,395.0 1917.2,385.8" fill="rgb(212,170,90)"/>
<polygon points="1579.2,228.5 1579.5,228.3 1580.9,224.1 1577.8,220.8 1575.5,221.4 1572.7,227.2" fill="rgb(212,170,90)"/>
<polygon points="1540.0,700.4 1542.8,708.2 1541.1,711.3 1535.9,710.2 1533.2,704.7 1534.6,701.7" fill="rgb(212,170,90)"/>
<polygon points="1728.7,403.0 1725.4,403.8 1721.6,400.1 1723.4,393.2 1727.1,393.1 1729.9,394.7 1731.0,400.0" fill="rgb(212,170,90)"/>
<polygon points="1299.3,245.3 1296.2,249.2 1297.6,253.7 1304.0,253.7 1306.4,248.6" fill="rgb(212,170,90)"/>
<polygon points="1434.9,540.1 1439.7,532.5 1432.2,527.0 1428.4,531.1 1428.5,537.6" fill="rgb(212,170,90)"/>
<polygon points="1437.0,274.0 1437.2,269.5 1435.2,266.3 1425.1,269.4 1424.9,275.2 1429.5,278.6" fill="rgb(212,170,90)"/>
<polygon points="1792.2,574.3 1794.7,573.8 1798.0,566.2 1792.6,562.4 1787.7,567.9" fill="rgb(212,170,90)"/>
<polygon points="1326.7,441.6 1328.5,445.2 1332.2,444.2 1332.9,440.8 1330.8,438.1 1329.2,438.2" fill="rgb(212,170,90)"/>
<polygon points="1633.6,164.3 1627.9,166.5 1620.7,162.2 1620.6,153.8 1628.5,151.3 1633.9,153.5" fill="rgb(212,170,90)"/>
<polygon points="1954.5,705.1 1961.2,700.4 1964.3,700.8 1966.3,705.8 1965.1,707.6 1958.0,709.9 1954.5,706.0" fill="rgb(212,170,90)"/>
<polygon points="1784.0,212.8 1788.4,213.9 1788.5,219.6 1783.1,219.7 1782.9,219.6 1783.2,213.4" fill="rgb(212,170,90)"/>
<polygon points="1878.9,80.6 1876.5,74.0 1878.2,71.7 1884.0,70.4 1885.9,71.3 1888.1,75.7 1883.0,81.2" fill="rgb(212,170,90)"/>
<polygon points="1326.6,709.2 1332.9,708.5 1334.9,704.0 1331.1,698.8 1325.1,699.3 1324.2,706.9" fill="rgb(212,170,90)"/>
<polygon points="1623.7,562.3 1618.7,563.5 1618.0,562.8 1618.2,555.8 1619.2,555.6 1624.4,558.1 1624.9,560.0" fill="rgb(212,170,90)"/>
<polygon points="1293.1,185.9 1288.3,187.5 1288.0,196.8 1293.6,200.4 1299.8,193.9" fill="rgb(212,170,90)"/>
<polygon points="1570.2,418.0 1562.9,416.1 1558.7,420.5 1563.8,427.0 1572.4,426.5 1572.6,426.2" fill="rgb(212,170,90)"/>
<polygon points="1734.9,113.5 1738.8,114.0 1744.3,108.5 1744.4,104.8 1737.1,103.0 1733.3,110.9" fill="rgb(212,170,90)"/>
<polygon points="1730.4,532.9 1730.4,534.8 1721.9,543.6 1715.7,536.9 1719.7,530.7 1728.3,530.0" fill="rgb(212,170,90)"/>
<polygon points="1749.0,716.0 1746.0,720.9 1740.1,718.4 1740.6,715.6 1745.7,712.8" fill="rgb(212,170,90)"/>
<polygon points="1749.3,79.6 1749.4,79.5 1750.3,68.2 1739.7,66.3 1738.2,75.0 1739.5,77.2" fill="rgb(212,170,90)"/>
<polygon points="1299.7,280.2 1305.6,280.2 1307.6,286.3 1306.9,286.8 1299.0,287.2 1296.9,284.4" fill="rgb(212,170,90)"/>
<polygon points="1777.7,654.9 1781.9,646.6 1775.8,642.9 1768.8,645.9 1768.8,645.9 1773.5,654.4" fill="rgb(212,170,90)"/>
<polygon points="1608.8,114.5 1612.5,116.8 1614.0,126.8 1606.4,129.2 1602.7,126.4 1602.3,116.9" fill="rgb(212,170,90)"/>
<polygon points="1908.9,531.1 1907.0,520.3 1907.9,518.8 1914.0,519.6 1916.6,526.6 1910.3,531.4" fill="rgb(212,170,90)"/>
<polygon points="1778.4,771.9 1774.1,765.4 1765.4,764.5 1762.2,771.7 1762.8,774.1 1769.9,777.1" fill="rgb(212,170,90)"/>
<polygon points="2008.0,549.7 2011.6,553.2 2011.6,553.8 2006.8,557.8 2004.4,555.9 2004.3,553.2" fill="rgb(212,170,90)"/>
<polygon points="1425.3,644.2 1416.2,638.5 1418.2,634.2 1427.4,631.7 1430.0,633.4 1428.4,642.7 1427.2,643.8" fill="rgb(212,170,90)"/>
<polygon points="1740.1,155.3 1736.2,150.2 1731.7,149.7 1728.2,155.9 1733.3,161.5 1737.8,160.8" fill="rgb(212,170,90)"/>
<polygon points="1337.3,81.9 1327.8,80.8 1328.3,75.7 1335.0,73.0 1339.5,78.5 1339.5,80.5" fill="rgb(212,170,90)"/>
<polygon points="1796.6,244.0 1797.5,244.8 1796.9,253.6 1787.2,257.2 1784.7,253.5 1785.8,244.3" fill="rgb(212,170,90)"/>
<polygon points="1403.6,209.4 1406.6,212.6 1415.2,211.1 1416.3,208.6 1413.5,201.8 1407.9,201.4" fill="rgb(212,170,90)"/>
<polygon points="1994.6,690.0 1997.3,696.7 2006.8,698.1 2009.5,686.1 1997.8,685.4" fill="rgb(212,170,90)"/>
<polygon points="1524.6,789.6 1519.2,787.9 1516.4,781.2 1520.8,778.5 1523.6,779.3 1526.5,785.4" fill="rgb(212,170,90)"/>
<polygon points="1840.8,635.2 1840.5,631.9 1833.2,630.1 1829.7,635.5 1833.9,638.2 1840.3,635.9" fill="rgb(212,170,90)"/>
<polygon points="1815.3,417.1 1812.2,414.3 1803.3,415.3 1802.1,417.0 1802.4,419.7 1808.9,424.8" fill="rgb(212,170,90)"/>
<polygon points="1492.7,757.7 1496.5,758.4 1500.8,755.7 1500.2,750.0 1495.5,747.8 1491.9,754.0" fill="rgb(212,170,90)"/>
<polygon points="1644.8,655.4 1643.9,653.2 1640.9,652.2 1636.4,655.9 1640.3,661.5 1641.6,661.0" fill="rgb(212,170,90)"/>
<polygon points="1578.4,157.0 1578.0,160.1 1584.3,166.5 1590.0,163.7 1589.9,156.3 1586.4,153.7" fill="rgb(212,170,90)"/>
<polygon points="1871.4,410.2 1878.6,402.1 1883.6,402.5 1886.5,411.4 1885.5,413.7 1875.3,414.8" fill="rgb(212,170,90)"/>
<polygon points="1373.2,684.2 1369.6,677.5 1361.4,677.8 1358.2,683.4 1362.4,689.0 1370.0,688.0" fill="rgb(212,170,90)"/>
<polygon points="1461.3,550.6 1467.3,553.8 1476.1,545.9 1473.8,540.7 1469.9,539.0 1465.8,540.3 1460.4,549.1" fill="rgb(212,170,90)"/>
<polygon points="1457.6,756.8 1458.7,752.3 1459.1,752.2 1463.4,755.2 1464.0,757.6 1463.4,758.1 1459.0,758.5" fill="rgb(212,170,90)"/>
<polygon points="1584.3,586.5 1589.8,587.0 1590.9,588.0 1590.6,594.1 1581.2,596.6 1580.6,596.2 1580.1,591.4" fill="rgb(212,170,90)"/>
<polygon points="1587.2,627.1 1593.4,628.3 1594.8,619.4 1594.1,618.5 1585.1,620.9" fill="rgb(212,170,90)"/>
<polygon points="1608.6,682.2 1615.4,681.8 1616.3,680.1 1612.7,675.0 1610.8,674.5 1607.9,680.1" fill="rgb(212,170,90)"/>
<polygon points="1339.2,482.4 1334.2,476.3 1335.6,473.8 1340.9,472.4 1344.4,475.5 1344.0,482.8" fill="rgb(212,170,90)"/>
<polygon points="1669.4,76.9 1666.9,69.8 1668.1,67.0 1675.8,67.3 1677.4,72.9 1675.8,75.6" fill="rgb(212,170,90)"/>
<polygon points="1471.4,310.4 1479.6,310.2 1481.0,316.2 1471.1,321.3 1469.8,321.0 1469.5,320.3" fill="rgb(212,170,90)"/>
<polygon points="1821.8,575.2 1825.1,567.7 1830.7,566.3 1832.0,566.9 1833.6,572.1 1826.4,577.6" fill="rgb(212,170,90)"/>
<polygon points="1947.5,376.0 1949.4,375.6 1953.6,381.2 1951.5,390.2 1946.7,391.3 1945.5,390.7 1942.3,381.1" fill="rgb(212,170,90)"/>
<polygon points="1973.6,64.1 1979.2,69.6 1983.1,66.2 1983.6,62.3 1976.9,59.5 1974.7,60.7" fill="rgb(212,170,90)"/>
<polygon points="1711.6,357.4 1714.5,359.8 1720.4,359.5 1724.4,345.6 1719.9,344.5 1712.6,348.9" fill="rgb(212,170,90)"/>
<polygon points="1283.8,352.4 1287.1,352.0 1290.7,345.6 1284.3,342.6 1282.9,343.2 1280.8,347.4" fill="rgb(212,170,90)"/>
<polygon points="1795.2,617.2 1799.8,620.1 1800.2,620.0 1803.6,614.9 1802.4,611.5 1798.4,609.4 1796.3,609.8 1795.5,610.9" fill="rgb(212,170,90)"/>
<polygon points="1580.0,390.5 1574.6,389.1 1574.6,383.5 1583.1,382.3 1584.3,383.2 1584.4,387.1" fill="rgb(212,170,90)"/>
<polygon points="1529.4,444.8 1535.7,437.5 1536.0,437.5 1541.6,444.6 1539.5,452.7 1536.0,454.4 1535.1,454.2" fill="rgb(212,170,90)"/>
<polygon points="1979.2,472.0 1990.9,464.7 1983.0,457.9 1976.3,462.1" fill="rgb(212,170,90)"/>
<polygon points="1838.3,191.1 1842.7,194.1 1846.7,191.7 1846.9,191.0 1844.2,187.4 1839.3,188.3" fill="rgb(212,170,90)"/>
<polygon points="1554.8,568.4 1557.6,567.6 1561.4,572.7 1557.6,577.1 1552.7,573.6" fill="rgb(212,170,90)"/>
<polygon points="1330.0,324.1 1325.2,322.5 1328.3,310.5 1329.2,309.9 1332.3,310.2 1335.9,319.5" fill="rgb(212,170,90)"/>
<polygon points="1989.8,527.6 1983.7,533.3 1975.5,529.5 1975.3,529.0 1979.1,520.8 1989.5,525.1" fill="rgb(212,170,90)"/>
<polygon points="1387.7,109.3 1393.0,107.8 1395.2,112.5 1390.1,116.5 1388.5,115.3" fill="rgb(212,170,90)"/>
<polygon points="1692.5,571.2 1690.6,566.9 1692.9,563.3 1695.2,563.1 1699.2,567.5 1699.3,570.6 1695.9,572.1" fill="rgb(212,170,90)"/>
<polygon points="1506.4,711.7 1511.6,710.8 1513.8,715.2 1510.1,717.8 1506.0,716.0 1505.2,714.0" fill="rgb(212,170,90)"/>
<polygon points="1370.8,79.0 1370.8,76.4 1377.9,69.0 1380.2,68.9 1386.2,77.4 1384.9,79.8 1376.0,82.5" fill="rgb(212,170,90)"/>
<polygon points="1684.0,786.0 1688.2,785.1 1688.0,779.6 1682.4,778.9 1680.8,783.1" fill="rgb(212,170,90)"/>
<polygon points="1427.0,335.1 1424.8,337.0 1424.9,340.4 1425.1,340.7 1429.6,340.3 1431.5,337.9 1431.4,337.5" fill="rgb(212,170,90)"/>
<polygon points="1927.2,729.7 1931.4,734.3 1931.1,738.3 1925.6,740.8 1921.1,737.7 1920.6,734.9" fill="rgb(212,170,90)"/>
<polygon points="1421.0,785.7 1417.5,782.3 1417.8,776.9 1425.7,776.5 1428.1,779.3 1425.4,786.0" fill="rgb(212,170,90)"/>
<polygon points="1363.5,645.6 1361.9,650.2 1355.8,650.4 1353.6,646.8 1355.9,641.9 1358.3,641.2" fill="rgb(212,170,90)"/>
<polygon points="1424.7,674.3 1418.7,680.5 1423.0,684.8 1428.6,681.3 1426.1,674.1" fill="rgb(212,170,90)"/>
<polygon points="1699.0,134.2 1696.4,138.8 1694.1,139.6 1688.4,134.8 1688.6,134.1 1695.5,131.2 1697.6,132.1" fill="rgb(212,170,90)"/>
<polygon points="1406.8,466.3 1402.6,466.4 1400.4,461.4 1400.6,461.0 1405.2,458.9 1408.6,460.3" fill="rgb(212,170,90)"/>
<polygon points="1628.2,476.2 1632.0,485.5 1630.1,488.9 1629.9,488.9 1619.1,485.5 1618.7,479.8 1625.4,475.4" fill="rgb(212,170,90)"/>
<polygon points="1293.1,323.6 1294.5,314.0 1306.3,313.4 1302.6,327.9 1302.6,328.0" fill="rgb(212,170,90)"/>
<polygon points="1727.0,444.9 1730.4,437.5 1735.5,436.3 1741.0,443.9 1738.1,449.8 1729.2,450.0" fill="rgb(212,170,90)"/>
<polygon points="1898.0,766.6 1904.5,758.9 1909.1,762.0 1908.9,767.8 1903.8,769.9 1898.0,766.7" fill="rgb(212,170,90)"/>
<polygon points="1499.7,424.2 1502.8,420.6 1498.9,417.9 1495.1,418.8 1494.2,421.4 1494.3,421.8 1497.6,424.4" fill="rgb(212,170,90)"/>
<polygon points="1558.7,284.7 1559.3,286.0 1556.2,290.7 1550.9,289.1 1548.7,283.8 1551.7,281.4" fill="rgb(212,170,90)"/>
<polygon points="1885.7,536.1 1884.5,529.5 1880.0,530.9 1879.4,534.7 1884.9,536.4" fill="rgb(212,170,90)"/>
<polygon points="1320.8,579.5 1315.9,577.0 1315.8,576.3 1318.9,573.5 1323.8,575.1 1323.8,576.7" fill="rgb(212,170,90)"/>
<polygon points="1825.3,731.1 1821.3,717.8 1809.0,723.6 1811.0,728.8 1823.2,733.1" fill="rgb(212,170,90)"/>
<polygon points="1847.0,123.7 1839.6,122.7 1837.0,124.8 1838.8,131.7 1846.5,133.3 1847.4,132.5" fill="rgb(212,170,90)"/>
<polygon points="1761.2,238.8 1760.2,247.7 1750.0,247.4 1747.7,244.2 1750.2,237.2 1761.0,238.5" fill="rgb(212,170,90)"/>
<polygon points="1929.5,646.0 1928.6,649.1 1924.4,650.4 1920.8,645.7 1921.4,644.2 1926.1,643.0" fill="rgb(212,170,90)"/>
<polygon points="1940.9,595.4 1937.2,592.5 1939.4,588.0 1943.7,588.0 1945.2,589.4 1946.0,593.7" fill="rgb(212,170,90)"/>
<polygon points="1921.5,177.9 1926.6,181.6 1925.3,187.4 1918.1,187.2 1915.0,180.6 1915.6,179.0" fill="rgb(212,170,90)"/>
<polygon points="1875.2,688.8 1878.2,692.1 1873.7,701.3 1871.5,701.7 1864.3,691.9 1867.0,689.0" fill="rgb(212,170,90)"/>
<polygon points="1606.7,777.4 1610.9,772.0 1613.5,774.1 1614.4,778.5 1610.7,780.4" fill="rgb(212,170,90)"/>
<polygon points="1608.1,719.2 1605.4,712.9 1606.1,711.6 1612.7,711.3 1613.5,715.2 1608.5,719.5" fill="rgb(212,170,90)"/>
<polygon points="1810.9,313.6 1814.9,312.8 1817.8,318.1 1817.6,318.6 1816.6,319.2 1811.6,318.4 1810.2,315.3" fill="rgb(212,170,90)"/>
<polygon points="1288.3,388.8 1290.6,388.6 1292.6,391.1 1292.4,392.8 1288.9,394.9 1288.2,394.7 1287.2,390.4" fill="rgb(212,170,90)"/>
<polygon points="1352.0,756.2 1355.5,752.5 1357.5,752.9 1359.8,757.4 1356.6,761.0 1353.6,760.3" fill="rgb(212,170,90)"/>
<polygon points="1765.9,545.1 1769.7,540.7 1769.2,537.1 1768.9,537.0 1760.7,538.8 1760.7,539.9 1764.2,544.8" fill="rgb(212,170,90)"/>
<polygon points="1390.6,362.0 1390.9,362.5 1390.6,365.3 1385.7,370.0 1381.5,365.0 1383.7,361.6" fill="rgb(212,170,90)"/>
<polygon points="1460.6,504.9 1459.6,496.8 1459.4,496.7 1452.7,500.8 1452.6,501.7 1458.1,505.7" fill="rgb(212,170,90)"/>
<polygon points="1657.1,310.9 1663.9,320.3 1670.7,313.8 1670.8,313.1 1663.2,305.3 1663.1,305.3" fill="rgb(212,170,90)"/>
<polygon points="1811.9,100.6 1809.1,100.4 1806.9,95.6 1808.2,93.9 1812.9,93.6 1813.6,99.1" fill="rgb(212,170,90)"/>
<polygon points="1614.8,630.8 1613.9,636.6 1614.5,637.1 1616.0,637.5 1619.5,634.6 1618.3,631.8" fill="rgb(212,170,90)"/>
<polygon points="1869.6,652.8 1879.0,656.3 1877.6,664.3 1869.4,664.5 1868.9,653.9" fill="rgb(212,170,90)"/>
<polygon points="1571.8,457.5 1571.5,451.4 1563.2,451.9 1561.3,459.1 1566.8,461.0" fill="rgb(212,170,90)"/>
<polygon points="1488.4,654.6 1482.5,662.6 1484.2,668.1 1488.1,669.8 1495.6,664.3 1495.7,663.5" fill="rgb(212,170,90)"/>
<polygon points="1861.5,267.1 1857.8,265.1 1860.0,259.9 1862.1,259.9 1865.7,264.1 1865.7,264.2" fill="rgb(212,170,90)"/>
<polygon points="1763.3,272.5 1763.3,272.7 1755.8,279.4 1750.9,275.6 1752.3,269.0 1761.2,269.3" fill="rgb(212,170,90)"/>
<polygon points="1692.9,522.5 1688.5,516.7 1682.7,522.6 1687.0,527.6 1689.7,527.4" fill="rgb(212,170,90)"/>
<polygon points="1986.9,793.4 1996.2,797.8 1990.0,804.0 1986.0,799.8" fill="rgb(212,170,90)"/>
<polygon points="1468.3,724.4 1464.2,730.2 1472.9,736.2 1477.7,727.9 1476.5,724.9" fill="rgb(212,170,90)"/>
<polygon points="1557.1,484.3 1556.3,480.9 1552.9,479.7 1550.9,480.7 1552.5,487.0 1554.1,487.2" fill="rgb(212,170,90)"/>
<polygon points="1800.5,448.0 1796.0,444.5 1793.4,448.2 1795.8,452.4 1796.1,452.4 1800.6,448.7" fill="rgb(212,170,90)"/>
<polygon points="1417.6,606.1 1415.3,600.4 1407.0,597.7 1404.5,600.7 1408.4,608.6" fill="rgb(212,170,90)"/>
<polygon points="1320.4,213.5 1322.9,216.2 1321.4,227.8 1320.8,228.0 1310.5,223.3 1309.8,220.4 1316.7,213.1" fill="rgb(212,170,90)"/>
</g></g>
<text x="436.5" y="170.7" font-size="53.6" text-anchor="start" fill="#fff" letter-spacing="0.35">SFDBAO/PS</text>
<text x="1525.5" y="172.2" font-size="53.6" text-anchor="start" fill="#fff" letter-spacing="0.45">Pentacene</text>
<text x="750" y="684.2" font-size="53.6" text-anchor="start" fill="#fff" letter-spacing="1.3">2 um</text>
<text x="1809.6" y="682.7" font-size="53.6" text-anchor="start" fill="#fff">1 um</text>
<rect x="747" y="709" width="132" height="10.5" fill="#fff"/>
<rect x="1804.4" y="703" width="129.6" height="11" fill="#fff"/>
<g clip-path="url(#cpc)" fill="none" stroke-linejoin="miter" stroke-miterlimit="10">
<polyline points="230.5,952.5 234.3,952.5 238.1,952.5 241.8,952.5 245.6,952.5 249.4,952.5 253.2,952.5 257.0,952.5 260.8,952.5 264.5,952.5 268.3,952.5 272.1,952.5 275.9,952.5 279.7,952.5 283.5,952.5 287.2,952.5 291.0,952.5 294.8,952.5 298.6,952.5 302.4,952.5 306.1,952.5 309.9,952.5 313.7,952.5 317.5,952.5 321.3,952.5 325.1,952.5 328.8,952.5 332.6,952.5 336.4,952.5 340.2,952.5 344.0,952.5 347.8,952.5 351.5,952.5 355.3,952.5 359.1,952.5 362.9,952.5 366.7,952.5 370.5,952.5 374.2,952.5 378.0,952.5 381.8,952.5 385.6,952.5 389.4,952.5 393.1,952.5 396.9,952.5 400.7,952.5 404.5,952.5 408.3,952.5 412.1,952.5 415.8,952.5 419.6,952.5 423.4,952.5 427.2,952.5 431.0,952.5 434.8,952.5 438.5,952.5 442.3,952.5 446.1,952.5 449.9,952.5 453.7,952.5 457.4,952.5 461.2,952.5 465.0,952.5 468.8,952.5 472.6,952.5 476.4,952.5 480.1,952.5 483.9,952.5 487.7,952.5 491.5,952.5 495.3,952.5 499.1,952.5 502.8,952.5 506.6,952.5 510.4,952.5 514.2,952.5 518.0,952.5 521.8,952.5 525.5,952.5 529.3,952.5 533.1,952.5 536.9,952.5 540.7,952.5 544.4,952.5 548.2,952.5 552.0,952.5 555.8,952.5 559.6,952.5 563.4,952.5 567.1,952.5 570.9,952.5 574.7,952.5 578.5,952.5 582.3,952.5 586.1,952.5 589.8,952.5 593.6,952.5 597.4,952.5 601.2,952.5 605.0,952.5 608.8,952.5 612.5,952.5 616.3,952.5 620.1,952.5 623.9,952.5 627.7,952.5 631.4,952.5 635.2,952.5 639.0,952.5 642.8,952.5 646.6,952.5 650.4,952.5 654.1,952.5 657.9,952.5 661.7,952.5 665.5,952.5 669.3,952.5 673.1,952.5 676.8,952.5 680.6,952.5 684.4,952.5 688.2,952.5 692.0,952.5 695.7,952.5 699.5,952.5 703.3,952.5 707.1,952.5 710.9,952.5 714.7,952.5 718.4,952.5 722.2,952.5 726.0,952.5 729.8,952.5 733.6,952.5 737.4,952.5 741.1,952.5 744.9,952.5 748.7,952.5 752.5,952.5 756.3,952.5 760.0,952.5 763.8,952.5 767.6,952.5 771.4,952.5 775.2,952.5 779.0,952.5 782.7,952.5 786.5,952.5 790.3,952.5 794.1,952.5 797.9,952.5 801.7,952.5 805.4,952.5 809.2,952.5 813.0,952.5 816.8,952.5 820.6,952.5 824.4,952.5 828.1,952.5 831.9,952.5 835.7,952.5 839.5,952.5 843.3,952.5 847.0,952.5 850.8,952.5 854.6,952.5 858.4,952.5 862.2,952.5 866.0,952.5 869.7,952.5 873.5,952.5 877.3,952.5 881.1,952.5 884.9,952.5 888.7,952.5 892.4,952.5 896.2,952.5 900.0,952.5 903.8,952.5 907.6,952.5 911.4,952.5 915.1,952.5 918.9,952.5 922.7,952.5 926.5,952.5 930.3,952.5 934.0,952.5 937.8,952.5 941.6,952.5 945.4,952.5 949.2,952.5 953.0,952.5 956.7,952.5 960.5,952.5 964.3,952.5 968.1,952.5 971.9,952.5 975.7,952.5 979.4,952.5 983.2,952.5 987.0,952.5" stroke="#000" stroke-width="1.3"/>
<path d="M222.25 944.26h16.50v16.50h-16.50zM229.81 944.26h16.50v16.50h-16.50zM252.51 944.26h16.50v16.50h-16.50zM275.20 944.26h16.50v16.50h-16.50zM297.90 944.26h16.50v16.50h-16.50zM320.60 944.26h16.50v16.50h-16.50zM343.29 944.26h16.50v16.50h-16.50zM365.99 944.26h16.50v16.50h-16.50zM388.68 944.26h16.50v16.50h-16.50zM411.38 944.26h16.50v16.50h-16.50zM434.07 944.26h16.50v16.50h-16.50zM456.76 944.26h16.50v16.50h-16.50zM479.46 944.26h16.50v16.50h-16.50zM502.15 944.26h16.50v16.50h-16.50zM524.85 944.26h16.50v16.50h-16.50zM547.55 944.26h16.50v16.50h-16.50zM570.24 944.26h16.50v16.50h-16.50zM592.93 944.26h16.50v16.50h-16.50zM615.63 944.26h16.50v16.50h-16.50zM638.33 944.26h16.50v16.50h-16.50zM661.02 944.26h16.50v16.50h-16.50zM683.71 944.26h16.50v16.50h-16.50zM706.41 944.26h16.50v16.50h-16.50zM729.11 944.26h16.50v16.50h-16.50zM751.80 944.26h16.50v16.50h-16.50zM774.50 944.26h16.50v16.50h-16.50zM797.19 944.26h16.50v16.50h-16.50zM819.88 944.26h16.50v16.50h-16.50zM842.58 944.26h16.50v16.50h-16.50zM865.27 944.26h16.50v16.50h-16.50zM887.97 944.26h16.50v16.50h-16.50zM910.66 944.26h16.50v16.50h-16.50zM933.36 944.26h16.50v16.50h-16.50zM956.05 944.26h16.50v16.50h-16.50zM978.75 944.26h16.50v16.50h-16.50z" stroke="#000" stroke-width="3.4"/>
<polyline points="230.5,956.5 234.3,956.5 238.1,956.5 241.8,956.5 245.6,956.5 249.4,956.5 253.2,956.5 257.0,956.5 260.8,956.5 264.5,956.5 268.3,956.5 272.1,956.5 275.9,956.5 279.7,956.5 283.5,956.5 287.2,956.5 291.0,956.5 294.8,956.5 298.6,956.5 302.4,956.5 306.1,956.5 309.9,956.5 313.7,956.5 317.5,956.5 321.3,956.5 325.1,956.5 328.8,956.5 332.6,956.5 336.4,956.5 340.2,956.5 344.0,956.5 347.8,956.5 351.5,956.5 355.3,956.5 359.1,956.5 362.9,956.5 366.7,956.5 370.5,956.5 374.2,956.5 378.0,956.5 381.8,956.5 385.6,956.5 389.4,956.5 393.1,956.5 396.9,956.5 400.7,956.5 404.5,956.5 408.3,956.5 412.1,956.5 415.8,956.5 419.6,956.5 423.4,956.5 427.2,956.5 431.0,956.5 434.8,956.5 438.5,956.5 442.3,956.5 446.1,956.5 449.9,956.5 453.7,956.5 457.4,956.5 461.2,956.5 465.0,956.5 468.8,956.5 472.6,956.5 476.4,956.5 480.1,956.5 483.9,956.5 487.7,956.5 491.5,956.5 495.3,956.5 499.1,956.5 502.8,956.5 506.6,956.5 510.4,956.5 514.2,956.5 518.0,956.5 521.8,956.5 525.5,956.5 529.3,956.5 533.1,956.5 536.9,956.5 540.7,956.5 544.4,956.5 548.2,956.5 552.0,956.5 555.8,956.5 559.6,956.5 563.4,956.5 567.1,956.5 570.9,956.5 574.7,956.5 578.5,956.5 582.3,956.5 586.1,956.5 589.8,956.5 593.6,956.5 597.4,956.5 601.2,956.5 605.0,956.5 608.8,956.5 612.5,956.5 616.3,956.5 620.1,956.5 623.9,956.5 627.7,956.5 631.4,956.5 635.2,956.5 639.0,956.5 642.8,956.5 646.6,956.5 650.4,956.5 654.1,956.5 657.9,956.5 661.7,956.5 665.5,956.5 669.3,956.5 673.1,956.5 676.8,956.5 680.6,956.5 684.4,956.5 688.2,956.5 692.0,956.5 695.7,956.5 699.5,956.5 703.3,956.5 707.1,956.5 710.9,956.5 714.7,956.5 718.4,956.5 722.2,956.5 726.0,956.5 729.8,956.5 733.6,956.5 737.4,956.5 741.1,956.5 744.9,956.5 748.7,956.5 752.5,956.5 756.3,956.5 760.0,956.5 763.8,956.5 767.6,956.5 771.4,956.5 775.2,956.5 779.0,956.5 782.7,956.5 786.5,956.5 790.3,956.5 794.1,956.5 797.9,956.5 801.7,956.5 805.4,956.5 809.2,956.5 813.0,956.5 816.8,956.5 820.6,956.5 824.4,956.5 828.1,956.5 831.9,956.5 835.7,956.5 839.5,956.5 843.3,956.5 847.0,956.5 850.8,956.5 854.6,956.5 858.4,956.5 862.2,956.5 866.0,956.5 869.7,956.5 873.5,956.5 877.3,956.5 881.1,956.5 884.9,956.5 888.7,956.5 892.4,956.5 896.2,956.5 900.0,956.5 903.8,956.5 907.6,956.5 911.4,956.5 915.1,956.5 918.9,956.5 922.7,956.5 926.5,956.5 930.3,956.5 934.0,956.5 937.8,956.5 941.6,956.5 945.4,956.4 949.2,956.3 953.0,956.2 956.7,956.0 960.5,955.7 964.3,955.5 968.1,955.1 971.9,954.5 975.7,953.7 979.4,952.7 983.2,951.7 987.0,950.5" stroke="#f00" stroke-width="1.3"/>
<path d="M222.40 956.45a8.10 10.40 0 1 0 16.20 0a8.10 10.40 0 1 0 -16.20 0zM229.97 956.45a8.10 10.40 0 1 0 16.20 0a8.10 10.40 0 1 0 -16.20 0zM252.66 956.45a8.10 10.40 0 1 0 16.20 0a8.10 10.40 0 1 0 -16.20 0zM275.35 956.45a8.10 10.40 0 1 0 16.20 0a8.10 10.40 0 1 0 -16.20 0zM298.05 956.45a8.10 10.40 0 1 0 16.20 0a8.10 10.40 0 1 0 -16.20 0zM320.75 956.45a8.10 10.40 0 1 0 16.20 0a8.10 10.40 0 1 0 -16.20 0zM343.44 956.45a8.10 10.40 0 1 0 16.20 0a8.10 10.40 0 1 0 -16.20 0zM366.13 956.45a8.10 10.40 0 1 0 16.20 0a8.10 10.40 0 1 0 -16.20 0zM388.83 956.45a8.10 10.40 0 1 0 16.20 0a8.10 10.40 0 1 0 -16.20 0zM411.52 956.45a8.10 10.40 0 1 0 16.20 0a8.10 10.40 0 1 0 -16.20 0zM434.22 956.45a8.10 10.40 0 1 0 16.20 0a8.10 10.40 0 1 0 -16.20 0zM456.91 956.45a8.10 10.40 0 1 0 16.20 0a8.10 10.40 0 1 0 -16.20 0zM479.61 956.45a8.10 10.40 0 1 0 16.20 0a8.10 10.40 0 1 0 -16.20 0zM502.30 956.45a8.10 10.40 0 1 0 16.20 0a8.10 10.40 0 1 0 -16.20 0zM525.00 956.45a8.10 10.40 0 1 0 16.20 0a8.10 10.40 0 1 0 -16.20 0zM547.70 956.45a8.10 10.40 0 1 0 16.20 0a8.10 10.40 0 1 0 -16.20 0zM570.39 956.45a8.10 10.40 0 1 0 16.20 0a8.10 10.40 0 1 0 -16.20 0zM593.08 956.45a8.10 10.40 0 1 0 16.20 0a8.10 10.40 0 1 0 -16.20 0zM615.78 956.45a8.10 10.40 0 1 0 16.20 0a8.10 10.40 0 1 0 -16.20 0zM638.48 956.45a8.10 10.40 0 1 0 16.20 0a8.10 10.40 0 1 0 -16.20 0zM661.17 956.45a8.10 10.40 0 1 0 16.20 0a8.10 10.40 0 1 0 -16.20 0zM683.86 956.45a8.10 10.40 0 1 0 16.20 0a8.10 10.40 0 1 0 -16.20 0zM706.56 956.45a8.10 10.40 0 1 0 16.20 0a8.10 10.40 0 1 0 -16.20 0zM729.25 956.45a8.10 10.40 0 1 0 16.20 0a8.10 10.40 0 1 0 -16.20 0zM751.95 956.45a8.10 10.40 0 1 0 16.20 0a8.10 10.40 0 1 0 -16.20 0zM774.64 956.45a8.10 10.40 0 1 0 16.20 0a8.10 10.40 0 1 0 -16.20 0zM797.34 956.45a8.10 10.40 0 1 0 16.20 0a8.10 10.40 0 1 0 -16.20 0zM820.03 956.45a8.10 10.40 0 1 0 16.20 0a8.10 10.40 0 1 0 -16.20 0zM842.73 956.45a8.10 10.40 0 1 0 16.20 0a8.10 10.40 0 1 0 -16.20 0zM865.42 956.45a8.10 10.40 0 1 0 16.20 0a8.10 10.40 0 1 0 -16.20 0zM888.12 956.45a8.10 10.40 0 1 0 16.20 0a8.10 10.40 0 1 0 -16.20 0zM910.81 956.45a8.10 10.40 0 1 0 16.20 0a8.10 10.40 0 1 0 -16.20 0zM933.51 956.45a8.10 10.40 0 1 0 16.20 0a8.10 10.40 0 1 0 -16.20 0zM956.20 955.47a8.10 10.40 0 1 0 16.20 0a8.10 10.40 0 1 0 -16.20 0zM978.90 950.53a8.10 10.40 0 1 0 16.20 0a8.10 10.40 0 1 0 -16.20 0z" stroke="#f00" stroke-width="3.2"/>
<polyline points="230.5,987.5 234.3,987.5 238.1,987.5 241.8,987.5 245.6,987.5 249.4,987.5 253.2,987.5 257.0,987.5 260.8,987.5 264.5,987.5 268.3,987.5 272.1,987.5 275.9,987.5 279.7,987.5 283.5,987.5 287.2,987.5 291.0,987.5 294.8,987.5 298.6,987.5 302.4,987.5 306.1,987.5 309.9,987.5 313.7,987.5 317.5,987.5 321.3,987.5 325.1,987.5 328.8,987.5 332.6,987.5 336.4,987.5 340.2,987.5 344.0,987.5 347.8,987.5 351.5,987.5 355.3,987.5 359.1,987.5 362.9,987.5 366.7,987.5 370.5,987.5 374.2,987.5 378.0,987.5 381.8,987.5 385.6,987.5 389.4,987.5 393.1,987.5 396.9,987.5 400.7,987.5 404.5,987.5 408.3,987.5 412.1,987.5 415.8,987.5 419.6,987.5 423.4,987.5 427.2,987.5 431.0,987.5 434.8,987.5 438.5,987.5 442.3,987.5 446.1,987.5 449.9,987.5 453.7,987.5 457.4,987.5 461.2,987.5 465.0,987.5 468.8,987.5 472.6,987.5 476.4,987.5 480.1,987.5 483.9,987.5 487.7,987.5 491.5,987.5 495.3,987.5 499.1,987.5 502.8,987.5 506.6,987.5 510.4,987.5 514.2,987.5 518.0,987.5 521.8,987.5 525.5,987.5 529.3,987.5 533.1,987.5 536.9,987.5 540.7,987.5 544.4,987.5 548.2,987.5 552.0,987.5 555.8,987.5 559.6,987.5 563.4,987.5 567.1,987.5 570.9,987.5 574.7,987.5 578.5,987.5 582.3,987.5 586.1,987.5 589.8,987.5 593.6,987.5 597.4,987.5 601.2,987.5 605.0,987.5 608.8,987.5 612.5,987.5 616.3,987.5 620.1,987.5 623.9,987.5 627.7,987.5 631.4,987.5 635.2,987.4 639.0,987.4 642.8,987.4 646.6,987.4 650.4,987.4 654.1,987.4 657.9,987.4 661.7,987.4 665.5,987.4 669.3,987.4 673.1,987.4 676.8,987.4 680.6,987.3 684.4,987.3 688.2,987.3 692.0,987.3 695.7,987.3 699.5,987.3 703.3,987.3 707.1,987.3 710.9,987.2 714.7,987.2 718.4,987.2 722.2,987.2 726.0,987.2 729.8,987.2 733.6,987.2 737.4,987.1 741.1,987.1 744.9,987.1 748.7,987.1 752.5,987.1 756.3,987.1 760.0,987.0 763.8,987.0 767.6,987.0 771.4,986.9 775.2,986.8 779.0,986.7 782.7,986.6 786.5,986.4 790.3,986.3 794.1,986.1 797.9,985.9 801.7,985.7 805.4,985.6 809.2,985.3 813.0,985.1 816.8,984.7 820.6,984.4 824.4,984.0 828.1,983.6 831.9,983.2 835.7,982.7 839.5,982.2 843.3,981.7 847.0,981.2 850.8,980.6 854.6,980.1 858.4,979.6 862.2,979.0 866.0,978.4 869.7,977.8 873.5,977.2 877.3,976.5 881.1,975.7 884.9,974.8 888.7,974.0 892.4,973.1 896.2,972.2 900.0,971.4 903.8,970.5 907.6,969.6 911.4,968.6 915.1,967.7 918.9,966.8 922.7,965.9 926.5,965.0 930.3,964.1 934.0,963.2 937.8,962.3 941.6,961.4 945.4,960.5 949.2,959.6 953.0,958.6 956.7,957.7 960.5,956.6 964.3,955.5 968.1,954.2 971.9,952.7 975.7,951.1 979.4,949.4 983.2,947.5 987.0,945.6" stroke="#00f" stroke-width="1.3"/>
<path d="M219.2 994.2h22.6M226.8 994.2h22.6M249.5 994.2h22.6M272.2 994.2h22.6M294.8 994.2h22.6M317.5 994.2h22.6M340.2 994.2h22.6M362.9 994.2h22.6M385.6 994.2h22.6M408.3 994.2h22.6M431.0 994.2h22.6M453.7 994.2h22.6M476.4 994.2h22.6M499.1 994.2h22.6M521.8 994.2h22.6M544.5 994.2h22.6M567.2 994.2h22.6M589.9 994.2h22.6M612.6 994.2h22.6M635.3 994.1h22.6M658.0 994.1h22.6M680.7 994.0h22.6M703.4 993.9h22.6M726.1 993.8h22.6M748.8 993.7h22.6M771.4 993.3h22.6M794.1 992.3h22.6M816.8 990.3h22.6M839.5 987.3h22.6M862.2 983.9h22.6M884.9 978.9h22.6M907.6 973.5h22.6M930.3 968.1h22.6" stroke="#00f" stroke-width="3"/>
<path d="M230.50 976.86L237.90 992.86L223.10 992.86zM238.06 976.86L245.47 992.86L230.66 992.86zM260.76 976.86L268.16 992.86L253.36 992.86zM283.45 976.86L290.85 992.86L276.06 992.86zM306.15 976.86L313.55 992.86L298.75 992.86zM328.85 976.86L336.25 992.86L321.45 992.86zM351.54 976.86L358.94 992.86L344.14 992.86zM374.24 976.86L381.63 992.86L366.84 992.86zM396.93 976.86L404.33 992.86L389.53 992.86zM419.62 976.86L427.02 992.86L412.23 992.86zM442.32 976.86L449.72 992.86L434.92 992.86zM465.01 976.86L472.41 992.86L457.62 992.86zM487.71 976.86L495.11 992.86L480.31 992.86zM510.40 976.86L517.80 992.86L503.00 992.86zM533.10 976.86L540.50 992.86L525.70 992.86zM555.80 976.86L563.20 992.86L548.40 992.86zM578.49 976.85L585.89 992.85L571.09 992.85zM601.18 976.83L608.58 992.83L593.78 992.83zM623.88 976.80L631.28 992.80L616.48 992.80zM646.58 976.76L653.98 992.76L639.18 992.76zM669.27 976.71L676.67 992.71L661.87 992.71zM691.96 976.65L699.36 992.65L684.56 992.65zM714.66 976.57L722.06 992.57L707.26 992.57zM737.36 976.48L744.75 992.48L729.96 992.48zM760.05 976.37L767.45 992.37L752.65 992.37zM782.75 975.89L790.14 991.89L775.35 991.89zM805.44 974.89L812.84 990.89L798.04 990.89zM828.13 972.92L835.53 988.92L820.74 988.92zM850.83 969.96L858.23 985.96L843.43 985.96zM873.52 966.51L880.92 982.51L866.12 982.51zM896.22 961.57L903.62 977.57L888.82 977.57zM918.91 956.15L926.31 972.15L911.51 972.15zM941.61 950.72L949.01 966.72L934.21 966.72zM964.30 944.80L971.70 960.80L956.90 960.80zM987.00 934.93L994.40 950.93L979.60 950.93z" stroke="#00f" stroke-width="2.7"/>
<polyline points="230.5,1079.3 234.3,1079.3 238.1,1079.2 241.8,1079.2 245.6,1079.2 249.4,1079.1 253.2,1079.1 257.0,1079.1 260.8,1079.1 264.5,1079.0 268.3,1079.0 272.1,1079.0 275.9,1079.0 279.7,1078.9 283.5,1078.9 287.2,1078.9 291.0,1078.9 294.8,1078.8 298.6,1078.8 302.4,1078.8 306.1,1078.8 309.9,1078.7 313.7,1078.7 317.5,1078.7 321.3,1078.7 325.1,1078.7 328.8,1078.6 332.6,1078.6 336.4,1078.6 340.2,1078.6 344.0,1078.6 347.8,1078.5 351.5,1078.5 355.3,1078.5 359.1,1078.5 362.9,1078.5 366.7,1078.5 370.5,1078.4 374.2,1078.4 378.0,1078.4 381.8,1078.4 385.6,1078.4 389.4,1078.4 393.1,1078.4 396.9,1078.4 400.7,1078.3 404.5,1078.3 408.3,1078.3 412.1,1078.3 415.8,1078.3 419.6,1078.3 423.4,1078.3 427.2,1078.3 431.0,1078.3 434.8,1078.3 438.5,1078.3 442.3,1078.3 446.1,1078.3 449.9,1078.3 453.7,1078.3 457.4,1078.3 461.2,1078.3 465.0,1078.3 468.8,1078.3 472.6,1078.3 476.4,1078.3 480.1,1078.3 483.9,1078.3 487.7,1078.3 491.5,1078.3 495.3,1078.3 499.1,1078.3 502.8,1078.3 506.6,1078.3 510.4,1078.3 514.2,1078.3 518.0,1078.3 521.8,1078.3 525.5,1078.3 529.3,1078.3 533.1,1078.3 536.9,1078.3 540.7,1078.3 544.4,1078.3 548.2,1078.3 552.0,1078.3 555.8,1078.3 559.6,1078.3 563.4,1078.3 567.1,1078.3 570.9,1078.3 574.7,1078.3 578.5,1078.3 582.3,1078.3 586.1,1078.3 589.8,1078.4 593.6,1078.4 597.4,1078.5 601.2,1078.5 605.0,1078.6 608.8,1078.7 612.5,1078.7 616.3,1078.8 620.1,1078.8 623.9,1078.8 627.7,1078.8 631.4,1078.7 635.2,1078.6 639.0,1078.5 642.8,1078.4 646.6,1078.3 650.4,1078.2 654.1,1078.0 657.9,1077.9 661.7,1077.7 665.5,1077.5 669.3,1077.3 673.1,1077.1 676.8,1076.8 680.6,1076.4 684.4,1076.0 688.2,1075.7 692.0,1075.3 695.7,1075.0 699.5,1074.7 703.3,1074.4 707.1,1074.1 710.9,1073.7 714.7,1073.4 718.4,1073.0 722.2,1072.5 726.0,1072.0 729.8,1071.5 733.6,1071.0 737.4,1070.4 741.1,1069.8 744.9,1069.2 748.7,1068.6 752.5,1067.9 756.3,1067.2 760.0,1066.5 763.8,1065.6 767.6,1064.7 771.4,1063.8 775.2,1062.8 779.0,1061.7 782.7,1060.5 786.5,1059.3 790.3,1058.0 794.1,1056.6 797.9,1055.2 801.7,1053.7 805.4,1052.2 809.2,1050.5 813.0,1048.8 816.8,1047.1 820.6,1045.3 824.4,1043.5 828.1,1041.8 831.9,1040.2 835.7,1038.6 839.5,1037.0 843.3,1035.4 847.0,1033.7 850.8,1031.9 854.6,1030.0 858.4,1028.0 862.2,1025.9 866.0,1023.7 869.7,1021.4 873.5,1019.1 877.3,1016.7 881.1,1014.3 884.9,1011.7 888.7,1009.1 892.4,1006.5 896.2,1003.8 900.0,1001.1 903.8,998.3 907.6,995.5 911.4,992.7 915.1,989.9 918.9,987.0 922.7,984.2 926.5,981.4 930.3,978.6 934.0,975.8 937.8,973.0 941.6,970.3 945.4,967.6 949.2,965.0 953.0,962.3 956.7,959.7 960.5,957.1 964.3,954.5 968.1,951.8 971.9,949.1 975.7,946.4 979.4,943.7 983.2,940.9 987.0,938.2" stroke="#f0f" stroke-width="1.3"/>
<path d="M219.2 1072.6h22.6M226.8 1072.5h22.6M249.5 1072.4h22.6M272.2 1072.2h22.6M294.8 1072.1h22.6M317.5 1071.9h22.6M340.2 1071.8h22.6M362.9 1071.7h22.6M385.6 1071.7h22.6M408.3 1071.6h22.6M431.0 1071.6h22.6M453.7 1071.6h22.6M476.4 1071.6h22.6M499.1 1071.6h22.6M521.8 1071.6h22.6M544.5 1071.6h22.6M567.2 1071.6h22.6M589.9 1071.8h22.6M612.6 1072.1h22.6M635.3 1071.6h22.6M658.0 1070.6h22.6M680.7 1068.6h22.6M703.4 1066.7h22.6M726.1 1063.7h22.6M748.8 1059.8h22.6M771.4 1053.8h22.6M794.1 1045.5h22.6M816.8 1035.1h22.6M839.5 1025.2h22.6M862.2 1012.4h22.6M884.9 997.1h22.6M907.6 980.3h22.6M930.3 963.6h22.6" stroke="#f0f" stroke-width="3"/>
<path d="M230.50 1089.95L237.90 1073.95L223.10 1073.95zM238.06 1089.90L245.47 1073.90L230.66 1073.90zM260.76 1089.73L268.16 1073.73L253.36 1073.73zM283.45 1089.57L290.85 1073.57L276.06 1073.57zM306.15 1089.43L313.55 1073.43L298.75 1073.43zM328.85 1089.30L336.25 1073.30L321.45 1073.30zM351.54 1089.19L358.94 1073.19L344.14 1073.19zM374.24 1089.09L381.63 1073.09L366.84 1073.09zM396.93 1089.02L404.33 1073.02L389.53 1073.02zM419.62 1088.98L427.02 1072.98L412.23 1072.98zM442.32 1088.96L449.72 1072.96L434.92 1072.96zM465.01 1088.96L472.41 1072.96L457.62 1072.96zM487.71 1088.96L495.11 1072.96L480.31 1072.96zM510.40 1088.96L517.80 1072.96L503.00 1072.96zM533.10 1088.96L540.50 1072.96L525.70 1072.96zM555.80 1088.96L563.20 1072.96L548.40 1072.96zM578.49 1088.96L585.89 1072.96L571.09 1072.96zM601.18 1089.21L608.58 1073.21L593.78 1073.21zM623.88 1089.46L631.28 1073.46L616.48 1073.46zM646.58 1088.96L653.98 1072.96L639.18 1072.96zM669.27 1087.98L676.67 1071.98L661.87 1071.98zM691.96 1086.01L699.36 1070.01L684.56 1070.01zM714.66 1084.03L722.06 1068.03L707.26 1068.03zM737.36 1081.07L744.75 1065.07L729.96 1065.07zM760.05 1077.13L767.45 1061.13L752.65 1061.13zM782.75 1071.21L790.14 1055.21L775.35 1055.21zM805.44 1062.82L812.84 1046.82L798.04 1046.82zM828.13 1052.46L835.53 1036.46L820.74 1036.46zM850.83 1042.59L858.23 1026.59L843.43 1026.59zM873.52 1029.77L880.92 1013.77L866.12 1013.77zM896.22 1014.48L903.62 998.48L888.82 998.48zM918.91 997.70L926.31 981.70L911.51 981.70zM941.61 980.93L949.01 964.93L934.21 964.93zM964.30 965.15L971.70 949.15L956.90 949.15zM987.00 948.87L994.40 932.87L979.60 932.87z" stroke="#f0f" stroke-width="2.7"/>
<polyline points="230.5,1238.1 234.3,1238.1 238.1,1238.1 241.8,1238.1 245.6,1238.1 249.4,1238.1 253.2,1238.1 257.0,1238.1 260.8,1238.1 264.5,1238.1 268.3,1238.1 272.1,1238.1 275.9,1238.1 279.7,1238.1 283.5,1238.1 287.2,1238.1 291.0,1238.1 294.8,1238.1 298.6,1238.1 302.4,1238.1 306.1,1238.1 309.9,1238.1 313.7,1238.1 317.5,1238.1 321.3,1238.1 325.1,1238.1 328.8,1238.1 332.6,1238.1 336.4,1238.1 340.2,1238.1 344.0,1238.1 347.8,1238.1 351.5,1238.1 355.3,1238.1 359.1,1238.1 362.9,1238.1 366.7,1238.1 370.5,1238.1 374.2,1238.1 378.0,1238.1 381.8,1238.1 385.6,1238.1 389.4,1238.1 393.1,1238.1 396.9,1238.1 400.7,1238.1 404.5,1238.1 408.3,1238.1 412.1,1238.1 415.8,1238.1 419.6,1238.1 423.4,1238.1 427.2,1238.1 431.0,1238.1 434.8,1238.1 438.5,1238.1 442.3,1238.1 446.1,1238.1 449.9,1238.0 453.7,1237.8 457.4,1237.6 461.2,1237.4 465.0,1237.1 468.8,1236.9 472.6,1236.6 476.4,1236.2 480.1,1235.8 483.9,1235.5 487.7,1235.2 491.5,1234.9 495.3,1234.6 499.1,1234.4 502.8,1234.2 506.6,1233.9 510.4,1233.7 514.2,1233.4 518.0,1233.2 521.8,1233.0 525.5,1232.8 529.3,1232.5 533.1,1232.2 536.9,1231.9 540.7,1231.5 544.4,1231.1 548.2,1230.7 552.0,1230.2 555.8,1229.7 559.6,1229.2 563.4,1228.7 567.1,1228.1 570.9,1227.5 574.7,1226.9 578.5,1226.3 582.3,1225.7 586.1,1225.2 589.8,1224.6 593.6,1224.1 597.4,1223.5 601.2,1222.8 605.0,1222.1 608.8,1221.4 612.5,1220.6 616.3,1219.8 620.1,1218.9 623.9,1217.9 627.7,1216.8 631.4,1215.7 635.2,1214.4 639.0,1213.1 642.8,1211.8 646.6,1210.5 650.4,1209.2 654.1,1208.0 657.9,1206.7 661.7,1205.4 665.5,1204.1 669.3,1202.6 673.1,1201.0 676.8,1199.2 680.6,1197.3 684.4,1195.4 688.2,1193.5 692.0,1191.8 695.7,1190.1 699.5,1188.5 703.3,1186.9 707.1,1185.3 710.9,1183.7 714.7,1181.9 718.4,1180.0 722.2,1178.0 726.0,1175.9 729.8,1173.8 733.6,1171.7 737.4,1169.6 741.1,1167.5 744.9,1165.4 748.7,1163.3 752.5,1161.2 756.3,1159.0 760.0,1156.7 763.8,1154.4 767.6,1151.9 771.4,1149.3 775.2,1146.7 779.0,1144.1 782.7,1141.4 786.5,1138.8 790.3,1136.0 794.1,1133.3 797.9,1130.5 801.7,1127.6 805.4,1124.7 809.2,1121.6 813.0,1118.5 816.8,1115.3 820.6,1112.0 824.4,1108.7 828.1,1105.4 831.9,1102.2 835.7,1098.9 839.5,1095.6 843.3,1092.2 847.0,1088.8 850.8,1085.2 854.6,1081.5 858.4,1077.7 862.2,1073.9 866.0,1069.9 869.7,1065.8 873.5,1061.5 877.3,1057.1 881.1,1052.5 884.9,1047.8 888.7,1043.0 892.4,1038.2 896.2,1033.4 900.0,1028.6 903.8,1023.8 907.6,1019.0 911.4,1014.1 915.1,1009.2 918.9,1004.3 922.7,999.3 926.5,994.2 930.3,989.1 934.0,984.0 937.8,979.1 941.6,974.2 945.4,969.6 949.2,965.3 953.0,961.1 956.7,956.7 960.5,952.1 964.3,947.1 968.1,941.6 971.9,935.7 975.7,929.4 979.4,922.8 983.2,915.8 987.0,908.6" stroke="#008000" stroke-width="1.3"/>
<path d="M230.50 1225.13L241.30 1238.13L230.50 1251.13L219.70 1238.13zM238.06 1225.13L248.87 1238.13L238.06 1251.13L227.26 1238.13zM260.76 1225.13L271.56 1238.13L260.76 1251.13L249.96 1238.13zM283.45 1225.13L294.25 1238.13L283.45 1251.13L272.65 1238.13zM306.15 1225.13L316.95 1238.13L306.15 1251.13L295.35 1238.13zM328.85 1225.13L339.65 1238.13L328.85 1251.13L318.05 1238.13zM351.54 1225.13L362.34 1238.13L351.54 1251.13L340.74 1238.13zM374.24 1225.13L385.04 1238.13L374.24 1251.13L363.44 1238.13zM396.93 1225.13L407.73 1238.13L396.93 1251.13L386.13 1238.13zM419.62 1225.13L430.43 1238.13L419.62 1251.13L408.82 1238.13zM442.32 1225.13L453.12 1238.13L442.32 1251.13L431.52 1238.13zM465.01 1224.14L475.81 1237.14L465.01 1250.14L454.21 1237.14zM487.71 1222.17L498.51 1235.17L487.71 1248.17L476.91 1235.17zM510.40 1220.69L521.20 1233.69L510.40 1246.69L499.60 1233.69zM533.10 1219.21L543.90 1232.21L533.10 1245.21L522.30 1232.21zM555.80 1216.74L566.60 1229.74L555.80 1242.74L545.00 1229.74zM578.49 1213.29L589.29 1226.29L578.49 1239.29L567.69 1226.29zM601.18 1209.84L611.98 1222.84L601.18 1235.84L590.38 1222.84zM623.88 1204.90L634.68 1217.90L623.88 1230.90L613.08 1217.90zM646.58 1197.50L657.38 1210.50L646.58 1223.50L635.78 1210.50zM669.27 1189.61L680.07 1202.61L669.27 1215.61L658.47 1202.61zM691.96 1178.76L702.76 1191.76L691.96 1204.76L681.16 1191.76zM714.66 1168.89L725.46 1181.89L714.66 1194.89L703.86 1181.89zM737.36 1156.56L748.15 1169.56L737.36 1182.56L726.56 1169.56zM760.05 1143.73L770.85 1156.73L760.05 1169.73L749.25 1156.73zM782.75 1128.44L793.54 1141.44L782.75 1154.44L771.95 1141.44zM805.44 1111.67L816.24 1124.67L805.44 1137.67L794.64 1124.67zM828.13 1092.43L838.93 1105.43L828.13 1118.43L817.34 1105.43zM850.83 1072.20L861.63 1085.20L850.83 1098.20L840.03 1085.20zM873.52 1048.53L884.32 1061.53L873.52 1074.53L862.73 1061.53zM896.22 1020.41L907.02 1033.41L896.22 1046.41L885.42 1033.41zM918.91 991.30L929.71 1004.30L918.91 1017.30L908.12 1004.30zM941.61 961.21L952.41 974.21L941.61 987.21L930.81 974.21zM964.30 934.08L975.10 947.08L964.30 960.08L953.50 947.08zM987.00 895.60L997.80 908.60L987.00 921.60L976.20 908.60z" stroke="#008000" stroke-width="2.4"/>
<polyline points="230.5,1467.0 234.3,1466.9 238.1,1466.7 241.8,1466.5 245.6,1466.3 249.4,1466.2 253.2,1466.0 257.0,1465.7 260.8,1465.5 264.5,1465.3 268.3,1465.1 272.1,1464.8 275.9,1464.5 279.7,1464.3 283.5,1464.1 287.2,1463.9 291.0,1463.7 294.8,1463.5 298.6,1463.4 302.4,1463.2 306.1,1463.1 309.9,1462.9 313.7,1462.8 317.5,1462.6 321.3,1462.4 325.1,1462.3 328.8,1462.1 332.6,1461.9 336.4,1461.6 340.2,1461.3 344.0,1461.1 347.8,1460.8 351.5,1460.6 355.3,1460.4 359.1,1460.3 362.9,1460.1 366.7,1460.0 370.5,1459.8 374.2,1459.6 378.0,1459.3 381.8,1459.0 385.6,1458.5 389.4,1458.1 393.1,1457.6 396.9,1457.2 400.7,1456.7 404.5,1456.3 408.3,1455.9 412.1,1455.5 415.8,1455.1 419.6,1454.7 423.4,1454.2 427.2,1453.8 431.0,1453.3 434.8,1452.8 438.5,1452.3 442.3,1451.7 446.1,1451.1 449.9,1450.5 453.7,1449.9 457.4,1449.2 461.2,1448.5 465.0,1447.8 468.8,1447.0 472.6,1446.3 476.4,1445.5 480.1,1444.7 483.9,1443.8 487.7,1442.8 491.5,1441.8 495.3,1440.8 499.1,1439.6 502.8,1438.4 506.6,1437.2 510.4,1435.9 514.2,1434.7 518.0,1433.3 521.8,1431.9 525.5,1430.5 529.3,1429.0 533.1,1427.6 536.9,1426.0 540.7,1424.4 544.4,1422.8 548.2,1421.1 552.0,1419.4 555.8,1417.7 559.6,1416.0 563.4,1414.4 567.1,1412.7 570.9,1411.0 574.7,1409.2 578.5,1407.3 582.3,1405.3 586.1,1403.2 589.8,1400.9 593.6,1398.6 597.4,1396.3 601.2,1394.0 605.0,1391.7 608.8,1389.4 612.5,1387.0 616.3,1384.6 620.1,1382.2 623.9,1379.7 627.7,1377.2 631.4,1374.8 635.2,1372.3 639.0,1369.7 642.8,1367.1 646.6,1364.4 650.4,1361.6 654.1,1358.6 657.9,1355.5 661.7,1352.4 665.5,1349.3 669.3,1346.2 673.1,1343.0 676.8,1339.9 680.6,1336.7 684.4,1333.5 688.2,1330.2 692.0,1326.9 695.7,1323.6 699.5,1320.2 703.3,1316.8 707.1,1313.3 710.9,1309.8 714.7,1306.2 718.4,1302.5 722.2,1298.7 726.0,1294.8 729.8,1290.9 733.6,1287.0 737.4,1283.0 741.1,1279.1 744.9,1275.1 748.7,1271.1 752.5,1267.1 756.3,1263.0 760.0,1258.8 763.8,1254.6 767.6,1250.3 771.4,1246.0 775.2,1241.6 779.0,1237.1 782.7,1232.7 786.5,1228.3 790.3,1223.8 794.1,1219.4 797.9,1214.9 801.7,1210.3 805.4,1205.6 809.2,1200.8 813.0,1195.8 816.8,1190.8 820.6,1185.8 824.4,1180.6 828.1,1175.5 831.9,1170.3 835.7,1165.0 839.5,1159.6 843.3,1154.2 847.0,1148.8 850.8,1143.4 854.6,1138.0 858.4,1132.6 862.2,1127.1 866.0,1121.6 869.7,1116.0 873.5,1110.4 877.3,1104.6 881.1,1098.7 884.9,1092.7 888.7,1086.6 892.4,1080.5 896.2,1074.4 900.0,1068.1 903.8,1061.8 907.6,1055.5 911.4,1049.1 915.1,1042.7 918.9,1036.4 922.7,1030.0 926.5,1023.7 930.3,1017.4 934.0,1011.0 937.8,1004.7 941.6,998.4 945.4,992.1 949.2,985.9 953.0,979.7 956.7,973.4 960.5,967.0 964.3,960.4 968.1,953.6 971.9,946.6 975.7,939.4 979.4,932.1 983.2,924.6 987.0,917.0" stroke="#000080" stroke-width="1.3"/>
<path d="M219.83 1467.02L235.83 1455.52L235.83 1478.52zM227.40 1466.70L243.40 1455.20L243.40 1478.20zM250.09 1465.54L266.09 1454.04L266.09 1477.04zM272.79 1464.06L288.79 1452.56L288.79 1475.56zM295.48 1463.07L311.48 1451.57L311.48 1474.57zM318.18 1462.09L334.18 1450.59L334.18 1473.59zM340.87 1460.61L356.87 1449.11L356.87 1472.11zM363.57 1459.62L379.57 1448.12L379.57 1471.12zM386.26 1457.15L402.26 1445.65L402.26 1468.65zM408.96 1454.69L424.96 1443.19L424.96 1466.19zM431.65 1451.73L447.65 1440.23L447.65 1463.23zM454.35 1447.78L470.35 1436.28L470.35 1459.28zM477.04 1442.85L493.04 1431.35L493.04 1454.35zM499.74 1435.94L515.74 1424.44L515.74 1447.44zM522.43 1427.55L538.43 1416.05L538.43 1439.05zM545.13 1417.69L561.13 1406.19L561.13 1429.19zM567.82 1407.33L583.82 1395.83L583.82 1418.83zM590.52 1394.01L606.52 1382.51L606.52 1405.51zM613.21 1379.70L629.21 1368.20L629.21 1391.20zM635.91 1364.41L651.91 1352.91L651.91 1375.91zM658.60 1346.16L674.60 1334.66L674.60 1357.66zM681.30 1326.92L697.30 1315.42L697.30 1338.42zM703.99 1306.20L719.99 1294.70L719.99 1317.70zM726.69 1283.02L742.69 1271.52L742.69 1294.52zM749.38 1258.85L765.38 1247.35L765.38 1270.35zM772.08 1232.70L788.08 1221.20L788.08 1244.20zM794.77 1205.57L810.77 1194.07L810.77 1217.07zM817.47 1175.48L833.47 1163.98L833.47 1186.98zM840.16 1143.41L856.16 1131.91L856.16 1154.91zM862.86 1110.36L878.86 1098.86L878.86 1121.86zM885.55 1074.35L901.55 1062.85L901.55 1085.85zM908.25 1036.37L924.25 1024.87L924.25 1047.87zM930.94 998.38L946.94 986.88L946.94 1009.88zM953.64 960.40L969.64 948.90L969.64 971.90zM976.33 916.99L992.33 905.49L992.33 928.49z" stroke="#000080" stroke-width="2.8"/>
</g>
<g stroke="#000" stroke-width="2" fill="none" stroke-linecap="butt">
<path d="M230.5 854H987 V1545 H230.5 Z"/>
<path d="M218.5 953H230.5M218.5 1150.32H230.5M218.5 1347.64H230.5M218.5 1544.96H230.5M225 854.34H230.5M225 1051.66H230.5M225 1248.98H230.5M225 1446.3H230.5M230.5 1545V1558.5M381.8 1545V1558.5M533.1 1545V1558.5M684.4 1545V1558.5M835.7 1545V1558.5M987 1545V1558.5M306.15 1545V1551.5M457.45 1545V1551.5M608.75 1545V1551.5M760.05 1545V1551.5M911.35 1545V1551.5"/>
</g>
<text x="209" y="963.8" font-size="36.5" text-anchor="end" fill="#000">0</text>
<text x="209" y="1161.12" font-size="36.5" text-anchor="end" fill="#000" letter-spacing="-0.6">&#8722;40</text>
<text x="209" y="1358.44" font-size="36.5" text-anchor="end" fill="#000" letter-spacing="-0.6">&#8722;80</text>
<text x="209" y="1555.76" font-size="36.5" text-anchor="end" fill="#000" letter-spacing="-0.6">&#8722;120</text>
<text x="226.2" y="1596.5" font-size="36.5" text-anchor="middle" fill="#000" letter-spacing="-1">&#8722;50</text>
<text x="377.5" y="1596.5" font-size="36.5" text-anchor="middle" fill="#000" letter-spacing="-1">&#8722;40</text>
<text x="528.8" y="1596.5" font-size="36.5" text-anchor="middle" fill="#000" letter-spacing="-1">&#8722;30</text>
<text x="680.1" y="1596.5" font-size="36.5" text-anchor="middle" fill="#000" letter-spacing="-1">&#8722;20</text>
<text x="831.4" y="1596.5" font-size="36.5" text-anchor="middle" fill="#000" letter-spacing="-1">&#8722;10</text>
<text x="986.5" y="1596.5" font-size="36.5" text-anchor="middle" fill="#000">0</text>
<text x="557" y="1644.4" font-size="38"><tspan font-style="italic">V</tspan><tspan font-size="29" dy="11" dx="0">D</tspan><tspan dy="-11" dx="-3"> (V)</tspan></text>
<text transform="translate(128.5 1291) rotate(-90)" font-size="41"><tspan font-style="italic">I</tspan><tspan font-size="30" dy="11">D</tspan><tspan dy="-11" dx="-3.5"> (&#956;A)</tspan></text>
<text x="110" y="845.7" font-size="70" text-anchor="start" fill="#000" letter-spacing="2.5">(c)</text>
<text x="883" y="1233.5" font-size="27" font-style="italic" transform="translate(883 0) scale(0.85 1) translate(-883 0)">V</text>
<text x="901.5" y="1245" font-size="14">G</text>
<path d="M817.8 1277.6H893.5" stroke="#000" stroke-width="1.6"/>
<path d="M848.01 1270.01h15.18v15.18h-15.18z" stroke="#000" stroke-width="2.8899999999999997" fill="none"/>
<text x="902" y="1289.1" font-size="29" letter-spacing="1.8" transform="translate(902 0) scale(0.9 1) translate(-902 0)" stroke="#fff" stroke-width="0.7">0 V</text>
<path d="M817.8 1322.9H893.5" stroke="#f00" stroke-width="1.6"/>
<path d="M847.66 1322.90a7.94 10.19 0 1 0 15.88 0a7.94 10.19 0 1 0 -15.88 0z" stroke="#f00" stroke-width="2.72" fill="none"/>
<text x="902" y="1334.4" font-size="29" letter-spacing="1.8" transform="translate(902 0) scale(0.9 1) translate(-902 0)" stroke="#fff" stroke-width="0.7">&#8722;10 V</text>
<path d="M817.8 1368.2H893.5" stroke="#00f" stroke-width="1.6"/>
<path d="M855.60 1358.40L864.48 1377.60L846.72 1377.60z" stroke="#00f" stroke-width="2.295" fill="none"/>
<text x="902" y="1379.7" font-size="29" letter-spacing="1.8" transform="translate(902 0) scale(0.9 1) translate(-902 0)" stroke="#fff" stroke-width="0.7">&#8722;20 V</text>
<path d="M817.8 1413.5H893.5" stroke="#f0f" stroke-width="1.6"/>
<path d="M855.60 1424.30L864.48 1405.10L846.72 1405.10z" stroke="#f0f" stroke-width="2.295" fill="none"/>
<text x="902" y="1425.0" font-size="29" letter-spacing="1.8" transform="translate(902 0) scale(0.9 1) translate(-902 0)" stroke="#fff" stroke-width="0.7">&#8722;30 V</text>
<path d="M817.8 1458.8H893.5" stroke="#008000" stroke-width="1.6"/>
<path d="M855.60 1445.80L866.40 1458.80L855.60 1471.80L844.80 1458.80z" stroke="#008000" stroke-width="2.04" fill="none"/>
<text x="902" y="1470.3" font-size="29" letter-spacing="1.8" transform="translate(902 0) scale(0.9 1) translate(-902 0)" stroke="#fff" stroke-width="0.7">&#8722;40 V</text>
<path d="M817.8 1504.1H893.5" stroke="#000080" stroke-width="1.6"/>
<path d="M844.93 1504.10L860.93 1492.60L860.93 1515.60z" stroke="#000080" stroke-width="2.38" fill="none"/>
<text x="902" y="1515.6" font-size="29" letter-spacing="1.8" transform="translate(902 0) scale(0.9 1) translate(-902 0)" stroke="#fff" stroke-width="0.7">&#8722;50 V</text>
<g clip-path="url(#cpd)" fill="none">
<polyline points="1274.5,935.5 1297.1,942.6 1319.7,948.1 1342.3,951.9 1364.9,956.3 1387.4,961.2 1410.0,965.6 1432.6,971.0 1455.2,977.6 1477.8,983.0 1500.4,990.1 1522.9,996.7 1545.5,1003.8 1568.1,1011.9 1590.7,1020.1 1613.3,1029.4 1635.9,1039.2 1658.4,1050.2 1681.0,1061.1 1703.6,1075.8 1726.2,1091.1 1748.8,1108.0 1771.4,1127.7 1793.9,1151.1 1816.5,1179.5 1839.1,1212.2 1861.7,1253.7 1884.3,1305.6 1906.9,1373.2 1929.4,1450.2 1952.0,1496.6 1974.6,1492.2 1997.2,1483.0 2019.8,1443.1" stroke="#000" stroke-width="1.5"/>
<polyline points="1274.5,942.6 1297.1,968.3 1319.7,992.8 1342.3,1016.3 1364.9,1040.9 1387.4,1064.9 1410.0,1089.4 1432.6,1114.0 1455.2,1140.2 1477.8,1164.8 1500.4,1189.3 1522.9,1213.9 1545.5,1237.3 1568.1,1260.3 1590.7,1283.2 1613.3,1305.0 1635.9,1326.8 1658.4,1348.7 1681.0,1369.4 1703.6,1389.6 1726.2,1408.7 1748.8,1427.3 1771.4,1444.7 1793.9,1460.6 1816.5,1474.2 1839.1,1485.7 1861.7,1495.0 1884.3,1503.1 1906.9,1508.6 1929.4,1510.2 1952.0,1511.3 1974.6,1511.4 1997.2,1511.4 2019.8,1511.4" stroke="#00f" stroke-width="1.5"/>
<path d="M1267.0 934.1h15v17h-15zM1289.6 959.8h15v17h-15zM1312.2 984.3h15v17h-15zM1334.8 1007.8h15v17h-15zM1357.4 1032.4h15v17h-15zM1379.9 1056.4h15v17h-15zM1402.5 1080.9h15v17h-15zM1425.1 1105.5h15v17h-15zM1447.7 1131.7h15v17h-15zM1470.3 1156.3h15v17h-15zM1492.9 1180.8h15v17h-15zM1515.4 1205.4h15v17h-15zM1538.0 1228.8h15v17h-15zM1560.6 1251.8h15v17h-15zM1583.2 1274.7h15v17h-15zM1605.8 1296.5h15v17h-15zM1628.4 1318.3h15v17h-15zM1650.9 1340.2h15v17h-15zM1673.5 1360.9h15v17h-15zM1696.1 1381.1h15v17h-15zM1718.7 1400.2h15v17h-15zM1741.3 1418.8h15v17h-15zM1763.9 1436.2h15v17h-15zM1786.4 1452.1h15v17h-15zM1809.0 1465.7h15v17h-15zM1831.6 1477.2h15v17h-15zM1854.2 1486.5h15v17h-15zM1876.8 1494.6h15v17h-15zM1899.4 1500.1h15v17h-15zM1921.9 1501.7h15v17h-15zM1944.5 1502.8h15v17h-15zM1967.1 1502.9h15v17h-15zM1989.7 1502.9h15v17h-15zM2012.3 1502.9h15v17h-15z" stroke="#00f" stroke-width="3.2"/>
<path d="M1265.4 935.5a9.1 10.2 0 1 0 18.2 0a9.1 10.2 0 1 0 -18.2 0zM1288.0 942.6a9.1 10.2 0 1 0 18.2 0a9.1 10.2 0 1 0 -18.2 0zM1310.6 948.1a9.1 10.2 0 1 0 18.2 0a9.1 10.2 0 1 0 -18.2 0zM1333.2 951.9a9.1 10.2 0 1 0 18.2 0a9.1 10.2 0 1 0 -18.2 0zM1355.8 956.3a9.1 10.2 0 1 0 18.2 0a9.1 10.2 0 1 0 -18.2 0zM1378.3 961.2a9.1 10.2 0 1 0 18.2 0a9.1 10.2 0 1 0 -18.2 0zM1400.9 965.6a9.1 10.2 0 1 0 18.2 0a9.1 10.2 0 1 0 -18.2 0zM1423.5 971.0a9.1 10.2 0 1 0 18.2 0a9.1 10.2 0 1 0 -18.2 0zM1446.1 977.6a9.1 10.2 0 1 0 18.2 0a9.1 10.2 0 1 0 -18.2 0zM1468.7 983.0a9.1 10.2 0 1 0 18.2 0a9.1 10.2 0 1 0 -18.2 0zM1491.3 990.1a9.1 10.2 0 1 0 18.2 0a9.1 10.2 0 1 0 -18.2 0zM1513.8 996.7a9.1 10.2 0 1 0 18.2 0a9.1 10.2 0 1 0 -18.2 0zM1536.4 1003.8a9.1 10.2 0 1 0 18.2 0a9.1 10.2 0 1 0 -18.2 0zM1559.0 1011.9a9.1 10.2 0 1 0 18.2 0a9.1 10.2 0 1 0 -18.2 0zM1581.6 1020.1a9.1 10.2 0 1 0 18.2 0a9.1 10.2 0 1 0 -18.2 0zM1604.2 1029.4a9.1 10.2 0 1 0 18.2 0a9.1 10.2 0 1 0 -18.2 0zM1626.8 1039.2a9.1 10.2 0 1 0 18.2 0a9.1 10.2 0 1 0 -18.2 0zM1649.3 1050.2a9.1 10.2 0 1 0 18.2 0a9.1 10.2 0 1 0 -18.2 0zM1671.9 1061.1a9.1 10.2 0 1 0 18.2 0a9.1 10.2 0 1 0 -18.2 0zM1694.5 1075.8a9.1 10.2 0 1 0 18.2 0a9.1 10.2 0 1 0 -18.2 0zM1717.1 1091.1a9.1 10.2 0 1 0 18.2 0a9.1 10.2 0 1 0 -18.2 0zM1739.7 1108.0a9.1 10.2 0 1 0 18.2 0a9.1 10.2 0 1 0 -18.2 0zM1762.3 1127.7a9.1 10.2 0 1 0 18.2 0a9.1 10.2 0 1 0 -18.2 0zM1784.8 1151.1a9.1 10.2 0 1 0 18.2 0a9.1 10.2 0 1 0 -18.2 0zM1807.4 1179.5a9.1 10.2 0 1 0 18.2 0a9.1 10.2 0 1 0 -18.2 0zM1830.0 1212.2a9.1 10.2 0 1 0 18.2 0a9.1 10.2 0 1 0 -18.2 0zM1852.6 1253.7a9.1 10.2 0 1 0 18.2 0a9.1 10.2 0 1 0 -18.2 0zM1875.2 1305.6a9.1 10.2 0 1 0 18.2 0a9.1 10.2 0 1 0 -18.2 0zM1897.8 1373.2a9.1 10.2 0 1 0 18.2 0a9.1 10.2 0 1 0 -18.2 0zM1920.3 1450.2a9.1 10.2 0 1 0 18.2 0a9.1 10.2 0 1 0 -18.2 0zM1942.9 1496.6a9.1 10.2 0 1 0 18.2 0a9.1 10.2 0 1 0 -18.2 0zM1965.5 1492.2a9.1 10.2 0 1 0 18.2 0a9.1 10.2 0 1 0 -18.2 0zM1988.1 1483.0a9.1 10.2 0 1 0 18.2 0a9.1 10.2 0 1 0 -18.2 0zM2010.7 1443.1a9.1 10.2 0 1 0 18.2 0a9.1 10.2 0 1 0 -18.2 0z" stroke="#000" stroke-width="3.2"/>
</g>
<g fill="none" stroke-width="2">
<path d="M1266.4 854.2H2018.7" stroke="#000"/>
<path d="M1267 1545.7H2018.7M1342.3 1545.7V1558.7M1492.8 1545.7V1558.7M1643.4 1545.7V1558.7M1793.9 1545.7V1558.7M1944.5 1545.7V1558.7M1267.0 1545.7V1551.5M1417.6 1545.7V1551.5M1568.1 1545.7V1551.5M1718.7 1545.7V1551.5M1869.2 1545.7V1551.5M2019.8 1545.7V1551.5" stroke="#000"/>
<path d="M2018.7 853.2V1546.7M2006.6 1512.0H2018.7M2006.6 1380.4H2018.7M2006.6 1248.8H2018.7M2006.6 1117.2H2018.7M2006.6 985.6H2018.7M2006.6 854.0H2018.7M2012.5 1446.2H2018.7M2012.5 1314.6H2018.7M2012.5 1183.0H2018.7M2012.5 1051.4H2018.7M2012.5 919.8H2018.7" stroke="#00f"/>
</g>
<text x="1250.8" y="941.5" text-anchor="end" font-size="38">10<tspan font-size="23.5" dy="-18">&#8722;4</tspan></text>
<text x="1250.8" y="1044.6" text-anchor="end" font-size="38">10<tspan font-size="23.5" dy="-18">&#8722;5</tspan></text>
<text x="1250.8" y="1147.6" text-anchor="end" font-size="38">10<tspan font-size="23.5" dy="-18">&#8722;6</tspan></text>
<text x="1250.8" y="1250.7" text-anchor="end" font-size="38">10<tspan font-size="23.5" dy="-18">&#8722;7</tspan></text>
<text x="1250.8" y="1353.8" text-anchor="end" font-size="38">10<tspan font-size="23.5" dy="-18">&#8722;8</tspan></text>
<text x="1250.8" y="1456.8" text-anchor="end" font-size="38">10<tspan font-size="23.5" dy="-18">&#8722;9</tspan></text>
<text x="1250.8" y="1559.9" text-anchor="end" font-size="38">10<tspan font-size="23.5" dy="-18">&#8722;10</tspan></text>
<text x="2031.5" y="1525.2" font-size="38.5" text-anchor="start" fill="#00f" letter-spacing="-1.3">0.000</text>
<text x="2031.5" y="1393.6" font-size="38.5" text-anchor="start" fill="#00f" letter-spacing="-1.3">0.002</text>
<text x="2031.5" y="1262" font-size="38.5" text-anchor="start" fill="#00f" letter-spacing="-1.3">0.004</text>
<text x="2031.5" y="1130.4" font-size="38.5" text-anchor="start" fill="#00f" letter-spacing="-1.3">0.006</text>
<text x="2031.5" y="998.8" font-size="38.5" text-anchor="start" fill="#00f" letter-spacing="-1.3">0.008</text>
<text x="2031.5" y="867.2" font-size="38.5" text-anchor="start" fill="#00f" letter-spacing="-1.3">0.010</text>
<text x="1337.98" y="1596.5" font-size="36.5" text-anchor="middle" fill="#000" letter-spacing="-1">&#8722;40</text>
<text x="1488.53" y="1596.5" font-size="36.5" text-anchor="middle" fill="#000" letter-spacing="-1">&#8722;30</text>
<text x="1639.09" y="1596.5" font-size="36.5" text-anchor="middle" fill="#000" letter-spacing="-1">&#8722;20</text>
<text x="1789.64" y="1596.5" font-size="36.5" text-anchor="middle" fill="#000" letter-spacing="-1">&#8722;10</text>
<text x="1944" y="1596.5" font-size="36.5" text-anchor="middle" fill="#000">0</text>
<text x="1596" y="1650" font-size="38"><tspan font-style="italic">V</tspan><tspan font-size="29" dy="15">G</tspan><tspan dy="-15"> (V)</tspan></text>
<text transform="translate(1159 1253.5) rotate(-90)" font-size="41">|<tspan font-style="italic">I</tspan><tspan font-size="30" dy="11">D</tspan><tspan dy="-11">| (A)</tspan></text>
<text transform="translate(2149 1102) rotate(90)" font-size="41" fill="#00f"><tspan font-style="italic">I</tspan><tspan font-size="28" dy="11">D</tspan><tspan font-size="28" dy="-29">1/2</tspan><tspan dy="18"> (A</tspan><tspan font-size="28" dy="-18">1/2</tspan><tspan dy="18">)</tspan></text>
<text x="1322" y="1495.5" font-size="27.5" transform="translate(1322 0) scale(0.94 1) translate(-1322 0)"><tspan font-style="italic">V</tspan><tspan font-size="14" dy="9">D</tspan><tspan dy="-9"> = &#8722;30 V</tspan></text>
<path d="M1614 1080.8H1689.2" stroke="#000" stroke-width="2.2"/>
<path d="M1598.7 1080.8L1615 1074.2V1087.4Z" fill="#000"/>
<path d="M1583 1272H1665" stroke="#00f" stroke-width="2.2"/>
<path d="M1680.5 1272L1663.6 1267V1277Z" fill="#00f"/>
<text x="1145" y="845.7" font-size="70" text-anchor="start" fill="#000" letter-spacing="2.5">(d)</text>
</svg></body></html>
